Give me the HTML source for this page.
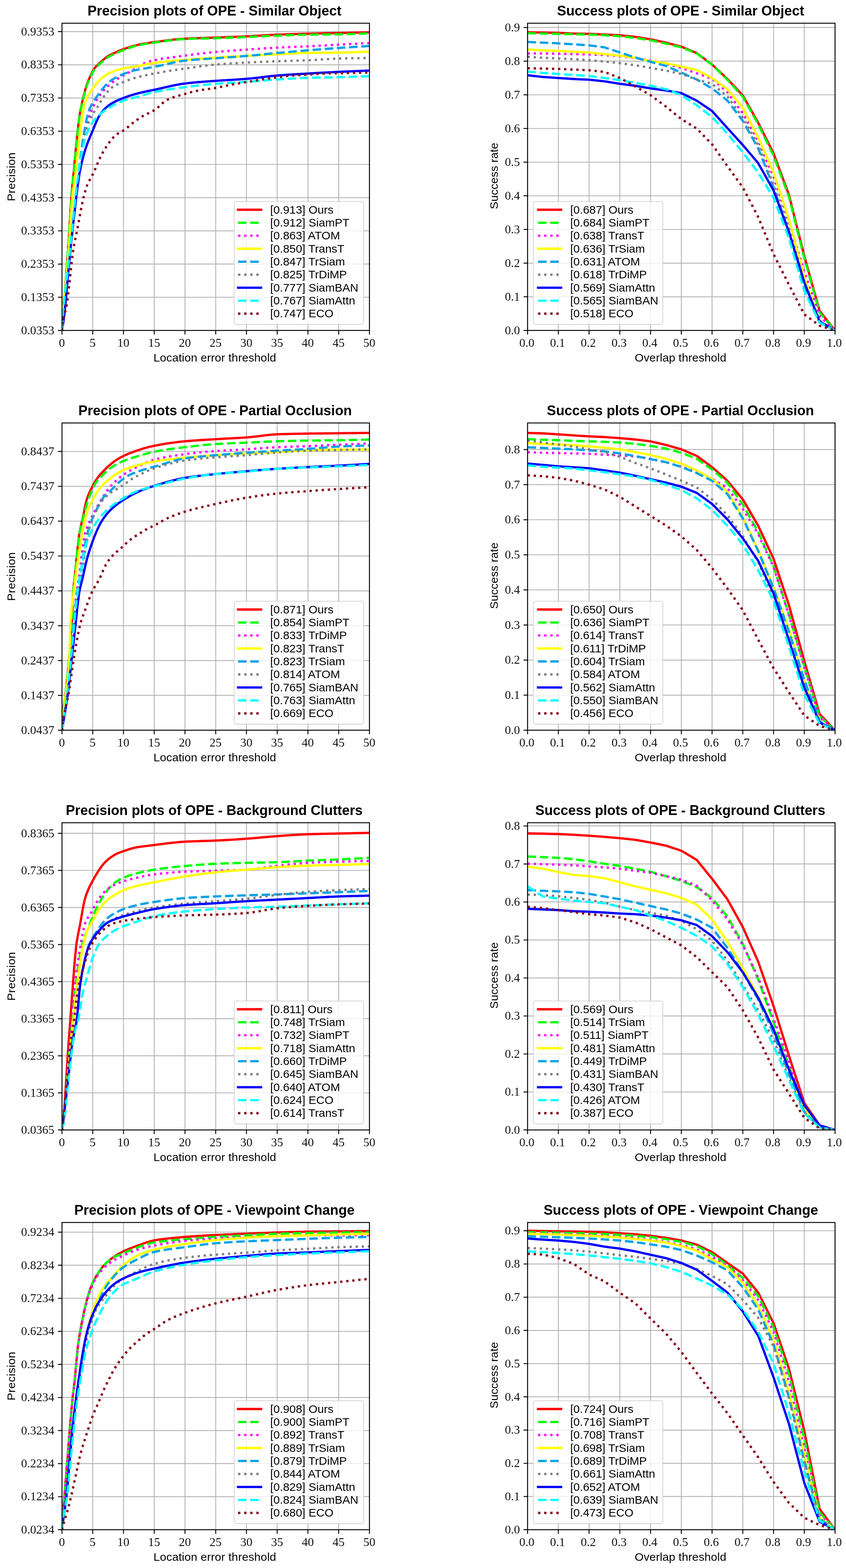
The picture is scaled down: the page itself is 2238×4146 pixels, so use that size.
<!DOCTYPE html><html><head><meta charset="utf-8"><title>Precision and Success plots of OPE</title>
<style>html,body{margin:0;padding:0;background:#fff;}svg{display:block;}#w{width:2238px;height:4146px;}.t{font-family:"Liberation Sans",Arial,Helvetica,sans-serif;}.tb{font-family:"Liberation Sans",Arial,Helvetica,sans-serif;font-weight:bold;}.n{font-family:"Liberation Serif","Times New Roman",serif;}</style></head><body>
<div id="w">
<svg width="2238" height="4146" viewBox="0 0 2238 4146">
<rect x="0" y="0" width="2238" height="4146" fill="#ffffff"/>
<g>
<path d="M164 61.4V873.8M245.33 61.4V873.8M326.66 61.4V873.8M407.99 61.4V873.8M489.32 61.4V873.8M570.65 61.4V873.8M651.98 61.4V873.8M733.31 61.4V873.8M814.64 61.4V873.8M895.97 61.4V873.8M977.3 61.4V873.8M164 873.8H977.3M164 785.99H977.3M164 698.18H977.3M164 610.38H977.3M164 522.57H977.3M164 434.76H977.3M164 346.95H977.3M164 259.14H977.3M164 171.34H977.3M164 83.53H977.3" stroke="#b0b0b0" stroke-width="2.2" fill="none"/>
<clipPath id="c0"><rect x="164" y="61.4" width="813.3" height="812.4"/></clipPath>
<g clip-path="url(#c0)" fill="none" stroke-width="6.08" stroke-linejoin="round">
<path d="M164.0 873.2 164.1 872.2 164.4 868.2 164.6 864.2 164.9 860.2 165.2 856.2 165.5 852.2 165.8 848.2 166.1 844.2 166.4 840.3 166.6 836.3 166.9 832.3 167.2 828.3 167.5 824.3 167.8 820.3 168.1 816.3 168.4 812.3 168.7 808.3 169.0 804.3 169.2 800.3 169.5 796.3 169.8 792.4 170.1 788.4 170.4 784.4 170.7 780.4 171.1 776.4 171.4 772.4 171.7 768.4 172.0 764.4 172.3 760.4 172.7 756.5 173.0 752.5 173.3 748.5 173.6 744.5 173.9 740.5 174.3 736.5 174.6 732.5 174.9 728.5 175.2 724.5 175.5 720.5 175.8 716.6 176.1 712.6 176.5 708.6 176.8 704.6 177.1 700.6 177.4 696.6 177.7 692.6 178.0 688.6 178.3 684.6 178.6 680.6 178.8 676.7 179.1 672.7 179.4 668.7 179.7 664.7 180.0 660.7 180.3 656.7 180.5 652.7 180.8 648.7 181.1 644.7 181.3 640.7 181.6 636.7 181.9 632.7 182.1 628.7 182.4 624.8 182.7 620.8 182.9 616.8 183.2 612.8 183.5 608.8 183.7 604.8 183.9 600.8 184.1 596.8 184.4 592.8 184.6 588.8 184.8 584.8 185.1 580.8 185.3 576.8 185.5 572.8 185.8 568.8 186.0 564.8 186.2 560.8 186.5 556.8 186.7 552.8 187.0 548.9 187.2 544.9 187.5 540.9 187.7 536.9 187.9 532.9 188.2 528.9 188.5 524.9 188.8 520.9 189.1 516.9 189.4 512.9 189.8 508.9 190.2 505.0 190.5 501.0 190.9 497.0 191.2 493.0 191.6 489.0 192.0 485.0 192.4 481.0 192.8 477.1 193.2 473.1 193.5 469.1 193.9 465.1 194.3 461.1 194.7 457.2 195.1 453.2 195.4 449.2 195.8 445.2 196.2 441.2 196.5 437.2 196.9 433.2 197.2 429.3 197.6 425.3 198.0 421.3 198.3 417.3 198.7 413.3 199.1 409.3 199.4 405.3 199.8 401.4 200.2 397.4 200.6 393.4 201.0 389.4 201.4 385.4 201.8 381.4 202.2 377.5 202.6 373.5 203.0 369.5 203.4 365.5 203.8 361.5 204.2 357.6 204.6 353.6 205.0 349.6 205.4 345.6 205.8 341.6 206.3 337.7 206.8 333.7 207.3 329.7 207.8 325.7 208.3 321.8 208.8 317.8 209.3 313.8 209.8 309.9 210.4 305.9 211.0 302.0 211.7 298.0 212.4 294.1 213.2 290.2 213.9 286.2 214.7 282.3 215.5 278.4 216.3 274.5 217.2 270.6 218.1 266.7 219.1 262.8 220.0 258.9 221.0 255.0 222.0 251.1 223.0 247.2 224.0 243.4 225.0 239.5 226.1 235.7 227.2 231.8 228.4 228.0 229.6 224.2 230.9 220.4 232.3 216.7 233.8 213.0 235.4 209.3 237.0 205.6 238.6 202.0 240.4 198.3 242.1 194.7 243.8 191.1 245.6 187.6 247.6 184.1 249.7 180.8 252.2 177.7 255.0 174.8 257.9 172.1 260.9 169.4 263.8 166.7 266.7 164.0 269.7 161.3 272.7 158.6 275.7 156.0 278.8 153.5 282.0 151.1 285.3 148.9 288.8 146.9 292.3 145.0 295.9 143.3 299.5 141.6 303.1 139.9 306.8 138.2 310.4 136.5 314.1 134.9 317.8 133.4 321.5 131.9 325.3 130.5 329.0 129.2 332.8 127.9 336.6 126.6 340.4 125.4 344.2 124.2 348.1 123.0 351.9 121.9 355.8 120.9 359.6 119.9 363.5 118.9 367.4 118.1 371.4 117.3 375.3 116.5 379.2 115.8 383.2 115.1 387.1 114.4 391.1 113.8 395.0 113.2 399.0 112.6 402.9 112.1 406.9 111.5 410.9 111.0 414.8 110.4 418.8 109.9 422.8 109.3 426.7 108.8 430.7 108.3 434.7 107.7 438.6 107.2 442.6 106.7 446.6 106.2 450.5 105.8 454.5 105.3 458.5 104.8 462.5 104.4 466.5 104.0 470.4 103.6 474.4 103.3 478.4 103.0 482.4 102.7 486.4 102.4 490.4 102.2 494.4 102.0 498.4 101.8 502.4 101.6 506.4 101.4 510.4 101.3 514.4 101.1 518.4 101.0 522.4 100.9 526.4 100.7 530.4 100.6 534.4 100.5 538.4 100.4 542.4 100.2 546.4 100.1 550.4 100.0 554.4 99.9 558.4 99.8 562.4 99.6 566.4 99.5 570.4 99.3 574.4 99.2 578.4 99.0 582.4 98.9 586.4 98.7 590.4 98.6 594.4 98.4 598.4 98.3 602.4 98.1 606.4 98.0 610.4 97.8 614.4 97.7 618.4 97.5 622.4 97.4 626.4 97.2 630.4 97.0 634.4 96.9 638.4 96.7 642.4 96.5 646.4 96.3 650.4 96.2 654.3 96.0 658.3 95.8 662.3 95.6 666.3 95.4 670.3 95.1 674.3 94.9 678.3 94.7 682.3 94.4 686.3 94.2 690.3 94.0 694.3 93.7 698.3 93.5 702.3 93.3 706.3 93.0 710.3 92.8 714.3 92.6 718.3 92.4 722.3 92.2 726.3 92.0 730.3 91.8 734.3 91.7 738.3 91.5 742.3 91.3 746.3 91.2 750.3 91.0 754.3 90.9 758.3 90.8 762.3 90.6 766.3 90.5 770.3 90.4 774.3 90.2 778.3 90.1 782.3 90.0 786.3 89.9 790.3 89.7 794.3 89.6 798.3 89.5 802.3 89.4 806.3 89.3 810.3 89.2 814.3 89.1 818.3 89.0 822.3 88.9 826.3 88.8 830.3 88.7 834.3 88.6 838.3 88.5 842.3 88.4 846.3 88.3 850.3 88.2 854.3 88.2 858.3 88.1 862.3 88.0 866.3 87.9 870.3 87.8 874.3 87.8 878.3 87.7 882.3 87.6 886.3 87.5 890.3 87.4 894.3 87.3 898.3 87.3 902.3 87.2 906.3 87.1 910.3 87.0 914.3 86.9 918.3 86.8 922.3 86.7 926.3 86.6 930.3 86.6 934.3 86.5 938.3 86.4 942.3 86.3 946.3 86.2 950.3 86.1 954.3 86.0 958.3 86.0 962.3 85.9 966.3 85.8 970.3 85.7 974.3 85.6 977.3 85.5" stroke="#ff0000" stroke-linecap="square"/>
<path d="M164.0 873.2 164.1 872.2 164.4 868.2 164.6 864.2 164.9 860.2 165.2 856.2 165.5 852.2 165.8 848.2 166.1 844.3 166.4 840.3 166.6 836.3 166.9 832.3 167.2 828.3 167.5 824.3 167.8 820.3 168.1 816.3 168.4 812.3 168.7 808.3 169.0 804.3 169.2 800.4 169.5 796.4 169.8 792.4 170.1 788.4 170.4 784.4 170.7 780.4 171.1 776.4 171.4 772.4 171.7 768.4 172.0 764.4 172.3 760.5 172.7 756.5 173.0 752.5 173.3 748.5 173.6 744.5 173.9 740.5 174.3 736.5 174.6 732.5 174.9 728.6 175.2 724.6 175.5 720.6 175.8 716.6 176.1 712.6 176.5 708.6 176.8 704.6 177.1 700.6 177.4 696.6 177.7 692.6 178.0 688.7 178.3 684.7 178.5 680.7 178.8 676.7 179.1 672.7 179.4 668.7 179.7 664.7 180.0 660.7 180.3 656.7 180.5 652.7 180.8 648.7 181.1 644.8 181.3 640.8 181.6 636.8 181.9 632.8 182.1 628.8 182.4 624.8 182.7 620.8 182.9 616.8 183.2 612.8 183.5 608.8 183.7 604.8 183.9 600.8 184.2 596.8 184.4 592.8 184.6 588.9 184.9 584.9 185.1 580.9 185.3 576.9 185.6 572.9 185.8 568.9 186.1 564.9 186.3 560.9 186.6 556.9 186.8 552.9 187.1 548.9 187.3 544.9 187.6 540.9 187.8 536.9 188.1 532.9 188.4 528.9 188.7 525.0 189.0 521.0 189.3 517.0 189.7 513.0 190.0 509.0 190.4 505.0 190.7 501.0 191.1 497.1 191.5 493.1 191.8 489.1 192.2 485.1 192.6 481.1 193.0 477.1 193.4 473.2 193.8 469.2 194.2 465.2 194.6 461.2 194.9 457.2 195.3 453.2 195.7 449.3 196.0 445.3 196.4 441.3 196.7 437.3 197.1 433.3 197.5 429.3 197.8 425.3 198.2 421.4 198.6 417.4 198.9 413.4 199.3 409.4 199.7 405.4 200.0 401.4 200.4 397.5 200.8 393.5 201.2 389.5 201.6 385.5 202.0 381.5 202.4 377.6 202.8 373.6 203.2 369.6 203.6 365.6 204.0 361.6 204.4 357.6 204.8 353.7 205.2 349.7 205.7 345.7 206.1 341.7 206.6 337.8 207.1 333.8 207.6 329.8 208.1 325.9 208.6 321.9 209.1 317.9 209.6 313.9 210.1 310.0 210.8 306.0 211.4 302.1 212.2 298.2 212.9 294.2 213.7 290.3 214.4 286.4 215.2 282.4 216.0 278.5 216.9 274.6 217.8 270.7 218.7 266.8 219.7 262.9 220.6 259.1 221.6 255.2 222.6 251.3 223.6 247.4 224.6 243.6 225.7 239.7 226.8 235.9 228.0 232.0 229.2 228.2 230.5 224.4 231.8 220.7 233.3 217.0 234.8 213.3 236.4 209.6 238.0 205.9 239.7 202.3 241.4 198.7 243.2 195.1 244.9 191.5 246.8 188.0 248.9 184.6 251.3 181.4 253.9 178.5 256.8 175.8 259.8 173.1 262.7 170.3 265.6 167.6 268.6 164.9 271.5 162.2 274.6 159.6 277.6 157.1 280.8 154.6 284.1 152.3 287.5 150.3 291.0 148.4 294.6 146.6 298.2 144.8 301.8 143.1 305.4 141.4 309.1 139.8 312.7 138.2 316.4 136.6 320.1 135.1 323.8 133.6 327.6 132.2 331.3 130.7 335.0 129.3 338.8 128.0 342.6 126.6 346.4 125.3 350.2 124.1 354.0 122.9 357.8 121.8 361.7 120.8 365.6 119.8 369.5 119.0 373.4 118.2 377.3 117.4 381.3 116.7 385.2 116.1 389.2 115.5 393.1 114.9 397.1 114.3 401.1 113.7 405.0 113.2 409.0 112.6 412.9 112.1 416.9 111.5 420.9 110.9 424.8 110.3 428.8 109.8 432.7 109.2 436.7 108.6 440.7 108.1 444.6 107.5 448.6 107.0 452.6 106.5 456.5 106.0 460.5 105.5 464.5 105.1 468.5 104.7 472.4 104.3 476.4 103.9 480.4 103.6 484.4 103.4 488.4 103.2 492.4 103.0 496.4 102.8 500.4 102.7 504.4 102.6 508.4 102.5 512.4 102.3 516.4 102.2 520.4 102.1 524.4 102.1 528.4 102.0 532.4 101.9 536.4 101.8 540.4 101.7 544.4 101.6 548.4 101.6 552.4 101.5 556.4 101.4 560.4 101.3 564.4 101.2 568.4 101.1 572.4 100.9 576.4 100.8 580.4 100.7 584.4 100.5 588.4 100.4 592.4 100.3 596.4 100.1 600.4 99.9 604.4 99.8 608.4 99.6 612.4 99.5 616.4 99.3 620.4 99.1 624.4 99.0 628.4 98.8 632.4 98.7 636.4 98.5 640.4 98.3 644.4 98.2 648.4 98.0 652.4 97.8 656.4 97.7 660.4 97.5 664.4 97.3 668.4 97.1 672.4 97.0 676.4 96.8 680.4 96.6 684.3 96.4 688.3 96.2 692.3 96.1 696.3 95.9 700.3 95.7 704.3 95.5 708.3 95.3 712.3 95.2 716.3 95.0 720.3 94.8 724.3 94.7 728.3 94.5 732.3 94.4 736.3 94.2 740.3 94.1 744.3 93.9 748.3 93.8 752.3 93.6 756.3 93.5 760.3 93.3 764.3 93.2 768.3 93.0 772.3 92.9 776.3 92.7 780.3 92.6 784.3 92.5 788.3 92.3 792.3 92.2 796.3 92.1 800.3 92.0 804.3 91.9 808.3 91.8 812.3 91.7 816.3 91.7 820.3 91.6 824.3 91.6 828.3 91.5 832.3 91.5 836.3 91.4 840.3 91.4 844.3 91.3 848.3 91.3 852.3 91.3 856.3 91.2 860.3 91.2 864.3 91.2 868.3 91.1 872.3 91.1 876.3 91.1 880.3 91.0 884.3 91.0 888.3 90.9 892.3 90.9 896.3 90.8 900.3 90.7 904.3 90.6 908.3 90.6 912.3 90.4 916.3 90.3 920.3 90.2 924.3 90.1 928.3 90.0 932.3 89.8 936.3 89.7 940.3 89.5 944.3 89.4 948.3 89.2 952.3 89.1 956.3 88.9 960.3 88.8 964.3 88.6 968.3 88.5 972.3 88.4 976.3 88.2 977.3 88.2" stroke="#00ff00" stroke-dasharray="22.5,9.73"/>
<path d="M164.0 869.7 164.1 868.7 164.4 864.7 164.7 860.7 165.0 856.7 165.3 852.7 165.6 848.7 166.0 844.7 166.3 840.8 166.6 836.8 166.9 832.8 167.2 828.8 167.6 824.8 167.9 820.8 168.2 816.8 168.6 812.8 168.9 808.9 169.2 804.9 169.6 800.9 170.0 796.9 170.4 792.9 170.8 788.9 171.2 785.0 171.6 781.0 172.0 777.0 172.4 773.0 172.8 769.0 173.2 765.1 173.6 761.1 174.0 757.1 174.4 753.1 174.8 749.1 175.3 745.2 175.7 741.2 176.2 737.2 176.6 733.2 177.0 729.2 177.5 725.3 177.9 721.3 178.3 717.3 178.8 713.3 179.2 709.4 179.6 705.4 180.1 701.4 180.5 697.4 180.9 693.5 181.4 689.5 181.8 685.5 182.2 681.5 182.7 677.5 183.1 673.6 183.5 669.6 184.0 665.6 184.4 661.6 184.8 657.7 185.3 653.7 185.7 649.7 186.2 645.7 186.6 641.7 187.0 637.8 187.5 633.8 187.9 629.8 188.3 625.8 188.8 621.9 189.2 617.9 189.6 613.9 190.0 609.9 190.5 605.9 190.9 602.0 191.3 598.0 191.7 594.0 192.2 590.0 192.6 586.1 193.0 582.1 193.5 578.1 193.9 574.1 194.4 570.1 194.8 566.2 195.2 562.2 195.7 558.2 196.1 554.2 196.6 550.3 197.0 546.3 197.5 542.3 198.0 538.3 198.5 534.4 199.0 530.4 199.4 526.4 199.9 522.5 200.4 518.5 200.9 514.5 201.4 510.5 201.9 506.6 202.5 502.6 203.0 498.6 203.5 494.7 204.1 490.7 204.6 486.7 205.1 482.8 205.7 478.8 206.2 474.9 206.7 470.9 207.3 466.9 207.8 463.0 208.4 459.0 208.9 455.0 209.5 451.1 210.0 447.1 210.6 443.1 211.1 439.2 211.6 435.2 212.2 431.3 212.7 427.3 213.3 423.3 213.8 419.4 214.4 415.4 214.9 411.4 215.5 407.5 216.1 403.5 216.6 399.6 217.2 395.6 217.8 391.6 218.4 387.7 219.0 383.7 219.6 379.8 220.2 375.8 220.9 371.9 221.5 367.9 222.2 364.0 222.8 360.0 223.5 356.1 224.2 352.2 225.0 348.2 225.8 344.3 226.7 340.4 227.5 336.5 228.4 332.6 229.4 328.7 230.4 324.9 231.6 321.0 232.7 317.2 233.9 313.4 235.2 309.6 236.6 305.8 238.0 302.1 239.4 298.4 240.9 294.6 242.5 291.0 244.1 287.3 245.7 283.6 247.4 280.0 249.2 276.4 251.0 272.9 252.9 269.4 254.9 265.9 257.0 262.5 259.1 259.1 261.3 255.7 263.6 252.4 265.9 249.2 268.4 246.1 270.9 243.0 273.5 239.9 276.2 236.9 278.9 234.0 281.7 231.2 284.6 228.4 287.6 225.7 290.6 223.1 293.7 220.6 296.9 218.1 300.1 215.8 303.3 213.5 306.7 211.2 310.0 209.1 313.4 206.9 316.8 204.8 320.3 202.8 323.7 200.8 327.2 198.8 330.7 196.9 334.3 195.0 337.8 193.2 341.3 191.3 344.9 189.4 348.4 187.5 351.8 185.5 355.2 183.4 358.6 181.2 361.9 179.0 365.3 176.8 368.6 174.7 372.0 172.5 375.5 170.5 379.0 168.6 382.5 166.8 386.2 165.2 390.0 163.9 393.8 162.8 397.7 161.7 401.6 160.8 405.5 159.9 409.4 159.0 413.3 158.2 417.2 157.4 421.1 156.7 425.1 156.0 429.0 155.3 433.0 154.6 436.9 154.0 440.9 153.4 444.8 152.9 448.8 152.3 452.8 151.8 456.7 151.3 460.7 150.7 464.7 150.2 468.6 149.7 472.6 149.2 476.6 148.7 480.5 148.2 484.5 147.7 488.5 147.1 492.4 146.6 496.4 146.0 500.4 145.5 504.3 145.0 508.3 144.5 512.3 143.9 516.2 143.4 520.2 142.9 524.2 142.4 528.1 141.9 532.1 141.5 536.1 141.0 540.1 140.5 544.0 140.1 548.0 139.7 552.0 139.2 556.0 138.8 560.0 138.4 563.9 138.0 567.9 137.6 571.9 137.2 575.9 136.9 579.9 136.5 583.9 136.2 587.8 135.9 591.8 135.5 595.8 135.2 599.8 134.9 603.8 134.6 607.8 134.3 611.8 134.0 615.8 133.7 619.8 133.4 623.8 133.2 627.7 132.9 631.7 132.6 635.7 132.3 639.7 132.1 643.7 131.8 647.7 131.5 651.7 131.2 655.7 130.9 659.7 130.7 663.7 130.4 667.7 130.1 671.7 129.8 675.6 129.6 679.6 129.3 683.6 129.0 687.6 128.7 691.6 128.5 695.6 128.2 699.6 127.9 703.6 127.7 707.6 127.4 711.6 127.2 715.6 126.9 719.6 126.7 723.6 126.5 727.6 126.3 731.5 126.0 735.5 125.8 739.5 125.6 743.5 125.4 747.5 125.3 751.5 125.1 755.5 124.9 759.5 124.7 763.5 124.6 767.5 124.4 771.5 124.2 775.5 124.1 779.5 123.9 783.5 123.8 787.5 123.6 791.5 123.4 795.5 123.3 799.5 123.1 803.5 122.9 807.5 122.8 811.5 122.6 815.5 122.4 819.5 122.2 823.5 122.0 827.5 121.8 831.5 121.6 835.5 121.4 839.5 121.2 843.5 120.9 847.5 120.7 851.5 120.5 855.4 120.3 859.4 120.1 863.4 119.8 867.4 119.6 871.4 119.4 875.4 119.2 879.4 118.9 883.4 118.7 887.4 118.5 891.4 118.3 895.4 118.1 899.4 117.9 903.4 117.6 907.4 117.4 911.4 117.2 915.4 117.0 919.4 116.8 923.4 116.6 927.4 116.3 931.4 116.1 935.3 115.9 939.3 115.7 943.3 115.5 947.3 115.3 951.3 115.0 955.3 114.8 959.3 114.6 963.3 114.4 967.3 114.2 971.3 114.0 975.3 113.8 977.3 113.6" stroke="#ff00ff" stroke-dasharray="6.08,10.03"/>
<path d="M164.0 834.5 164.1 833.6 164.6 829.6 165.0 825.6 165.5 821.6 166.0 817.7 166.4 813.7 166.9 809.7 167.3 805.7 167.8 801.8 168.3 797.8 168.7 793.8 169.2 789.8 169.6 785.8 170.1 781.9 170.5 777.9 171.0 773.9 171.5 769.9 171.9 766.0 172.4 762.0 172.8 758.0 173.3 754.0 173.7 750.1 174.2 746.1 174.6 742.1 175.0 738.1 175.4 734.1 175.8 730.2 176.1 726.2 176.5 722.2 176.9 718.2 177.3 714.2 177.7 710.2 178.1 706.3 178.5 702.3 178.9 698.3 179.2 694.3 179.5 690.3 179.8 686.3 180.1 682.3 180.4 678.3 180.7 674.4 181.0 670.4 181.3 666.4 181.6 662.4 181.9 658.4 182.2 654.4 182.5 650.4 182.7 646.4 183.0 642.4 183.3 638.4 183.5 634.4 183.8 630.4 184.1 626.4 184.3 622.5 184.6 618.5 184.9 614.5 185.1 610.5 185.4 606.5 185.7 602.5 185.9 598.5 186.2 594.5 186.4 590.5 186.7 586.5 186.9 582.5 187.2 578.5 187.5 574.5 187.7 570.5 188.0 566.5 188.2 562.6 188.5 558.6 188.8 554.6 189.1 550.6 189.4 546.6 189.7 542.6 190.0 538.6 190.3 534.6 190.6 530.6 190.9 526.6 191.3 522.7 191.7 518.7 192.2 514.7 192.7 510.7 193.2 506.8 193.7 502.8 194.2 498.8 194.7 494.8 195.2 490.9 195.7 486.9 196.3 483.0 196.9 479.0 197.4 475.0 198.0 471.1 198.6 467.1 199.1 463.1 199.7 459.2 200.2 455.2 200.6 451.2 201.1 447.3 201.5 443.3 202.0 439.3 202.4 435.3 202.8 431.3 203.3 427.4 203.7 423.4 204.2 419.4 204.6 415.4 205.0 411.5 205.4 407.5 205.9 403.5 206.3 399.5 206.7 395.5 207.1 391.6 207.5 387.6 208.0 383.6 208.4 379.6 208.8 375.6 209.3 371.7 209.7 367.7 210.2 363.7 210.7 359.7 211.2 355.8 211.7 351.8 212.2 347.8 212.7 343.9 213.2 339.9 213.7 335.9 214.2 332.0 214.8 328.0 215.4 324.0 216.0 320.1 216.6 316.1 217.2 312.2 217.9 308.2 218.5 304.3 219.2 300.3 219.9 296.4 220.6 292.4 221.3 288.5 222.1 284.6 222.9 280.7 223.8 276.8 224.8 272.9 225.9 269.1 227.2 265.3 228.6 261.6 230.3 257.9 232.1 254.3 234.0 250.9 236.1 247.4 238.3 244.1 240.5 240.8 242.9 237.6 245.2 234.3 247.5 231.1 249.9 227.8 252.3 224.6 254.8 221.5 257.3 218.4 260.0 215.5 262.8 212.6 265.7 209.9 268.7 207.2 271.8 204.7 275.0 202.2 278.2 199.9 281.5 197.7 285.0 195.6 288.5 193.8 292.1 192.0 295.8 190.4 299.5 188.9 303.2 187.5 307.0 186.2 310.8 185.0 314.6 183.8 318.5 182.8 322.4 181.9 326.3 181.0 330.2 180.2 334.2 179.5 338.1 178.9 342.1 178.2 346.0 177.6 350.0 177.0 353.9 176.4 357.9 175.8 361.8 175.1 365.8 174.5 369.7 173.7 373.6 173.0 377.6 172.2 381.5 171.4 385.4 170.5 389.3 169.7 393.2 168.9 397.2 168.2 401.1 167.5 405.0 166.8 409.0 166.2 413.0 165.7 416.9 165.2 420.9 164.7 424.9 164.3 428.9 163.8 432.9 163.4 436.8 163.0 440.8 162.6 444.8 162.2 448.8 161.9 452.8 161.5 456.8 161.2 460.7 160.8 464.7 160.5 468.7 160.1 472.7 159.8 476.7 159.5 480.7 159.2 484.7 158.8 488.7 158.5 492.6 158.1 496.6 157.8 500.6 157.5 504.6 157.2 508.6 156.8 512.6 156.5 516.6 156.2 520.6 155.9 524.6 155.6 528.5 155.2 532.5 154.9 536.5 154.6 540.5 154.3 544.5 154.1 548.5 153.8 552.5 153.5 556.5 153.2 560.5 152.9 564.5 152.7 568.5 152.4 572.5 152.2 576.5 151.9 580.5 151.7 584.4 151.5 588.4 151.2 592.4 151.0 596.4 150.8 600.4 150.6 604.4 150.4 608.4 150.1 612.4 149.9 616.4 149.7 620.4 149.5 624.4 149.3 628.4 149.1 632.4 148.9 636.4 148.7 640.4 148.5 644.4 148.3 648.4 148.1 652.4 147.9 656.4 147.7 660.4 147.4 664.4 147.2 668.4 147.0 672.4 146.8 676.4 146.5 680.4 146.3 684.4 146.1 688.3 145.9 692.3 145.7 696.3 145.4 700.3 145.2 704.3 145.0 708.3 144.8 712.3 144.6 716.3 144.4 720.3 144.1 724.3 143.9 728.3 143.7 732.3 143.5 736.3 143.4 740.3 143.2 744.3 143.0 748.3 142.7 752.3 142.5 756.3 142.3 760.3 142.1 764.3 141.9 768.3 141.7 772.3 141.5 776.3 141.3 780.3 141.1 784.3 141.0 788.3 140.8 792.3 140.6 796.3 140.5 800.3 140.4 804.3 140.2 808.3 140.1 812.3 140.0 816.3 140.0 820.3 139.9 824.3 139.8 828.3 139.8 832.3 139.7 836.3 139.7 840.3 139.7 844.3 139.6 848.3 139.6 852.3 139.6 856.3 139.5 860.3 139.5 864.3 139.5 868.3 139.4 872.3 139.4 876.3 139.4 880.3 139.3 884.3 139.3 888.3 139.2 892.3 139.2 896.3 139.1 900.3 139.0 904.3 138.9 908.3 138.8 912.3 138.7 916.3 138.6 920.3 138.5 924.3 138.4 928.3 138.2 932.3 138.1 936.3 138.0 940.3 137.8 944.3 137.7 948.3 137.5 952.3 137.4 956.3 137.2 960.3 137.1 964.3 136.9 968.3 136.8 972.3 136.6 976.3 136.5 977.3 136.5" stroke="#ffff00" stroke-linecap="square"/>
<path d="M164.0 869.7 164.1 868.7 164.4 864.7 164.7 860.7 164.9 856.7 165.2 852.7 165.5 848.7 165.8 844.7 166.1 840.7 166.4 836.7 166.7 832.8 167.0 828.8 167.3 824.8 167.7 820.8 168.0 816.8 168.3 812.8 168.6 808.8 169.0 804.8 169.4 800.9 169.8 796.9 170.3 792.9 170.7 788.9 171.2 785.0 171.6 781.0 172.0 777.0 172.5 773.0 172.9 769.0 173.3 765.1 173.8 761.1 174.3 757.1 174.7 753.1 175.2 749.2 175.7 745.2 176.2 741.2 176.7 737.3 177.2 733.3 177.7 729.3 178.1 725.3 178.6 721.4 179.1 717.4 179.5 713.4 180.0 709.4 180.4 705.5 180.9 701.5 181.3 697.5 181.8 693.5 182.2 689.6 182.7 685.6 183.1 681.6 183.6 677.6 184.0 673.7 184.5 669.7 184.9 665.7 185.3 661.7 185.7 657.7 186.2 653.8 186.6 649.8 187.0 645.8 187.5 641.8 187.9 637.8 188.3 633.9 188.7 629.9 189.1 625.9 189.5 621.9 189.9 617.9 190.3 614.0 190.7 610.0 191.1 606.0 191.5 602.0 191.9 598.0 192.3 594.0 192.6 590.1 193.0 586.1 193.4 582.1 193.8 578.1 194.2 574.1 194.6 570.2 195.0 566.2 195.4 562.2 195.8 558.2 196.2 554.2 196.6 550.2 197.1 546.3 197.5 542.3 197.9 538.3 198.4 534.3 198.9 530.4 199.3 526.4 199.8 522.4 200.3 518.4 200.8 514.5 201.2 510.5 201.7 506.5 202.2 502.6 202.7 498.6 203.2 494.6 203.7 490.6 204.2 486.7 204.7 482.7 205.2 478.7 205.7 474.8 206.2 470.8 206.7 466.8 207.2 462.9 207.7 458.9 208.2 454.9 208.7 450.9 209.2 447.0 209.7 443.0 210.2 439.0 210.7 435.1 211.2 431.1 211.7 427.1 212.2 423.1 212.7 419.2 213.2 415.2 213.7 411.2 214.2 407.3 214.7 403.3 215.2 399.3 215.8 395.4 216.3 391.4 216.9 387.4 217.5 383.5 218.1 379.5 218.7 375.6 219.3 371.6 219.8 367.7 220.5 363.7 221.1 359.7 221.7 355.8 222.4 351.9 223.1 347.9 223.8 344.0 224.5 340.0 225.2 336.1 225.9 332.2 226.6 328.2 227.4 324.3 228.2 320.4 228.9 316.4 229.7 312.5 230.6 308.6 231.6 304.7 232.6 300.9 233.7 297.0 234.8 293.2 236.2 289.4 237.7 285.7 239.4 282.1 241.2 278.6 243.2 275.1 245.3 271.7 247.5 268.4 249.8 265.1 252.0 261.8 254.2 258.4 256.5 255.1 258.7 251.8 261.0 248.5 263.4 245.3 265.8 242.1 268.2 238.9 270.7 235.8 273.2 232.7 275.8 229.6 278.4 226.6 281.1 223.6 283.9 220.8 286.8 218.1 289.9 215.6 293.1 213.2 296.4 210.9 299.8 208.8 303.2 206.8 306.7 204.8 310.3 203.0 313.9 201.2 317.5 199.5 321.2 197.9 324.9 196.4 328.6 194.9 332.3 193.5 336.1 192.1 339.9 190.8 343.7 189.5 347.5 188.4 351.3 187.3 355.2 186.3 359.1 185.4 363.0 184.5 366.9 183.7 370.9 183.0 374.8 182.3 378.8 181.6 382.7 181.0 386.7 180.4 390.6 179.8 394.6 179.1 398.5 178.5 402.5 177.8 406.4 177.1 410.3 176.4 414.3 175.6 418.2 174.8 422.1 173.9 426.0 173.1 429.9 172.2 433.8 171.3 437.7 170.3 441.6 169.4 445.5 168.5 449.4 167.6 453.3 166.7 457.2 165.8 461.1 165.0 465.0 164.2 468.9 163.4 472.9 162.7 476.8 162.0 480.8 161.4 484.7 160.8 488.7 160.3 492.7 159.9 496.6 159.4 500.6 159.1 504.6 158.7 508.6 158.4 512.6 158.0 516.6 157.7 520.6 157.4 524.6 157.1 528.5 156.9 532.5 156.6 536.5 156.3 540.5 156.1 544.5 155.8 548.5 155.6 552.5 155.3 556.5 155.0 560.5 154.8 564.5 154.5 568.5 154.2 572.5 153.9 576.5 153.6 580.4 153.3 584.4 153.0 588.4 152.7 592.4 152.4 596.4 152.1 600.4 151.9 604.4 151.6 608.4 151.3 612.4 151.0 616.4 150.7 620.4 150.4 624.3 150.1 628.3 149.8 632.3 149.5 636.3 149.2 640.3 148.8 644.3 148.5 648.3 148.2 652.3 147.9 656.2 147.5 660.2 147.2 664.2 146.8 668.2 146.4 672.2 146.0 676.2 145.7 680.2 145.3 684.1 144.9 688.1 144.5 692.1 144.1 696.1 143.7 700.1 143.3 704.0 142.8 708.0 142.4 712.0 142.0 716.0 141.6 720.0 141.3 723.9 140.9 727.9 140.5 731.9 140.1 735.9 139.8 739.9 139.4 743.9 139.0 747.9 138.7 751.8 138.3 755.8 138.0 759.8 137.6 763.8 137.3 767.8 136.9 771.8 136.6 775.8 136.2 779.7 135.9 783.7 135.5 787.7 135.2 791.7 134.9 795.7 134.5 799.7 134.2 803.7 133.9 807.7 133.5 811.6 133.2 815.6 132.9 819.6 132.6 823.6 132.2 827.6 131.9 831.6 131.6 835.6 131.3 839.6 131.0 843.6 130.7 847.6 130.4 851.5 130.1 855.5 129.8 859.5 129.5 863.5 129.2 867.5 128.9 871.5 128.6 875.5 128.3 879.5 128.0 883.5 127.7 887.5 127.4 891.4 127.1 895.4 126.9 899.4 126.6 903.4 126.3 907.4 126.0 911.4 125.8 915.4 125.5 919.4 125.2 923.4 125.0 927.4 124.7 931.4 124.5 935.4 124.2 939.4 124.0 943.4 123.7 947.3 123.5 951.3 123.2 955.3 122.9 959.3 122.7 963.3 122.4 967.3 122.2 971.3 121.9 975.3 121.7 977.3 121.5" stroke="#00a2e8" stroke-dasharray="22.5,9.73"/>
<path d="M164.0 869.7 164.1 868.7 164.4 864.7 164.7 860.7 164.9 856.7 165.2 852.7 165.5 848.7 165.8 844.7 166.1 840.7 166.4 836.8 166.7 832.8 167.0 828.8 167.3 824.8 167.7 820.8 168.0 816.8 168.3 812.8 168.6 808.8 169.0 804.9 169.4 800.9 169.8 796.9 170.3 792.9 170.7 788.9 171.1 785.0 171.6 781.0 172.0 777.0 172.5 773.0 172.9 769.1 173.3 765.1 173.8 761.1 174.3 757.1 174.7 753.2 175.2 749.2 175.7 745.2 176.2 741.3 176.7 737.3 177.2 733.3 177.7 729.3 178.1 725.4 178.6 721.4 179.1 717.4 179.5 713.4 180.0 709.5 180.4 705.5 180.9 701.5 181.3 697.5 181.8 693.6 182.2 689.6 182.7 685.6 183.1 681.6 183.6 677.7 184.0 673.7 184.4 669.7 184.9 665.7 185.3 661.8 185.7 657.8 186.2 653.8 186.6 649.8 187.0 645.9 187.5 641.9 187.9 637.9 188.3 633.9 188.7 629.9 189.1 626.0 189.5 622.0 189.9 618.0 190.3 614.0 190.7 610.0 191.1 606.0 191.4 602.1 191.8 598.1 192.2 594.1 192.6 590.1 193.0 586.1 193.4 582.2 193.8 578.2 194.2 574.2 194.6 570.2 195.0 566.2 195.4 562.3 195.8 558.3 196.2 554.3 196.6 550.3 197.1 546.3 197.5 542.4 198.0 538.4 198.5 534.4 199.0 530.5 199.5 526.5 200.0 522.5 200.4 518.5 200.9 514.6 201.4 510.6 202.0 506.6 202.5 502.7 203.0 498.7 203.6 494.7 204.1 490.8 204.6 486.8 205.2 482.8 205.7 478.9 206.2 474.9 206.8 471.0 207.3 467.0 207.8 463.0 208.3 459.1 208.9 455.1 209.4 451.1 209.9 447.2 210.5 443.2 211.0 439.2 211.5 435.3 212.1 431.3 212.7 427.3 213.3 423.4 213.8 419.4 214.4 415.5 215.0 411.5 215.6 407.6 216.2 403.6 216.8 399.6 217.5 395.7 218.1 391.8 218.8 387.8 219.4 383.9 220.1 379.9 220.8 376.0 221.5 372.0 222.2 368.1 223.0 364.2 223.7 360.2 224.5 356.3 225.4 352.4 226.3 348.5 227.2 344.6 228.3 340.8 229.4 336.9 230.7 333.2 232.0 329.4 233.5 325.7 235.0 322.0 236.7 318.3 238.4 314.7 240.2 311.2 242.1 307.7 244.1 304.2 246.1 300.7 248.3 297.4 250.5 294.1 252.8 290.8 255.0 287.5 257.3 284.1 259.4 280.7 261.4 277.3 263.4 273.8 265.4 270.4 267.4 266.9 269.4 263.5 271.5 260.1 273.7 256.7 276.0 253.5 278.4 250.2 280.9 247.1 283.4 244.0 286.0 240.9 288.6 237.9 291.5 235.1 294.4 232.5 297.6 230.1 301.0 227.9 304.4 226.0 308.0 224.2 311.7 222.6 315.4 221.1 319.1 219.7 322.9 218.2 326.6 216.8 330.3 215.4 334.1 213.9 337.8 212.5 341.5 211.1 345.3 209.7 349.1 208.4 352.9 207.2 356.7 206.0 360.5 204.9 364.4 203.8 368.3 202.8 372.2 201.9 376.1 201.0 380.0 200.1 383.9 199.2 387.8 198.4 391.7 197.6 395.6 196.8 399.5 196.0 403.5 195.3 407.4 194.5 411.3 193.8 415.3 193.1 419.2 192.4 423.2 191.7 427.1 191.0 431.0 190.3 435.0 189.6 438.9 189.0 442.9 188.3 446.8 187.7 450.8 187.1 454.7 186.4 458.7 185.8 462.6 185.2 466.6 184.6 470.5 184.0 474.5 183.4 478.5 182.8 482.4 182.3 486.4 181.7 490.3 181.1 494.3 180.5 498.3 180.0 502.2 179.4 506.2 178.8 510.1 178.2 514.1 177.7 518.0 177.1 522.0 176.5 526.0 176.0 529.9 175.4 533.9 174.9 537.9 174.4 541.8 173.9 545.8 173.4 549.8 172.9 553.7 172.4 557.7 172.0 561.7 171.6 565.7 171.2 569.7 170.8 573.7 170.5 577.6 170.1 581.6 169.8 585.6 169.5 589.6 169.2 593.6 168.9 597.6 168.6 601.6 168.4 605.6 168.1 609.6 167.9 613.6 167.6 617.6 167.4 621.5 167.1 625.5 166.9 629.5 166.7 633.5 166.4 637.5 166.2 641.5 166.0 645.5 165.8 649.5 165.6 653.5 165.4 657.5 165.2 661.5 165.0 665.5 164.8 669.5 164.6 673.5 164.4 677.5 164.2 681.5 164.0 685.5 163.9 689.5 163.7 693.5 163.5 697.5 163.3 701.5 163.2 705.5 163.0 709.5 162.9 713.5 162.7 717.5 162.5 721.4 162.4 725.4 162.2 729.4 162.1 733.4 161.9 737.4 161.8 741.4 161.7 745.4 161.5 749.4 161.4 753.4 161.3 757.4 161.1 761.4 161.0 765.4 160.9 769.4 160.8 773.4 160.7 777.4 160.6 781.4 160.4 785.4 160.3 789.4 160.2 793.4 160.1 797.4 159.9 801.4 159.8 805.4 159.7 809.4 159.5 813.4 159.3 817.4 159.2 821.4 159.0 825.4 158.8 829.4 158.6 833.4 158.4 837.4 158.1 841.4 157.9 845.4 157.6 849.4 157.4 853.4 157.1 857.4 156.9 861.3 156.6 865.3 156.4 869.3 156.2 873.3 155.9 877.3 155.7 881.3 155.5 885.3 155.3 889.3 155.2 893.3 155.0 897.3 154.9 901.3 154.8 905.3 154.7 909.3 154.5 913.3 154.4 917.3 154.4 921.3 154.3 925.3 154.2 929.3 154.1 933.3 154.0 937.3 153.9 941.3 153.9 945.3 153.8 949.3 153.7 953.3 153.6 957.3 153.6 961.3 153.5 965.3 153.4 969.3 153.3 973.3 153.2 977.3 153.2" stroke="#808080" stroke-dasharray="6.08,10.03"/>
<path d="M164.0 869.7 164.2 868.7 165.2 864.8 166.1 860.9 166.8 857.0 167.4 853.0 168.0 849.1 168.5 845.1 169.0 841.1 169.5 837.2 170.0 833.2 170.5 829.2 170.9 825.3 171.4 821.3 171.8 817.3 172.2 813.3 172.6 809.3 172.9 805.3 173.3 801.4 173.6 797.4 174.0 793.4 174.4 789.4 174.7 785.4 175.1 781.4 175.4 777.4 175.8 773.5 176.2 769.5 176.5 765.5 176.9 761.5 177.2 757.5 177.6 753.5 178.0 749.6 178.3 745.6 178.7 741.6 179.0 737.6 179.4 733.6 179.8 729.6 180.1 725.6 180.5 721.7 180.9 717.7 181.2 713.7 181.6 709.7 182.0 705.7 182.4 701.7 182.8 697.8 183.2 693.8 183.6 689.8 184.0 685.8 184.4 681.8 184.8 677.8 185.1 673.9 185.5 669.9 185.9 665.9 186.3 661.9 186.7 657.9 187.1 654.0 187.5 650.0 187.9 646.0 188.3 642.0 188.7 638.0 189.1 634.1 189.6 630.1 190.0 626.1 190.4 622.1 190.8 618.1 191.2 614.2 191.7 610.2 192.1 606.2 192.5 602.2 192.9 598.2 193.4 594.3 193.8 590.3 194.2 586.3 194.7 582.3 195.1 578.4 195.6 574.4 196.0 570.4 196.5 566.4 197.0 562.5 197.4 558.5 197.9 554.5 198.3 550.5 198.8 546.5 199.2 542.6 199.7 538.6 200.2 534.6 200.7 530.7 201.1 526.7 201.6 522.7 202.1 518.7 202.5 514.8 203.0 510.8 203.5 506.8 204.0 502.8 204.5 498.9 205.0 494.9 205.6 490.9 206.1 487.0 206.7 483.0 207.3 479.1 207.8 475.1 208.4 471.1 209.0 467.2 209.6 463.2 210.2 459.3 210.9 455.3 211.7 451.4 212.5 447.5 213.3 443.6 214.1 439.6 214.9 435.7 215.8 431.8 216.7 427.9 217.7 424.1 218.7 420.2 219.7 416.3 220.7 412.4 221.8 408.6 222.9 404.7 224.0 400.9 225.2 397.1 226.4 393.3 227.7 389.5 229.0 385.7 230.3 381.9 231.7 378.2 233.1 374.4 234.6 370.7 236.1 367.0 237.6 363.3 239.2 359.6 240.7 355.9 242.3 352.2 243.9 348.6 245.4 344.9 246.9 341.2 248.4 337.5 249.9 333.8 251.4 330.0 253.0 326.3 254.5 322.7 256.1 319.0 257.8 315.4 259.6 311.8 261.5 308.3 263.6 304.9 265.8 301.6 268.2 298.3 270.7 295.2 273.2 292.1 275.9 289.2 278.7 286.3 281.6 283.6 284.7 281.0 287.8 278.6 291.1 276.3 294.5 274.1 297.9 272.1 301.4 270.2 305.0 268.3 308.6 266.6 312.2 264.9 315.9 263.3 319.6 261.8 323.3 260.3 327.0 258.9 330.8 257.5 334.5 256.1 338.3 254.8 342.1 253.5 345.9 252.3 349.7 251.2 353.6 250.0 357.4 248.9 361.3 247.9 365.2 246.8 369.0 245.8 372.9 244.9 376.8 244.0 380.7 243.1 384.6 242.3 388.5 241.4 392.5 240.6 396.4 239.8 400.3 239.0 404.2 238.2 408.1 237.4 412.1 236.6 416.0 235.7 419.9 234.8 423.8 233.9 427.7 233.0 431.6 232.1 435.5 231.2 439.4 230.3 443.3 229.4 447.2 228.6 451.1 227.7 455.0 226.8 458.9 226.0 462.8 225.2 466.7 224.4 470.7 223.7 474.6 223.0 478.6 222.3 482.5 221.7 486.5 221.2 490.4 220.7 494.4 220.2 498.4 219.7 502.4 219.3 506.4 218.9 510.3 218.5 514.3 218.1 518.3 217.8 522.3 217.4 526.3 217.1 530.3 216.8 534.3 216.4 538.2 216.1 542.2 215.8 546.2 215.5 550.2 215.2 554.2 214.9 558.2 214.7 562.2 214.4 566.2 214.1 570.2 213.8 574.2 213.5 578.2 213.2 582.1 213.0 586.1 212.7 590.1 212.4 594.1 212.2 598.1 212.0 602.1 211.7 606.1 211.5 610.1 211.3 614.1 211.0 618.1 210.8 622.1 210.5 626.1 210.3 630.1 210.0 634.1 209.8 638.1 209.5 642.1 209.2 646.0 208.9 650.0 208.6 654.0 208.3 658.0 207.9 662.0 207.6 666.0 207.2 669.9 206.7 673.9 206.3 677.9 205.8 681.9 205.4 685.8 204.9 689.8 204.4 693.8 203.9 697.8 203.5 701.7 203.0 705.7 202.5 709.7 202.1 713.7 201.6 717.6 201.2 721.6 200.8 725.6 200.4 729.6 200.0 733.6 199.7 737.6 199.4 741.6 199.1 745.5 198.8 749.5 198.5 753.5 198.2 757.5 197.9 761.5 197.6 765.5 197.4 769.5 197.1 773.5 196.9 777.5 196.6 781.5 196.4 785.5 196.1 789.5 195.9 793.5 195.7 797.5 195.4 801.5 195.2 805.4 195.0 809.4 194.7 813.4 194.5 817.4 194.3 821.4 194.0 825.4 193.8 829.4 193.6 833.4 193.3 837.4 193.1 841.4 192.9 845.4 192.7 849.4 192.4 853.4 192.2 857.4 192.0 861.4 191.8 865.4 191.6 869.4 191.4 873.4 191.2 877.4 191.0 881.4 190.8 885.4 190.6 889.4 190.4 893.3 190.2 897.3 190.0 901.3 189.8 905.3 189.6 909.3 189.4 913.3 189.2 917.3 189.1 921.3 188.9 925.3 188.7 929.3 188.5 933.3 188.4 937.3 188.2 941.3 188.0 945.3 187.9 949.3 187.7 953.3 187.5 957.3 187.4 961.3 187.2 965.3 187.0 969.3 186.9 973.3 186.7 977.3 186.5" stroke="#0000ff" stroke-linecap="square"/>
<path d="M164.0 869.7 164.1 868.7 164.3 864.7 164.6 860.7 164.9 856.7 165.2 852.7 165.5 848.7 165.7 844.7 166.0 840.7 166.3 836.8 166.6 832.8 166.9 828.8 167.2 824.8 167.5 820.8 167.8 816.8 168.2 812.8 168.5 808.8 168.9 804.9 169.3 800.9 169.7 796.9 170.1 792.9 170.6 788.9 171.0 785.0 171.5 781.0 171.9 777.0 172.3 773.0 172.8 769.1 173.2 765.1 173.7 761.1 174.2 757.1 174.6 753.2 175.1 749.2 175.6 745.2 176.1 741.3 176.6 737.3 177.1 733.3 177.6 729.4 178.1 725.4 178.6 721.4 179.1 717.4 179.5 713.5 180.0 709.5 180.4 705.5 180.9 701.5 181.3 697.6 181.8 693.6 182.2 689.6 182.7 685.6 183.1 681.7 183.6 677.7 184.0 673.7 184.5 669.7 184.9 665.8 185.3 661.8 185.7 657.8 186.2 653.8 186.6 649.9 187.0 645.9 187.5 641.9 187.9 637.9 188.3 633.9 188.7 630.0 189.1 626.0 189.5 622.0 189.9 618.0 190.3 614.0 190.7 610.1 191.1 606.1 191.5 602.1 191.9 598.1 192.3 594.1 192.7 590.2 193.1 586.2 193.5 582.2 193.9 578.2 194.3 574.2 194.6 570.3 195.0 566.3 195.4 562.3 195.8 558.3 196.2 554.3 196.6 550.4 197.0 546.4 197.4 542.4 197.9 538.4 198.3 534.4 198.7 530.5 199.1 526.5 199.5 522.5 200.0 518.5 200.4 514.5 200.8 510.6 201.3 506.6 201.7 502.6 202.2 498.7 202.7 494.7 203.1 490.7 203.6 486.7 204.1 482.8 204.6 478.8 205.1 474.8 205.7 470.9 206.2 466.9 206.8 463.0 207.4 459.0 208.0 455.0 208.6 451.1 209.2 447.1 209.8 443.2 210.4 439.2 211.0 435.3 211.6 431.3 212.3 427.4 212.9 423.4 213.6 419.5 214.2 415.5 214.9 411.6 215.7 407.7 216.4 403.7 217.2 399.8 217.9 395.9 218.7 391.9 219.6 388.0 220.5 384.1 221.4 380.3 222.4 376.4 223.4 372.5 224.5 368.7 225.7 364.8 226.9 361.0 228.2 357.3 229.5 353.5 231.0 349.8 232.5 346.1 234.1 342.4 235.7 338.8 237.5 335.2 239.4 331.7 241.5 328.2 243.6 324.9 245.9 321.6 248.4 318.5 251.0 315.4 253.7 312.5 256.5 309.6 259.4 306.9 262.3 304.2 265.4 301.6 268.4 299.0 271.6 296.5 274.8 294.1 278.0 291.8 281.3 289.5 284.7 287.4 288.1 285.3 291.5 283.2 295.0 281.2 298.4 279.2 301.9 277.3 305.5 275.4 309.0 273.6 312.6 271.9 316.3 270.2 320.0 268.7 323.7 267.2 327.5 265.9 331.2 264.6 335.1 263.4 338.9 262.3 342.8 261.3 346.6 260.3 350.5 259.3 354.4 258.3 358.3 257.4 362.2 256.4 366.0 255.3 369.9 254.3 373.7 253.2 377.6 252.0 381.4 250.9 385.2 249.7 389.1 248.6 392.9 247.5 396.8 246.4 400.6 245.4 404.5 244.4 408.4 243.6 412.3 242.7 416.2 241.9 420.2 241.2 424.1 240.4 428.0 239.7 432.0 239.0 435.9 238.3 439.9 237.6 443.8 237.0 447.8 236.3 451.7 235.7 455.7 235.1 459.6 234.5 463.6 233.9 467.5 233.4 471.5 232.8 475.5 232.3 479.4 231.7 483.4 231.2 487.4 230.7 491.3 230.2 495.3 229.7 499.3 229.2 503.2 228.7 507.2 228.2 511.2 227.7 515.1 227.2 519.1 226.8 523.1 226.3 527.1 225.9 531.0 225.4 535.0 225.0 539.0 224.6 543.0 224.2 547.0 223.8 550.9 223.4 554.9 223.0 558.9 222.7 562.9 222.3 566.9 222.0 570.9 221.6 574.8 221.3 578.8 221.0 582.8 220.7 586.8 220.5 590.8 220.2 594.8 219.9 598.8 219.7 602.8 219.4 606.8 219.2 610.8 218.9 614.8 218.7 618.8 218.5 622.8 218.2 626.7 218.0 630.7 217.7 634.7 217.5 638.7 217.3 642.7 217.0 646.7 216.7 650.7 216.5 654.7 216.2 658.7 215.9 662.7 215.6 666.7 215.3 670.6 215.0 674.6 214.7 678.6 214.4 682.6 214.0 686.6 213.7 690.6 213.4 694.6 213.1 698.6 212.8 702.5 212.5 706.5 212.1 710.5 211.8 714.5 211.5 718.5 211.2 722.5 211.0 726.5 210.7 730.5 210.4 734.5 210.2 738.5 209.9 742.4 209.7 746.4 209.4 750.4 209.1 754.4 208.9 758.4 208.6 762.4 208.4 766.4 208.2 770.4 207.9 774.4 207.7 778.4 207.5 782.4 207.3 786.4 207.0 790.4 206.8 794.4 206.6 798.4 206.5 802.4 206.3 806.4 206.1 810.4 206.0 814.4 205.9 818.3 205.7 822.3 205.6 826.3 205.5 830.3 205.4 834.3 205.3 838.3 205.2 842.3 205.2 846.3 205.1 850.3 205.0 854.3 204.9 858.3 204.9 862.3 204.8 866.3 204.7 870.3 204.6 874.3 204.6 878.3 204.5 882.3 204.4 886.3 204.3 890.3 204.2 894.3 204.1 898.3 204.0 902.3 203.9 906.3 203.8 910.3 203.7 914.3 203.6 918.3 203.4 922.3 203.3 926.3 203.2 930.3 203.0 934.3 202.9 938.3 202.8 942.3 202.6 946.3 202.5 950.3 202.4 954.3 202.2 958.3 202.1 962.3 202.0 966.3 201.8 970.3 201.7 974.3 201.6 977.3 201.5" stroke="#00ffff" stroke-dasharray="22.5,9.73"/>
<path d="M164.0 873.8 164.1 872.8 164.3 868.8 164.5 864.8 164.8 860.8 165.3 856.9 165.8 852.9 166.6 849.0 167.4 845.1 168.2 841.1 169.1 837.2 169.9 833.3 170.9 829.4 171.9 825.6 173.0 821.7 174.0 817.9 175.0 814.0 175.8 810.1 176.4 806.1 177.0 802.2 177.6 798.2 178.1 794.3 178.7 790.3 179.2 786.3 179.8 782.4 180.3 778.4 180.7 774.4 181.2 770.4 181.7 766.5 182.1 762.5 182.6 758.5 183.1 754.5 183.5 750.6 184.0 746.6 184.4 742.6 184.8 738.6 185.3 734.7 185.7 730.7 186.1 726.7 186.5 722.7 186.9 718.7 187.3 714.8 187.8 710.8 188.2 706.8 188.6 702.8 189.1 698.8 189.5 694.9 190.0 690.9 190.5 686.9 190.9 682.9 191.4 679.0 191.8 675.0 192.3 671.0 192.9 667.1 193.5 663.1 194.1 659.2 194.8 655.2 195.5 651.3 196.2 647.3 196.9 643.4 197.7 639.5 198.5 635.6 199.3 631.6 200.2 627.7 201.0 623.8 201.8 619.9 202.6 616.0 203.4 612.1 204.2 608.1 205.0 604.2 205.7 600.3 206.4 596.3 207.2 592.4 207.9 588.5 208.6 584.5 209.3 580.6 210.0 576.7 210.7 572.7 211.4 568.8 212.2 564.9 212.9 560.9 213.7 557.0 214.4 553.1 215.2 549.1 215.9 545.2 216.7 541.3 217.6 537.4 218.4 533.5 219.3 529.6 220.2 525.7 221.1 521.8 222.0 517.9 223.0 514.0 224.1 510.1 225.2 506.3 226.3 502.4 227.4 498.6 228.7 494.8 230.0 491.1 231.6 487.4 233.3 483.7 235.1 480.2 236.9 476.7 238.9 473.2 240.8 469.7 242.7 466.1 244.6 462.6 246.3 459.0 248.0 455.4 249.7 451.7 251.3 448.1 252.8 444.4 254.4 440.7 255.9 437.0 257.5 433.3 259.1 429.6 260.7 426.0 262.3 422.3 264.0 418.7 265.7 415.1 267.5 411.5 269.4 408.0 271.3 404.5 273.3 401.0 275.3 397.5 277.4 394.1 279.5 390.7 281.7 387.4 283.9 384.1 286.2 380.8 288.6 377.5 290.9 374.3 293.4 371.1 295.8 368.0 298.4 364.9 301.1 362.0 303.9 359.2 306.9 356.6 310.2 354.3 313.6 352.2 317.1 350.3 320.6 348.4 324.1 346.5 327.5 344.5 330.8 342.2 334.0 339.8 337.1 337.2 340.1 334.6 343.1 332.0 346.1 329.3 349.2 326.8 352.3 324.3 355.5 321.9 358.7 319.5 362.0 317.2 365.3 314.9 368.6 312.7 372.0 310.5 375.4 308.4 378.8 306.3 382.3 304.4 385.9 302.6 389.5 300.9 393.1 299.2 396.7 297.5 400.4 295.8 403.9 294.0 407.4 292.0 410.7 289.8 413.9 287.4 416.9 284.8 419.9 282.2 422.8 279.4 425.8 276.7 428.7 274.0 431.7 271.3 434.8 268.8 438.1 266.5 441.5 264.5 445.0 262.7 448.7 261.0 452.4 259.6 456.1 258.2 459.9 256.9 463.7 255.7 467.6 254.5 471.4 253.4 475.3 252.3 479.1 251.3 483.0 250.2 486.8 249.1 490.6 247.9 494.5 246.8 498.3 245.7 502.2 244.7 506.1 243.6 509.9 242.6 513.8 241.7 517.7 240.8 521.6 240.0 525.6 239.2 529.5 238.5 533.5 237.9 537.4 237.3 541.4 236.7 545.3 236.2 549.3 235.7 553.3 235.1 557.2 234.6 561.2 234.0 565.1 233.4 569.1 232.7 573.0 232.0 577.0 231.2 580.9 230.4 584.8 229.6 588.7 228.7 592.6 227.9 596.5 227.0 600.4 226.2 604.3 225.4 608.3 224.6 612.2 223.8 616.1 223.1 620.1 222.4 624.0 221.7 628.0 221.0 631.9 220.4 635.8 219.7 639.8 219.0 643.7 218.4 647.7 217.7 651.6 217.0 655.6 216.4 659.5 215.7 663.5 215.0 667.4 214.4 671.4 213.7 675.3 213.0 679.2 212.4 683.2 211.7 687.1 211.1 691.1 210.5 695.1 209.9 699.0 209.3 703.0 208.6 706.9 208.0 710.9 207.4 714.8 206.9 718.8 206.3 722.8 205.7 726.7 205.2 730.7 204.6 734.7 204.1 738.6 203.6 742.6 203.2 746.6 202.7 750.5 202.2 754.5 201.8 758.5 201.3 762.5 200.9 766.5 200.5 770.4 200.2 774.4 199.8 778.4 199.5 782.4 199.2 786.4 198.9 790.4 198.7 794.4 198.4 798.4 198.2 802.4 198.0 806.4 197.7 810.4 197.5 814.4 197.3 818.4 197.0 822.4 196.8 826.3 196.5 830.3 196.2 834.3 195.9 838.3 195.6 842.3 195.3 846.3 195.1 850.3 194.8 854.3 194.6 858.3 194.5 862.3 194.3 866.3 194.2 870.3 194.1 874.3 194.0 878.3 194.0 882.3 193.9 886.3 193.8 890.3 193.8 894.3 193.7 898.3 193.6 902.3 193.5 906.3 193.4 910.3 193.3 914.3 193.3 918.3 193.2 922.3 193.1 926.3 193.0 930.3 192.9 934.3 192.8 938.3 192.7 942.3 192.6 946.3 192.5 950.3 192.4 954.3 192.3 958.3 192.2 962.3 192.1 966.3 192.0 970.3 192.0 974.3 191.9 977.3 191.8" stroke="#880015" stroke-dasharray="6.08,10.03"/>
</g>
<rect x="164" y="61.4" width="813.3" height="812.4" fill="none" stroke="#000" stroke-width="2.43" stroke-linejoin="miter"/>
<path d="M164 873.8v10.64M245.33 873.8v10.64M326.66 873.8v10.64M407.99 873.8v10.64M489.32 873.8v10.64M570.65 873.8v10.64M651.98 873.8v10.64M733.31 873.8v10.64M814.64 873.8v10.64M895.97 873.8v10.64M977.3 873.8v10.64M164 873.8h-10.64M164 785.99h-10.64M164 698.18h-10.64M164 610.38h-10.64M164 522.57h-10.64M164 434.76h-10.64M164 346.95h-10.64M164 259.14h-10.64M164 171.34h-10.64M164 83.53h-10.64" stroke="#000" stroke-width="2.43" fill="none"/>
<g class="n" font-size="32" fill="#111">
<text x="163.7" y="916.5" text-anchor="middle">0</text>
<text x="245.03" y="916.5" text-anchor="middle">5</text>
<text x="326.36" y="916.5" text-anchor="middle">10</text>
<text x="407.69" y="916.5" text-anchor="middle">15</text>
<text x="489.02" y="916.5" text-anchor="middle">20</text>
<text x="570.35" y="916.5" text-anchor="middle">25</text>
<text x="651.68" y="916.5" text-anchor="middle">30</text>
<text x="733.01" y="916.5" text-anchor="middle">35</text>
<text x="814.34" y="916.5" text-anchor="middle">40</text>
<text x="895.67" y="916.5" text-anchor="middle">45</text>
<text x="977" y="916.5" text-anchor="middle">50</text>
<text x="143.7" y="883.9" text-anchor="end">0.0353</text>
<text x="143.7" y="796.09" text-anchor="end">0.1353</text>
<text x="143.7" y="708.28" text-anchor="end">0.2353</text>
<text x="143.7" y="620.48" text-anchor="end">0.3353</text>
<text x="143.7" y="532.67" text-anchor="end">0.4353</text>
<text x="143.7" y="444.86" text-anchor="end">0.5353</text>
<text x="143.7" y="357.05" text-anchor="end">0.6353</text>
<text x="143.7" y="269.24" text-anchor="end">0.7353</text>
<text x="143.7" y="181.44" text-anchor="end">0.8353</text>
<text x="143.7" y="93.63" text-anchor="end">0.9353</text>
</g>
<text class="tb" x="567.3" y="40.5" font-size="36.5" text-anchor="middle" textLength="671.74" lengthAdjust="spacing">Precision plots of OPE - Similar Object</text>
<text class="t" x="568.25" y="956" font-size="30.4" text-anchor="middle" textLength="324.47" lengthAdjust="spacing">Location error threshold</text>
<text class="t" x="0" y="0" font-size="30.4" text-anchor="middle" textLength="128.84" lengthAdjust="spacing" transform="translate(39.8 467.7) rotate(-90)">Precision</text>
<rect x="619.57" y="532.8" width="342.53" height="325.1" rx="6.08" ry="6.08" fill="#ffffff" fill-opacity="0.8" stroke="#d4d4d4" stroke-width="2.1"/>
<path d="M629.77 554.6H690.57" stroke="#ff0000" stroke-width="6.08" fill="none" stroke-linecap="square"/>
<text class="t" x="714.87" y="564.6" font-size="30.4">[0.913] Ours</text>
<path d="M629.77 588.95H690.57" stroke="#00ff00" stroke-width="6.08" fill="none" stroke-dasharray="22.5,9.73"/>
<text class="t" x="714.87" y="598.95" font-size="30.4">[0.912] SiamPT</text>
<path d="M629.77 623.3H690.57" stroke="#ff00ff" stroke-width="6.08" fill="none" stroke-dasharray="6.08,10.03"/>
<text class="t" x="714.87" y="633.3" font-size="30.4">[0.863] ATOM</text>
<path d="M629.77 657.65H690.57" stroke="#ffff00" stroke-width="6.08" fill="none" stroke-linecap="square"/>
<text class="t" x="714.87" y="667.65" font-size="30.4">[0.850] TransT</text>
<path d="M629.77 692H690.57" stroke="#00a2e8" stroke-width="6.08" fill="none" stroke-dasharray="22.5,9.73"/>
<text class="t" x="714.87" y="702" font-size="30.4">[0.847] TrSiam</text>
<path d="M629.77 726.35H690.57" stroke="#808080" stroke-width="6.08" fill="none" stroke-dasharray="6.08,10.03"/>
<text class="t" x="714.87" y="736.35" font-size="30.4">[0.825] TrDiMP</text>
<path d="M629.77 760.7H690.57" stroke="#0000ff" stroke-width="6.08" fill="none" stroke-linecap="square"/>
<text class="t" x="714.87" y="770.7" font-size="30.4">[0.777] SiamBAN</text>
<path d="M629.77 795.05H690.57" stroke="#00ffff" stroke-width="6.08" fill="none" stroke-dasharray="22.5,9.73"/>
<text class="t" x="714.87" y="805.05" font-size="30.4">[0.767] SiamAttn</text>
<path d="M629.77 829.4H690.57" stroke="#880015" stroke-width="6.08" fill="none" stroke-dasharray="6.08,10.03"/>
<text class="t" x="714.87" y="839.4" font-size="30.4">[0.747] ECO</text>
</g>
<g>
<path d="M1395.7 61.4V873.8M1477.03 61.4V873.8M1558.36 61.4V873.8M1639.69 61.4V873.8M1721.02 61.4V873.8M1802.35 61.4V873.8M1883.68 61.4V873.8M1965.01 61.4V873.8M2046.34 61.4V873.8M2127.67 61.4V873.8M2209 61.4V873.8M1395.7 873.8H2209M1395.7 784.79H2209M1395.7 695.78H2209M1395.7 606.77H2209M1395.7 517.76H2209M1395.7 428.75H2209M1395.7 339.74H2209M1395.7 250.73H2209M1395.7 161.71H2209M1395.7 72.7H2209" stroke="#b0b0b0" stroke-width="2.2" fill="none"/>
<clipPath id="c1"><rect x="1395.7" y="61.4" width="813.3" height="812.4"/></clipPath>
<g clip-path="url(#c1)" fill="none" stroke-width="6.08" stroke-linejoin="round">
<path d="M1395.7 85.2 1436.4 86.1 1477.0 86.9 1517.7 88.7 1558.4 89.6 1599.0 91.4 1639.7 93.2 1680.4 97.6 1721.0 103.9 1761.7 112.8 1802.3 123.4 1843.0 140.4 1883.7 170.6 1924.3 208.9 1965.0 252.5 2005.7 324.6 2046.3 405.6 2087.0 515.1 2127.7 677.1 2168.3 822.2 2209.0 873.8" stroke="#ff0000" stroke-linecap="square"/>
<path d="M1395.7 87.8 1436.4 88.7 1477.0 89.6 1517.7 90.5 1558.4 91.4 1599.0 93.2 1639.7 95.8 1680.4 100.3 1721.0 106.5 1761.7 115.4 1802.3 125.2 1843.0 141.2 1883.7 171.5 1924.3 210.7 1965.0 256.1 2005.7 328.2 2046.3 411.8 2087.0 520.4 2127.7 682.4 2168.3 826.6 2209.0 873.8" stroke="#00ff00" stroke-dasharray="22.5,9.73"/>
<path d="M1395.7 141.2 1436.4 141.2 1477.0 142.1 1517.7 143.0 1558.4 143.9 1599.0 145.7 1639.7 148.4 1680.4 153.7 1721.0 159.9 1761.7 168.8 1802.3 179.5 1843.0 193.8 1883.7 208.0 1924.3 243.6 1965.0 299.7 2005.7 372.7 2046.3 467.0 2087.0 584.5 2127.7 718.9 2168.3 836.4 2209.0 873.8" stroke="#ff00ff" stroke-dasharray="6.08,10.03"/>
<path d="M1395.7 131.0 1436.4 133.2 1477.0 134.6 1517.7 136.8 1558.4 138.9 1599.0 143.0 1639.7 147.2 1680.4 152.8 1721.0 161.7 1761.7 167.1 1802.3 176.0 1843.0 184.9 1883.7 206.2 1924.3 235.6 1965.0 285.4 2005.7 363.8 2046.3 456.3 2087.0 579.2 2127.7 733.2 2168.3 850.7 2209.0 873.8" stroke="#ffff00" stroke-linecap="square"/>
<path d="M1395.7 111.0 1436.4 112.8 1477.0 114.5 1517.7 117.2 1558.4 119.9 1599.0 125.2 1639.7 138.6 1680.4 151.9 1721.0 163.5 1761.7 174.2 1802.3 192.0 1843.0 210.2 1883.7 233.8 1924.3 265.9 1965.0 319.3 2005.7 392.3 2046.3 495.5 2087.0 613.0 2127.7 760.8 2168.3 853.3 2209.0 873.8" stroke="#00a2e8" stroke-dasharray="22.5,9.73"/>
<path d="M1395.7 150.1 1436.4 152.8 1477.0 154.6 1517.7 156.4 1558.4 159.0 1599.0 162.6 1639.7 167.1 1680.4 172.4 1721.0 179.5 1761.7 186.6 1802.3 195.5 1843.0 210.2 1883.7 221.4 1924.3 255.2 1965.0 311.3 2005.7 383.4 2046.3 487.5 2087.0 601.4 2127.7 746.5 2168.3 847.1 2209.0 873.8" stroke="#808080" stroke-dasharray="6.08,10.03"/>
<path d="M1395.7 199.1 1436.4 203.5 1477.0 206.2 1517.7 208.9 1558.4 210.7 1599.0 215.1 1639.7 221.4 1680.4 226.7 1721.0 233.8 1761.7 239.2 1802.3 246.3 1843.0 265.9 1883.7 293.5 1924.3 338.8 1965.0 383.4 2005.7 431.4 2046.3 503.5 2087.0 613.0 2127.7 746.5 2168.3 850.7 2209.0 873.8" stroke="#0000ff" stroke-linecap="square"/>
<path d="M1395.7 189.3 1436.4 192.9 1477.0 195.5 1517.7 198.2 1558.4 200.9 1599.0 206.2 1639.7 212.0 1680.4 218.7 1721.0 226.7 1761.7 235.6 1802.3 251.6 1843.0 278.3 1883.7 309.5 1924.3 353.1 1965.0 402.9 2005.7 456.3 2046.3 523.1 2087.0 629.9 2127.7 769.7 2168.3 853.3 2209.0 873.8" stroke="#00ffff" stroke-dasharray="22.5,9.73"/>
<path d="M1395.7 180.4 1436.4 181.3 1477.0 182.2 1517.7 184.0 1558.4 185.7 1599.0 190.2 1639.7 206.2 1680.4 228.5 1721.0 251.6 1761.7 281.9 1802.3 314.8 1843.0 339.7 1883.7 381.6 1924.3 439.4 1965.0 495.5 2005.7 573.8 2046.3 671.7 2087.0 752.7 2127.7 831.1 2168.3 861.3 2209.0 873.8" stroke="#880015" stroke-dasharray="6.08,10.03"/>
</g>
<rect x="1395.7" y="61.4" width="813.3" height="812.4" fill="none" stroke="#000" stroke-width="2.43" stroke-linejoin="miter"/>
<path d="M1395.7 873.8v10.64M1477.03 873.8v10.64M1558.36 873.8v10.64M1639.69 873.8v10.64M1721.02 873.8v10.64M1802.35 873.8v10.64M1883.68 873.8v10.64M1965.01 873.8v10.64M2046.34 873.8v10.64M2127.67 873.8v10.64M2209 873.8v10.64M1395.7 873.8h-10.64M1395.7 784.79h-10.64M1395.7 695.78h-10.64M1395.7 606.77h-10.64M1395.7 517.76h-10.64M1395.7 428.75h-10.64M1395.7 339.74h-10.64M1395.7 250.73h-10.64M1395.7 161.71h-10.64M1395.7 72.7h-10.64" stroke="#000" stroke-width="2.43" fill="none"/>
<g class="n" font-size="32" fill="#111">
<text x="1393.7" y="916.5" text-anchor="middle">0.0</text>
<text x="1475.03" y="916.5" text-anchor="middle">0.1</text>
<text x="1556.36" y="916.5" text-anchor="middle">0.2</text>
<text x="1637.69" y="916.5" text-anchor="middle">0.3</text>
<text x="1719.02" y="916.5" text-anchor="middle">0.4</text>
<text x="1800.35" y="916.5" text-anchor="middle">0.5</text>
<text x="1881.68" y="916.5" text-anchor="middle">0.6</text>
<text x="1963.01" y="916.5" text-anchor="middle">0.7</text>
<text x="2044.34" y="916.5" text-anchor="middle">0.8</text>
<text x="2125.67" y="916.5" text-anchor="middle">0.9</text>
<text x="2207" y="916.5" text-anchor="middle">1.0</text>
<text x="1375.4" y="883.9" text-anchor="end">0.0</text>
<text x="1375.4" y="794.89" text-anchor="end">0.1</text>
<text x="1375.4" y="705.88" text-anchor="end">0.2</text>
<text x="1375.4" y="616.87" text-anchor="end">0.3</text>
<text x="1375.4" y="527.86" text-anchor="end">0.4</text>
<text x="1375.4" y="438.85" text-anchor="end">0.5</text>
<text x="1375.4" y="349.84" text-anchor="end">0.6</text>
<text x="1375.4" y="260.83" text-anchor="end">0.7</text>
<text x="1375.4" y="171.81" text-anchor="end">0.8</text>
<text x="1375.4" y="82.8" text-anchor="end">0.9</text>
</g>
<text class="tb" x="1800.45" y="40.5" font-size="36.5" text-anchor="middle" textLength="653.8" lengthAdjust="spacing">Success plots of OPE - Similar Object</text>
<text class="t" x="1800.2" y="956" font-size="30.4" text-anchor="middle" textLength="242.47" lengthAdjust="spacing">Overlap threshold</text>
<text class="t" x="0" y="0" font-size="30.4" text-anchor="middle" textLength="176.03" lengthAdjust="spacing" transform="translate(1317.2 465.35) rotate(-90)">Success rate</text>
<rect x="1410.9" y="532.8" width="342.53" height="325.1" rx="6.08" ry="6.08" fill="#ffffff" fill-opacity="0.8" stroke="#d4d4d4" stroke-width="2.1"/>
<path d="M1423.4 554.6H1484.2" stroke="#ff0000" stroke-width="6.08" fill="none" stroke-linecap="square"/>
<text class="t" x="1508.4" y="564.6" font-size="30.4">[0.687] Ours</text>
<path d="M1423.4 588.95H1484.2" stroke="#00ff00" stroke-width="6.08" fill="none" stroke-dasharray="22.5,9.73"/>
<text class="t" x="1508.4" y="598.95" font-size="30.4">[0.684] SiamPT</text>
<path d="M1423.4 623.3H1484.2" stroke="#ff00ff" stroke-width="6.08" fill="none" stroke-dasharray="6.08,10.03"/>
<text class="t" x="1508.4" y="633.3" font-size="30.4">[0.638] TransT</text>
<path d="M1423.4 657.65H1484.2" stroke="#ffff00" stroke-width="6.08" fill="none" stroke-linecap="square"/>
<text class="t" x="1508.4" y="667.65" font-size="30.4">[0.636] TrSiam</text>
<path d="M1423.4 692H1484.2" stroke="#00a2e8" stroke-width="6.08" fill="none" stroke-dasharray="22.5,9.73"/>
<text class="t" x="1508.4" y="702" font-size="30.4">[0.631] ATOM</text>
<path d="M1423.4 726.35H1484.2" stroke="#808080" stroke-width="6.08" fill="none" stroke-dasharray="6.08,10.03"/>
<text class="t" x="1508.4" y="736.35" font-size="30.4">[0.618] TrDiMP</text>
<path d="M1423.4 760.7H1484.2" stroke="#0000ff" stroke-width="6.08" fill="none" stroke-linecap="square"/>
<text class="t" x="1508.4" y="770.7" font-size="30.4">[0.569] SiamAttn</text>
<path d="M1423.4 795.05H1484.2" stroke="#00ffff" stroke-width="6.08" fill="none" stroke-dasharray="22.5,9.73"/>
<text class="t" x="1508.4" y="805.05" font-size="30.4">[0.565] SiamBAN</text>
<path d="M1423.4 829.4H1484.2" stroke="#880015" stroke-width="6.08" fill="none" stroke-dasharray="6.08,10.03"/>
<text class="t" x="1508.4" y="839.4" font-size="30.4">[0.518] ECO</text>
</g>
<g>
<path d="M164 1118.4V1930.8M245.33 1118.4V1930.8M326.66 1118.4V1930.8M407.99 1118.4V1930.8M489.32 1118.4V1930.8M570.65 1118.4V1930.8M651.98 1118.4V1930.8M733.31 1118.4V1930.8M814.64 1118.4V1930.8M895.97 1118.4V1930.8M977.3 1118.4V1930.8M164 1930.8H977.3M164 1838.67H977.3M164 1746.54H977.3M164 1654.41H977.3M164 1562.28H977.3M164 1470.15H977.3M164 1378.02H977.3M164 1285.89H977.3M164 1193.76H977.3" stroke="#b0b0b0" stroke-width="2.2" fill="none"/>
<clipPath id="c2"><rect x="164" y="1118.4" width="813.3" height="812.4"/></clipPath>
<g clip-path="url(#c2)" fill="none" stroke-width="6.08" stroke-linejoin="round">
<path d="M164.0 1925.0 164.0 1924.0 164.3 1920.0 164.5 1916.0 164.7 1912.0 164.9 1908.0 165.2 1904.0 165.6 1900.0 166.0 1896.1 166.4 1892.1 166.8 1888.1 167.2 1884.1 167.7 1880.2 168.1 1876.2 168.5 1872.2 169.0 1868.2 169.5 1864.3 170.0 1860.3 170.5 1856.3 171.1 1852.4 171.6 1848.4 172.1 1844.4 172.6 1840.5 173.1 1836.5 173.6 1832.5 174.0 1828.5 174.5 1824.6 174.9 1820.6 175.3 1816.6 175.8 1812.6 176.2 1808.7 176.7 1804.7 177.1 1800.7 177.5 1796.7 177.9 1792.7 178.3 1788.8 178.7 1784.8 179.1 1780.8 179.5 1776.8 179.9 1772.8 180.3 1768.8 180.7 1764.9 181.0 1760.9 181.4 1756.9 181.8 1752.9 182.2 1748.9 182.5 1745.0 182.9 1741.0 183.2 1737.0 183.5 1733.0 183.9 1729.0 184.2 1725.0 184.5 1721.0 184.8 1717.0 185.2 1713.1 185.5 1709.1 185.8 1705.1 186.1 1701.1 186.4 1697.1 186.6 1693.1 186.9 1689.1 187.2 1685.1 187.4 1681.1 187.7 1677.1 188.0 1673.1 188.2 1669.2 188.5 1665.2 188.8 1661.2 189.0 1657.2 189.3 1653.2 189.5 1649.2 189.7 1645.2 189.9 1641.2 190.1 1637.2 190.3 1633.2 190.4 1629.2 190.6 1625.2 190.8 1621.2 191.0 1617.2 191.2 1613.2 191.4 1609.2 191.6 1605.2 191.8 1601.2 192.0 1597.2 192.2 1593.2 192.4 1589.2 192.6 1585.3 192.8 1581.3 193.0 1577.3 193.2 1573.3 193.4 1569.3 193.6 1565.3 193.9 1561.3 194.3 1557.3 194.6 1553.3 195.0 1549.3 195.4 1545.4 195.8 1541.4 196.2 1537.4 196.7 1533.4 197.1 1529.4 197.6 1525.5 198.1 1521.5 198.5 1517.5 199.0 1513.5 199.4 1509.6 199.8 1505.6 200.1 1501.6 200.5 1497.6 200.9 1493.6 201.3 1489.7 201.6 1485.7 202.0 1481.7 202.4 1477.7 202.8 1473.7 203.1 1469.7 203.5 1465.8 203.9 1461.8 204.3 1457.8 204.8 1453.8 205.2 1449.8 205.6 1445.9 206.1 1441.9 206.5 1437.9 207.0 1433.9 207.4 1430.0 207.8 1426.0 208.3 1422.0 208.8 1418.0 209.3 1414.1 210.0 1410.1 210.8 1406.2 211.6 1402.3 212.4 1398.4 213.2 1394.5 214.0 1390.5 214.9 1386.6 215.8 1382.7 216.7 1378.9 217.7 1375.0 218.6 1371.1 219.5 1367.2 220.3 1363.3 221.0 1359.3 221.8 1355.4 222.6 1351.5 223.3 1347.5 224.1 1343.6 224.9 1339.7 225.8 1335.8 226.7 1331.9 227.6 1328.0 228.5 1324.1 229.7 1320.3 230.9 1316.5 232.3 1312.7 233.7 1309.0 235.3 1305.3 236.9 1301.7 238.7 1298.1 240.4 1294.5 242.2 1290.9 244.1 1287.4 245.9 1283.8 247.8 1280.3 249.8 1276.8 251.8 1273.4 253.9 1269.9 256.1 1266.6 258.3 1263.3 260.7 1260.1 263.2 1257.0 265.8 1253.9 268.4 1250.9 271.1 1248.0 273.9 1245.1 276.7 1242.3 279.6 1239.5 282.5 1236.7 285.4 1234.0 288.4 1231.3 291.4 1228.7 294.4 1226.1 297.5 1223.6 300.7 1221.1 304.0 1218.8 307.3 1216.6 310.7 1214.4 314.1 1212.4 317.6 1210.4 321.1 1208.5 324.7 1206.7 328.2 1204.9 331.9 1203.2 335.5 1201.6 339.2 1200.0 342.9 1198.5 346.6 1197.1 350.4 1195.7 354.1 1194.3 357.9 1192.9 361.7 1191.6 365.5 1190.3 369.3 1189.1 373.1 1187.9 376.9 1186.7 380.7 1185.5 384.6 1184.4 388.4 1183.4 392.3 1182.4 396.2 1181.4 400.1 1180.5 404.0 1179.6 407.9 1178.8 411.8 1178.0 415.8 1177.2 419.7 1176.5 423.6 1175.8 427.6 1175.1 431.5 1174.4 435.4 1173.7 439.4 1173.1 443.3 1172.5 447.3 1171.9 451.3 1171.3 455.2 1170.7 459.2 1170.2 463.2 1169.7 467.1 1169.2 471.1 1168.7 475.1 1168.2 479.0 1167.8 483.0 1167.4 487.0 1167.0 491.0 1166.6 495.0 1166.3 499.0 1165.9 503.0 1165.6 506.9 1165.3 510.9 1165.0 514.9 1164.7 518.9 1164.4 522.9 1164.2 526.9 1163.9 530.9 1163.6 534.9 1163.4 538.9 1163.1 542.9 1162.9 546.9 1162.7 550.9 1162.4 554.8 1162.2 558.8 1162.0 562.8 1161.7 566.8 1161.5 570.8 1161.2 574.8 1161.0 578.8 1160.8 582.8 1160.5 586.8 1160.3 590.8 1160.1 594.8 1159.9 598.8 1159.7 602.8 1159.5 606.8 1159.3 610.8 1159.1 614.8 1158.9 618.8 1158.7 622.8 1158.4 626.8 1158.2 630.7 1158.0 634.7 1157.8 638.7 1157.5 642.7 1157.3 646.7 1157.0 650.7 1156.7 654.7 1156.4 658.7 1156.0 662.7 1155.7 666.6 1155.3 670.6 1154.8 674.6 1154.4 678.6 1153.9 682.5 1153.4 686.5 1152.9 690.5 1152.4 694.4 1151.9 698.4 1151.4 702.4 1151.0 706.4 1150.5 710.3 1150.1 714.3 1149.7 718.3 1149.3 722.3 1149.0 726.3 1148.7 730.3 1148.5 734.3 1148.3 738.3 1148.2 742.3 1148.0 746.3 1147.9 750.3 1147.8 754.3 1147.7 758.3 1147.6 762.3 1147.5 766.3 1147.4 770.3 1147.3 774.3 1147.2 778.3 1147.1 782.3 1147.0 786.3 1147.0 790.3 1146.9 794.3 1146.8 798.3 1146.8 802.3 1146.7 806.3 1146.6 810.3 1146.6 814.3 1146.5 818.3 1146.4 822.3 1146.4 826.3 1146.3 830.3 1146.3 834.3 1146.2 838.3 1146.2 842.3 1146.1 846.3 1146.1 850.3 1146.1 854.3 1146.0 858.3 1146.0 862.3 1145.9 866.3 1145.9 870.3 1145.8 874.3 1145.8 878.3 1145.8 882.3 1145.7 886.3 1145.7 890.3 1145.6 894.3 1145.6 898.3 1145.6 902.3 1145.5 906.3 1145.5 910.3 1145.4 914.3 1145.4 918.3 1145.3 922.3 1145.3 926.3 1145.2 930.3 1145.2 934.3 1145.1 938.3 1145.1 942.3 1145.1 946.3 1145.0 950.3 1145.0 954.3 1144.9 958.3 1144.9 962.3 1144.8 966.3 1144.8 970.3 1144.7 974.3 1144.7 977.3 1144.7" stroke="#ff0000" stroke-linecap="square"/>
<path d="M164.0 1925.0 164.0 1924.0 164.3 1920.0 164.5 1916.0 164.7 1912.0 164.9 1908.0 165.2 1904.0 165.6 1900.0 166.0 1896.1 166.4 1892.1 166.8 1888.1 167.2 1884.1 167.7 1880.1 168.1 1876.2 168.5 1872.2 169.0 1868.2 169.5 1864.2 170.0 1860.3 170.5 1856.3 171.1 1852.3 171.6 1848.4 172.1 1844.4 172.6 1840.4 173.1 1836.5 173.6 1832.5 174.0 1828.5 174.5 1824.5 174.9 1820.6 175.3 1816.6 175.8 1812.6 176.2 1808.6 176.7 1804.7 177.1 1800.7 177.5 1796.7 177.9 1792.7 178.3 1788.7 178.7 1784.8 179.1 1780.8 179.5 1776.8 179.9 1772.8 180.3 1768.8 180.7 1764.8 181.0 1760.9 181.4 1756.9 181.8 1752.9 182.2 1748.9 182.5 1744.9 182.9 1740.9 183.2 1737.0 183.5 1733.0 183.9 1729.0 184.2 1725.0 184.5 1721.0 184.8 1717.0 185.2 1713.0 185.5 1709.0 185.8 1705.1 186.1 1701.1 186.4 1697.1 186.6 1693.1 186.9 1689.1 187.2 1685.1 187.4 1681.1 187.7 1677.1 188.0 1673.1 188.2 1669.1 188.5 1665.1 188.8 1661.1 189.0 1657.1 189.3 1653.2 189.5 1649.2 189.7 1645.2 189.9 1641.2 190.1 1637.2 190.3 1633.2 190.5 1629.2 190.6 1625.2 190.8 1621.2 191.0 1617.2 191.2 1613.2 191.4 1609.2 191.6 1605.2 191.8 1601.2 192.0 1597.2 192.2 1593.2 192.4 1589.2 192.6 1585.2 192.8 1581.2 193.0 1577.2 193.2 1573.2 193.4 1569.2 193.6 1565.2 193.9 1561.2 194.3 1557.3 194.6 1553.3 195.0 1549.3 195.4 1545.3 195.8 1541.3 196.2 1537.4 196.7 1533.4 197.1 1529.4 197.6 1525.4 198.1 1521.5 198.5 1517.5 199.0 1513.5 199.4 1509.5 199.8 1505.5 200.1 1501.6 200.5 1497.6 200.9 1493.6 201.3 1489.6 201.6 1485.6 202.0 1481.6 202.4 1477.7 202.8 1473.7 203.1 1469.7 203.5 1465.7 203.9 1461.7 204.3 1457.7 204.7 1453.8 205.2 1449.8 205.6 1445.8 206.1 1441.8 206.5 1437.9 207.0 1433.9 207.4 1429.9 207.8 1425.9 208.3 1421.9 208.8 1418.0 209.4 1414.0 210.0 1410.1 210.8 1406.2 211.6 1402.2 212.5 1398.3 213.3 1394.4 214.2 1390.5 215.2 1386.6 216.2 1382.8 217.2 1378.9 218.2 1375.0 219.2 1371.2 220.3 1367.3 221.3 1363.4 222.3 1359.5 223.3 1355.7 224.3 1351.8 225.4 1348.0 226.5 1344.1 227.6 1340.3 228.8 1336.4 230.0 1332.6 231.2 1328.8 232.5 1325.0 233.8 1321.2 235.1 1317.5 236.5 1313.7 237.9 1310.0 239.4 1306.3 240.9 1302.6 242.5 1298.9 244.1 1295.2 245.7 1291.6 247.4 1287.9 249.2 1284.4 251.1 1280.8 253.0 1277.4 255.2 1274.0 257.6 1270.8 260.2 1267.8 262.9 1264.9 265.8 1262.1 268.7 1259.3 271.6 1256.6 274.4 1253.8 277.2 1250.9 280.1 1248.1 283.0 1245.4 286.0 1242.8 289.1 1240.3 292.3 1237.9 295.6 1235.5 298.9 1233.3 302.3 1231.2 305.7 1229.1 309.2 1227.1 312.7 1225.2 316.3 1223.4 319.9 1221.7 323.5 1220.1 327.2 1218.6 331.0 1217.1 334.7 1215.7 338.5 1214.4 342.3 1213.1 346.1 1211.9 349.9 1210.7 353.7 1209.5 357.6 1208.4 361.4 1207.2 365.2 1206.1 369.1 1204.9 372.9 1203.8 376.7 1202.6 380.6 1201.5 384.4 1200.4 388.3 1199.3 392.1 1198.2 396.0 1197.2 399.9 1196.2 403.8 1195.4 407.7 1194.5 411.6 1193.7 415.5 1193.0 419.5 1192.3 423.4 1191.6 427.4 1190.9 431.3 1190.3 435.3 1189.6 439.2 1189.0 443.2 1188.4 447.1 1187.9 451.1 1187.3 455.1 1186.8 459.0 1186.2 463.0 1185.7 467.0 1185.2 470.9 1184.7 474.9 1184.2 478.9 1183.7 482.8 1183.2 486.8 1182.7 490.8 1182.3 494.8 1181.8 498.7 1181.3 502.7 1180.8 506.7 1180.4 510.6 1179.9 514.6 1179.4 518.6 1179.0 522.6 1178.5 526.6 1178.1 530.5 1177.6 534.5 1177.2 538.5 1176.8 542.5 1176.4 546.5 1176.1 550.4 1175.7 554.4 1175.4 558.4 1175.0 562.4 1174.7 566.4 1174.4 570.4 1174.2 574.4 1173.9 578.4 1173.7 582.4 1173.5 586.4 1173.3 590.4 1173.1 594.4 1172.9 598.4 1172.7 602.4 1172.5 606.4 1172.3 610.4 1172.2 614.3 1172.0 618.3 1171.8 622.3 1171.7 626.3 1171.5 630.3 1171.4 634.3 1171.2 638.3 1171.0 642.3 1170.9 646.3 1170.7 650.3 1170.5 654.3 1170.3 658.3 1170.2 662.3 1170.0 666.3 1169.8 670.3 1169.6 674.3 1169.4 678.3 1169.2 682.3 1169.0 686.3 1168.8 690.3 1168.6 694.3 1168.4 698.3 1168.2 702.3 1168.0 706.3 1167.8 710.3 1167.6 714.3 1167.5 718.3 1167.3 722.3 1167.2 726.3 1167.0 730.3 1166.9 734.3 1166.7 738.3 1166.6 742.3 1166.5 746.3 1166.4 750.3 1166.3 754.3 1166.2 758.3 1166.1 762.3 1166.0 766.3 1165.9 770.3 1165.8 774.3 1165.7 778.3 1165.6 782.3 1165.5 786.3 1165.4 790.3 1165.4 794.3 1165.3 798.3 1165.2 802.3 1165.1 806.3 1165.1 810.3 1165.0 814.3 1164.9 818.3 1164.9 822.3 1164.8 826.3 1164.8 830.3 1164.7 834.3 1164.7 838.3 1164.6 842.3 1164.6 846.3 1164.6 850.3 1164.5 854.3 1164.5 858.3 1164.4 862.3 1164.4 866.3 1164.4 870.3 1164.3 874.3 1164.3 878.3 1164.2 882.3 1164.2 886.3 1164.1 890.3 1164.1 894.3 1164.0 898.3 1164.0 902.3 1163.9 906.3 1163.8 910.3 1163.7 914.3 1163.7 918.3 1163.6 922.3 1163.5 926.3 1163.4 930.3 1163.3 934.3 1163.2 938.3 1163.1 942.3 1163.0 946.3 1162.9 950.3 1162.8 954.3 1162.7 958.3 1162.6 962.3 1162.5 966.3 1162.4 970.3 1162.3 974.3 1162.2 977.3 1162.2" stroke="#00ff00" stroke-dasharray="22.5,9.73"/>
<path d="M164.0 1925.0 164.2 1924.0 164.8 1920.1 165.4 1916.1 166.1 1912.2 166.7 1908.2 167.3 1904.3 167.9 1900.3 168.6 1896.4 169.2 1892.4 169.8 1888.5 170.5 1884.5 171.1 1880.6 171.7 1876.6 172.4 1872.7 173.0 1868.7 173.6 1864.7 174.1 1860.8 174.7 1856.8 175.3 1852.9 175.8 1848.9 176.4 1844.9 176.9 1841.0 177.5 1837.0 178.0 1833.0 178.5 1829.1 179.0 1825.1 179.5 1821.1 180.0 1817.2 180.5 1813.2 180.9 1809.2 181.4 1805.3 181.9 1801.3 182.4 1797.3 182.8 1793.3 183.2 1789.4 183.7 1785.4 184.1 1781.4 184.5 1777.4 184.9 1773.4 185.3 1769.5 185.7 1765.5 186.1 1761.5 186.5 1757.5 186.9 1753.5 187.3 1749.6 187.7 1745.6 188.0 1741.6 188.3 1737.6 188.6 1733.6 188.9 1729.6 189.2 1725.6 189.5 1721.6 189.8 1717.7 190.1 1713.7 190.4 1709.7 190.7 1705.7 191.0 1701.7 191.3 1697.7 191.6 1693.7 191.9 1689.7 192.2 1685.7 192.5 1681.7 192.7 1677.8 193.0 1673.8 193.3 1669.8 193.6 1665.8 193.9 1661.8 194.2 1657.8 194.5 1653.8 194.8 1649.8 195.1 1645.8 195.5 1641.8 195.8 1637.9 196.1 1633.9 196.5 1629.9 196.8 1625.9 197.1 1621.9 197.5 1617.9 197.8 1613.9 198.1 1610.0 198.5 1606.0 198.9 1602.0 199.2 1598.0 199.7 1594.0 200.1 1590.0 200.5 1586.1 200.9 1582.1 201.3 1578.1 201.8 1574.1 202.2 1570.2 202.6 1566.2 203.1 1562.2 203.7 1558.3 204.4 1554.3 205.0 1550.4 205.7 1546.4 206.4 1542.5 207.1 1538.6 207.8 1534.6 208.4 1530.7 208.9 1526.7 209.5 1522.7 210.0 1518.8 210.5 1514.8 211.1 1510.8 211.6 1506.9 212.1 1502.9 212.6 1498.9 213.0 1495.0 213.5 1491.0 214.0 1487.0 214.4 1483.0 214.9 1479.1 215.3 1475.1 215.8 1471.1 216.3 1467.1 216.8 1463.2 217.3 1459.2 217.8 1455.2 218.3 1451.3 218.8 1447.3 219.3 1443.3 219.8 1439.4 220.4 1435.4 221.0 1431.4 221.7 1427.5 222.4 1423.6 223.1 1419.6 224.0 1415.7 224.9 1411.8 225.9 1408.0 227.1 1404.2 228.3 1400.4 229.6 1396.6 231.1 1392.8 232.6 1389.1 234.1 1385.5 235.8 1381.8 237.5 1378.2 239.2 1374.6 240.9 1371.0 242.7 1367.4 244.5 1363.8 246.3 1360.2 248.1 1356.7 250.0 1353.1 251.9 1349.6 253.8 1346.1 255.7 1342.6 257.7 1339.1 259.7 1335.6 261.7 1332.2 263.7 1328.7 265.7 1325.3 267.8 1321.9 269.9 1318.4 272.0 1315.0 274.1 1311.6 276.2 1308.3 278.4 1304.9 280.6 1301.5 282.8 1298.2 285.1 1295.0 287.5 1291.8 290.0 1288.7 292.6 1285.6 295.3 1282.7 298.1 1279.8 300.9 1277.0 303.8 1274.2 306.8 1271.5 309.7 1268.8 312.8 1266.2 315.9 1263.7 319.0 1261.2 322.2 1258.7 325.4 1256.4 328.7 1254.1 332.0 1251.9 335.4 1249.7 338.8 1247.6 342.2 1245.6 345.7 1243.6 349.2 1241.7 352.7 1239.8 356.3 1238.0 359.9 1236.2 363.5 1234.5 367.1 1232.7 370.7 1230.9 374.3 1229.2 377.9 1227.5 381.5 1225.8 385.1 1224.1 388.8 1222.5 392.5 1221.0 396.2 1219.5 400.0 1218.2 403.8 1216.9 407.6 1215.8 411.5 1214.7 415.3 1213.8 419.2 1212.8 423.1 1211.9 427.0 1211.1 431.0 1210.2 434.9 1209.5 438.8 1208.7 442.7 1207.9 446.7 1207.2 450.6 1206.6 454.6 1205.9 458.5 1205.3 462.5 1204.6 466.4 1204.0 470.4 1203.5 474.3 1202.9 478.3 1202.3 482.3 1201.8 486.2 1201.3 490.2 1200.8 494.2 1200.2 498.1 1199.7 502.1 1199.3 506.1 1198.8 510.0 1198.3 514.0 1197.9 518.0 1197.4 522.0 1197.0 525.9 1196.6 529.9 1196.1 533.9 1195.7 537.9 1195.3 541.9 1195.0 545.9 1194.6 549.8 1194.2 553.8 1193.9 557.8 1193.6 561.8 1193.2 565.8 1192.9 569.8 1192.6 573.8 1192.4 577.8 1192.1 581.8 1191.8 585.7 1191.6 589.7 1191.3 593.7 1191.1 597.7 1190.9 601.7 1190.7 605.7 1190.4 609.7 1190.2 613.7 1190.0 617.7 1189.8 621.7 1189.6 625.7 1189.4 629.7 1189.2 633.7 1189.0 637.7 1188.8 641.7 1188.6 645.7 1188.3 649.7 1188.1 653.7 1187.8 657.6 1187.6 661.6 1187.3 665.6 1187.0 669.6 1186.8 673.6 1186.5 677.6 1186.2 681.6 1185.9 685.6 1185.6 689.6 1185.3 693.6 1185.0 697.5 1184.7 701.5 1184.4 705.5 1184.1 709.5 1183.8 713.5 1183.6 717.5 1183.3 721.5 1183.1 725.5 1182.8 729.5 1182.6 733.5 1182.4 737.5 1182.3 741.5 1182.1 745.5 1181.9 749.5 1181.8 753.5 1181.6 757.5 1181.5 761.5 1181.4 765.5 1181.2 769.5 1181.1 773.5 1181.0 777.5 1180.9 781.5 1180.8 785.5 1180.6 789.5 1180.5 793.5 1180.4 797.5 1180.3 801.4 1180.1 805.4 1180.0 809.4 1179.9 813.4 1179.7 817.4 1179.6 821.4 1179.4 825.4 1179.2 829.4 1179.1 833.4 1178.9 837.4 1178.7 841.4 1178.5 845.4 1178.3 849.4 1178.2 853.4 1178.0 857.4 1177.8 861.4 1177.6 865.4 1177.4 869.4 1177.2 873.4 1177.0 877.4 1176.8 881.4 1176.7 885.4 1176.5 889.4 1176.3 893.4 1176.1 897.4 1175.9 901.4 1175.7 905.4 1175.6 909.4 1175.4 913.4 1175.2 917.4 1175.0 921.3 1174.8 925.3 1174.7 929.3 1174.5 933.3 1174.3 937.3 1174.1 941.3 1173.9 945.3 1173.7 949.3 1173.6 953.3 1173.4 957.3 1173.2 961.3 1173.0 965.3 1172.8 969.3 1172.7 973.3 1172.5 977.3 1172.3" stroke="#ff00ff" stroke-dasharray="6.08,10.03"/>
<path d="M164.0 1915.8 164.1 1914.8 164.6 1910.8 165.2 1906.9 165.7 1902.9 166.2 1898.9 166.7 1894.9 167.2 1891.0 167.7 1887.0 168.2 1883.0 168.7 1879.1 169.2 1875.1 169.7 1871.1 170.2 1867.1 170.7 1863.2 171.2 1859.2 171.7 1855.2 172.2 1851.3 172.7 1847.3 173.2 1843.3 173.7 1839.3 174.2 1835.4 174.7 1831.4 175.2 1827.4 175.8 1823.5 176.3 1819.5 176.9 1815.5 177.4 1811.6 177.9 1807.6 178.4 1803.6 178.8 1799.6 179.2 1795.7 179.6 1791.7 179.9 1787.7 180.2 1783.7 180.6 1779.7 180.9 1775.7 181.3 1771.7 181.6 1767.7 181.9 1763.8 182.3 1759.8 182.6 1755.8 183.0 1751.8 183.3 1747.8 183.5 1743.8 183.6 1739.8 183.8 1735.8 183.9 1731.8 184.0 1727.8 184.1 1723.8 184.2 1719.8 184.3 1715.8 184.4 1711.8 184.5 1707.8 184.6 1703.8 184.7 1699.8 184.8 1695.8 184.9 1691.8 185.0 1687.8 185.1 1683.8 185.2 1679.8 185.3 1675.8 185.4 1671.8 185.6 1667.8 185.7 1663.8 185.8 1659.8 185.9 1655.8 186.1 1651.8 186.4 1647.8 186.7 1643.8 187.0 1639.8 187.4 1635.8 187.7 1631.8 188.0 1627.8 188.4 1623.9 188.7 1619.9 189.1 1615.9 189.4 1611.9 189.7 1607.9 190.1 1603.9 190.5 1599.9 190.9 1596.0 191.4 1592.0 191.9 1588.0 192.4 1584.0 192.9 1580.1 193.5 1576.1 194.0 1572.1 194.6 1568.2 195.1 1564.2 195.6 1560.2 196.1 1556.3 196.6 1552.3 197.0 1548.3 197.5 1544.3 198.0 1540.4 198.5 1536.4 199.0 1532.4 199.5 1528.5 200.0 1524.5 200.6 1520.5 201.1 1516.6 201.6 1512.6 202.2 1508.6 202.8 1504.7 203.3 1500.7 203.9 1496.7 204.5 1492.8 205.0 1488.8 205.6 1484.8 206.2 1480.9 206.7 1476.9 207.3 1473.0 207.9 1469.0 208.5 1465.1 209.2 1461.1 209.8 1457.1 210.4 1453.2 211.0 1449.2 211.6 1445.3 212.3 1441.3 213.0 1437.4 213.7 1433.4 214.4 1429.5 215.1 1425.6 215.8 1421.6 216.5 1417.7 217.2 1413.7 218.0 1409.8 218.8 1405.9 219.5 1402.0 220.3 1398.0 221.1 1394.1 221.9 1390.2 222.8 1386.3 223.6 1382.4 224.5 1378.5 225.4 1374.6 226.3 1370.7 227.2 1366.8 228.2 1362.9 229.3 1359.0 230.4 1355.2 231.6 1351.4 232.8 1347.6 234.2 1343.8 235.8 1340.2 237.4 1336.5 239.2 1332.9 241.0 1329.4 242.9 1325.9 244.9 1322.4 246.8 1318.9 248.8 1315.4 250.7 1311.9 252.7 1308.4 254.7 1304.9 256.8 1301.5 259.0 1298.2 261.3 1294.9 263.7 1291.7 266.2 1288.6 268.9 1285.6 271.6 1282.7 274.4 1279.8 277.3 1277.0 280.2 1274.3 283.2 1271.7 286.3 1269.1 289.4 1266.6 292.6 1264.1 295.7 1261.7 299.0 1259.3 302.2 1257.0 305.5 1254.7 308.8 1252.5 312.2 1250.4 315.7 1248.4 319.2 1246.5 322.8 1244.7 326.4 1243.0 330.1 1241.4 333.8 1239.9 337.5 1238.5 341.3 1237.2 345.1 1235.9 348.9 1234.7 352.7 1233.5 356.6 1232.4 360.4 1231.3 364.3 1230.3 368.2 1229.2 372.0 1228.2 375.9 1227.2 379.8 1226.2 383.7 1225.3 387.6 1224.3 391.5 1223.5 395.4 1222.6 399.3 1221.8 403.2 1221.1 407.2 1220.4 411.1 1219.7 415.1 1219.1 419.0 1218.5 423.0 1217.9 427.0 1217.3 430.9 1216.7 434.9 1216.2 438.9 1215.7 442.8 1215.2 446.8 1214.7 450.8 1214.2 454.7 1213.7 458.7 1213.3 462.7 1212.8 466.7 1212.4 470.7 1212.0 474.6 1211.5 478.6 1211.1 482.6 1210.7 486.6 1210.3 490.6 1210.0 494.6 1209.6 498.5 1209.2 502.5 1208.8 506.5 1208.5 510.5 1208.1 514.5 1207.8 518.5 1207.5 522.5 1207.1 526.5 1206.8 530.5 1206.5 534.4 1206.2 538.4 1205.9 542.4 1205.6 546.4 1205.3 550.4 1205.0 554.4 1204.7 558.4 1204.5 562.4 1204.2 566.4 1203.9 570.4 1203.6 574.4 1203.4 578.4 1203.1 582.4 1202.9 586.4 1202.6 590.4 1202.4 594.3 1202.1 598.3 1201.9 602.3 1201.7 606.3 1201.4 610.3 1201.2 614.3 1201.0 618.3 1200.8 622.3 1200.6 626.3 1200.3 630.3 1200.1 634.3 1199.9 638.3 1199.7 642.3 1199.5 646.3 1199.3 650.3 1199.1 654.3 1198.9 658.3 1198.7 662.3 1198.5 666.3 1198.3 670.3 1198.1 674.3 1198.0 678.3 1197.8 682.3 1197.6 686.3 1197.4 690.3 1197.3 694.3 1197.1 698.3 1196.9 702.3 1196.8 706.3 1196.6 710.3 1196.4 714.3 1196.2 718.3 1196.0 722.3 1195.9 726.3 1195.7 730.3 1195.5 734.3 1195.3 738.3 1195.1 742.3 1194.8 746.3 1194.6 750.3 1194.4 754.3 1194.1 758.3 1193.9 762.3 1193.6 766.2 1193.3 770.2 1193.1 774.2 1192.8 778.2 1192.6 782.2 1192.3 786.2 1192.1 790.2 1191.9 794.2 1191.6 798.2 1191.4 802.2 1191.2 806.2 1191.1 810.2 1190.9 814.2 1190.7 818.2 1190.6 822.2 1190.5 826.2 1190.3 830.2 1190.2 834.2 1190.1 838.2 1190.0 842.2 1189.8 846.2 1189.7 850.2 1189.6 854.2 1189.5 858.2 1189.4 862.2 1189.3 866.2 1189.2 870.2 1189.1 874.2 1189.1 878.2 1189.0 882.2 1189.0 886.2 1188.9 890.2 1188.9 894.2 1188.9 898.2 1188.9 902.2 1188.9 906.2 1188.9 910.3 1188.9 914.3 1188.9 918.3 1188.9 922.3 1188.9 926.3 1188.9 930.3 1188.9 934.3 1188.9 938.3 1188.9 942.3 1188.9 946.3 1188.9 950.3 1188.9 954.3 1188.9 958.3 1188.9 962.3 1188.9 966.3 1188.9 970.3 1188.9 974.3 1188.9 977.3 1188.9" stroke="#ffff00" stroke-linecap="square"/>
<path d="M164.0 1925.0 164.2 1924.0 164.8 1920.1 165.4 1916.1 166.1 1912.2 166.7 1908.2 167.3 1904.3 167.9 1900.3 168.6 1896.4 169.2 1892.4 169.8 1888.5 170.5 1884.5 171.1 1880.5 171.7 1876.6 172.4 1872.6 173.0 1868.7 173.6 1864.7 174.1 1860.8 174.7 1856.8 175.3 1852.9 175.8 1848.9 176.4 1844.9 177.0 1841.0 177.5 1837.0 178.0 1833.0 178.5 1829.1 179.0 1825.1 179.5 1821.1 180.0 1817.2 180.5 1813.2 180.9 1809.2 181.4 1805.2 181.9 1801.3 182.4 1797.3 182.8 1793.3 183.2 1789.3 183.7 1785.4 184.1 1781.4 184.5 1777.4 184.9 1773.4 185.3 1769.4 185.7 1765.5 186.1 1761.5 186.5 1757.5 186.9 1753.5 187.3 1749.5 187.7 1745.6 188.0 1741.6 188.3 1737.6 188.6 1733.6 188.9 1729.6 189.2 1725.6 189.5 1721.6 189.8 1717.6 190.1 1713.6 190.4 1709.6 190.7 1705.7 191.0 1701.7 191.2 1697.7 191.5 1693.7 191.8 1689.7 192.1 1685.7 192.4 1681.7 192.7 1677.7 193.0 1673.7 193.3 1669.7 193.6 1665.8 193.9 1661.8 194.2 1657.8 194.5 1653.8 194.9 1649.8 195.2 1645.8 195.6 1641.8 196.0 1637.9 196.4 1633.9 196.8 1629.9 197.2 1625.9 197.6 1621.9 198.0 1617.9 198.4 1614.0 198.8 1610.0 199.2 1606.0 199.6 1602.0 200.1 1598.1 200.6 1594.1 201.1 1590.1 201.6 1586.1 202.1 1582.2 202.6 1578.2 203.1 1574.2 203.6 1570.3 204.1 1566.3 204.7 1562.3 205.3 1558.4 206.0 1554.5 206.7 1550.5 207.4 1546.6 208.1 1542.6 208.9 1538.7 209.6 1534.8 210.3 1530.8 211.1 1526.9 211.9 1523.0 212.6 1519.1 213.4 1515.1 214.0 1511.2 214.7 1507.2 215.3 1503.3 215.9 1499.3 216.5 1495.4 217.1 1491.4 217.8 1487.5 218.4 1483.5 219.0 1479.6 219.6 1475.6 220.1 1471.6 220.7 1467.7 221.3 1463.7 221.9 1459.8 222.5 1455.8 223.1 1451.9 223.7 1447.9 224.4 1444.0 225.1 1440.0 225.8 1436.1 226.5 1432.1 227.2 1428.2 228.0 1424.3 228.8 1420.4 229.6 1416.5 230.6 1412.6 231.6 1408.7 232.6 1404.8 233.7 1401.0 234.9 1397.2 236.1 1393.3 237.3 1389.5 238.6 1385.8 240.0 1382.0 241.4 1378.3 242.8 1374.5 244.4 1370.8 245.9 1367.1 247.5 1363.5 249.2 1359.9 251.0 1356.3 252.7 1352.7 254.5 1349.1 256.4 1345.5 258.2 1342.0 260.0 1338.4 261.8 1334.9 263.7 1331.3 265.6 1327.8 267.6 1324.3 269.6 1320.9 271.9 1317.6 274.2 1314.4 276.8 1311.4 279.6 1308.5 282.6 1305.8 285.6 1303.2 288.6 1300.6 291.7 1298.0 294.6 1295.3 297.4 1292.5 300.2 1289.6 303.0 1286.7 305.7 1283.8 308.5 1280.9 311.4 1278.2 314.4 1275.5 317.4 1272.9 320.5 1270.4 323.7 1267.9 326.9 1265.6 330.2 1263.3 333.6 1261.1 337.0 1259.1 340.5 1257.1 344.0 1255.3 347.6 1253.6 351.3 1252.0 355.0 1250.5 358.8 1249.0 362.5 1247.7 366.3 1246.4 370.1 1245.1 373.9 1243.9 377.7 1242.7 381.5 1241.5 385.4 1240.3 389.2 1239.2 393.1 1238.1 396.9 1237.1 400.8 1236.0 404.6 1234.9 408.5 1233.9 412.3 1232.8 416.2 1231.6 420.0 1230.5 423.8 1229.3 427.6 1228.2 431.5 1227.0 435.3 1225.8 439.1 1224.6 442.9 1223.4 446.8 1222.2 450.6 1221.1 454.4 1220.0 458.3 1218.9 462.1 1217.8 466.0 1216.8 469.9 1215.8 473.8 1214.9 477.7 1214.1 481.6 1213.3 485.6 1212.6 489.5 1211.9 493.5 1211.3 497.4 1210.8 501.4 1210.3 505.4 1209.8 509.3 1209.3 513.3 1208.9 517.3 1208.4 521.3 1208.0 525.2 1207.6 529.2 1207.2 533.2 1206.9 537.2 1206.5 541.2 1206.2 545.2 1205.8 549.2 1205.5 553.1 1205.1 557.1 1204.8 561.1 1204.4 565.1 1204.1 569.1 1203.8 573.1 1203.4 577.1 1203.1 581.0 1202.7 585.0 1202.4 589.0 1202.0 593.0 1201.7 597.0 1201.4 601.0 1201.1 605.0 1200.7 609.0 1200.4 612.9 1200.1 616.9 1199.8 620.9 1199.5 624.9 1199.2 628.9 1198.9 632.9 1198.6 636.9 1198.3 640.9 1198.0 644.9 1197.7 648.9 1197.4 652.8 1197.1 656.8 1196.8 660.8 1196.5 664.8 1196.2 668.8 1196.0 672.8 1195.7 676.8 1195.4 680.8 1195.1 684.8 1194.8 688.8 1194.6 692.8 1194.3 696.7 1194.0 700.7 1193.7 704.7 1193.5 708.7 1193.2 712.7 1193.0 716.7 1192.7 720.7 1192.4 724.7 1192.2 728.7 1191.9 732.7 1191.7 736.7 1191.4 740.7 1191.2 744.7 1191.0 748.7 1190.7 752.7 1190.5 756.6 1190.3 760.6 1190.1 764.6 1189.9 768.6 1189.7 772.6 1189.5 776.6 1189.2 780.6 1189.0 784.6 1188.8 788.6 1188.6 792.6 1188.4 796.6 1188.1 800.6 1187.9 804.6 1187.7 808.6 1187.4 812.6 1187.2 816.6 1186.9 820.6 1186.6 824.5 1186.3 828.5 1186.0 832.5 1185.7 836.5 1185.3 840.5 1185.0 844.5 1184.6 848.5 1184.2 852.4 1183.9 856.4 1183.5 860.4 1183.2 864.4 1182.8 868.4 1182.5 872.4 1182.2 876.4 1181.8 880.4 1181.6 884.3 1181.3 888.3 1181.0 892.3 1180.8 896.3 1180.6 900.3 1180.4 904.3 1180.2 908.3 1180.1 912.3 1179.9 916.3 1179.7 920.3 1179.6 924.3 1179.5 928.3 1179.3 932.3 1179.2 936.3 1179.1 940.3 1179.0 944.3 1178.8 948.3 1178.7 952.3 1178.6 956.3 1178.5 960.3 1178.4 964.3 1178.2 968.3 1178.1 972.3 1178.0 976.3 1177.9 977.3 1177.8" stroke="#00a2e8" stroke-dasharray="22.5,9.73"/>
<path d="M164.0 1925.0 164.2 1924.0 164.8 1920.1 165.4 1916.1 166.1 1912.2 166.7 1908.2 167.3 1904.3 167.9 1900.3 168.6 1896.4 169.2 1892.4 169.8 1888.5 170.5 1884.5 171.1 1880.6 171.7 1876.6 172.4 1872.7 173.0 1868.7 173.6 1864.7 174.1 1860.8 174.7 1856.8 175.3 1852.9 175.8 1848.9 176.4 1845.0 176.9 1841.0 177.5 1837.0 178.0 1833.1 178.5 1829.1 179.0 1825.1 179.5 1821.2 180.0 1817.2 180.4 1813.2 180.9 1809.2 181.4 1805.3 181.9 1801.3 182.4 1797.3 182.8 1793.4 183.2 1789.4 183.7 1785.4 184.1 1781.4 184.5 1777.4 184.9 1773.5 185.3 1769.5 185.7 1765.5 186.1 1761.5 186.5 1757.5 186.9 1753.6 187.3 1749.6 187.7 1745.6 188.0 1741.6 188.3 1737.6 188.6 1733.6 188.9 1729.6 189.2 1725.7 189.5 1721.7 189.8 1717.7 190.0 1713.7 190.3 1709.7 190.6 1705.7 190.9 1701.7 191.2 1697.7 191.5 1693.7 191.8 1689.8 192.1 1685.8 192.4 1681.8 192.7 1677.8 193.0 1673.8 193.3 1669.8 193.6 1665.8 193.9 1661.8 194.2 1657.8 194.5 1653.9 194.9 1649.9 195.3 1645.9 195.7 1641.9 196.1 1637.9 196.5 1634.0 197.0 1630.0 197.4 1626.0 197.8 1622.0 198.3 1618.1 198.7 1614.1 199.1 1610.1 199.5 1606.1 200.0 1602.1 200.5 1598.2 201.1 1594.2 201.6 1590.3 202.2 1586.3 202.8 1582.3 203.4 1578.4 204.0 1574.4 204.6 1570.5 205.2 1566.5 205.9 1562.6 206.7 1558.7 207.5 1554.8 208.5 1550.9 209.4 1547.0 210.4 1543.1 211.4 1539.2 212.3 1535.3 213.1 1531.4 213.9 1527.5 214.7 1523.6 215.4 1519.7 216.2 1515.7 216.9 1511.8 217.6 1507.9 218.2 1503.9 218.9 1500.0 219.5 1496.0 220.1 1492.1 220.8 1488.1 221.4 1484.2 222.0 1480.2 222.6 1476.3 223.2 1472.3 223.8 1468.3 224.4 1464.4 225.0 1460.4 225.6 1456.5 226.3 1452.5 226.9 1448.6 227.5 1444.6 228.1 1440.7 228.8 1436.7 229.4 1432.8 230.1 1428.8 230.8 1424.9 231.5 1421.0 232.2 1417.0 232.9 1413.1 233.7 1409.2 234.6 1405.3 235.5 1401.4 236.4 1397.5 237.4 1393.6 238.5 1389.8 239.7 1386.0 240.9 1382.2 242.3 1378.4 243.8 1374.7 245.3 1371.0 246.9 1367.3 248.5 1363.7 250.2 1360.0 251.9 1356.4 253.7 1352.8 255.4 1349.2 257.2 1345.7 259.0 1342.1 260.9 1338.6 262.9 1335.1 265.0 1331.7 267.2 1328.4 269.6 1325.2 272.1 1322.1 274.7 1319.0 277.4 1316.1 280.3 1313.3 283.2 1310.6 286.2 1308.0 289.3 1305.5 292.6 1303.1 295.9 1300.9 299.3 1298.8 302.7 1296.7 306.1 1294.7 309.6 1292.7 313.1 1290.7 316.5 1288.6 319.9 1286.5 323.2 1284.3 326.5 1282.1 329.8 1279.8 333.1 1277.5 336.4 1275.2 339.6 1272.9 342.9 1270.6 346.2 1268.3 349.6 1266.1 352.9 1264.0 356.4 1262.0 359.9 1260.0 363.4 1258.1 366.9 1256.2 370.5 1254.4 374.1 1252.7 377.7 1251.0 381.3 1249.3 385.0 1247.6 388.6 1246.1 392.3 1244.5 396.1 1243.0 399.8 1241.6 403.5 1240.2 407.3 1238.9 411.1 1237.6 414.9 1236.4 418.7 1235.1 422.5 1233.9 426.3 1232.7 430.1 1231.5 434.0 1230.3 437.8 1229.2 441.6 1228.1 445.5 1227.0 449.4 1226.0 453.2 1224.9 457.1 1224.0 461.0 1223.0 464.9 1222.1 468.8 1221.2 472.7 1220.4 476.6 1219.6 480.6 1218.9 484.5 1218.2 488.5 1217.6 492.4 1217.0 496.4 1216.5 500.3 1215.9 504.3 1215.4 508.3 1215.0 512.2 1214.5 516.2 1214.1 520.2 1213.6 524.2 1213.2 528.2 1212.8 532.1 1212.4 536.1 1212.1 540.1 1211.7 544.1 1211.4 548.1 1211.0 552.1 1210.7 556.0 1210.3 560.0 1210.0 564.0 1209.7 568.0 1209.4 572.0 1209.0 576.0 1208.7 580.0 1208.4 584.0 1208.1 588.0 1207.9 591.9 1207.6 595.9 1207.3 599.9 1207.1 603.9 1206.8 607.9 1206.6 611.9 1206.3 615.9 1206.1 619.9 1205.8 623.9 1205.6 627.9 1205.3 631.9 1205.0 635.9 1204.8 639.8 1204.5 643.8 1204.2 647.8 1203.9 651.8 1203.6 655.8 1203.3 659.8 1203.0 663.8 1202.6 667.8 1202.3 671.7 1201.9 675.7 1201.5 679.7 1201.1 683.7 1200.7 687.7 1200.3 691.6 1200.0 695.6 1199.6 699.6 1199.2 703.6 1198.8 707.6 1198.4 711.6 1198.0 715.5 1197.7 719.5 1197.3 723.5 1197.0 727.5 1196.7 731.5 1196.4 735.5 1196.1 739.5 1195.8 743.5 1195.5 747.4 1195.3 751.4 1195.0 755.4 1194.7 759.4 1194.5 763.4 1194.2 767.4 1194.0 771.4 1193.7 775.4 1193.5 779.4 1193.3 783.4 1193.0 787.4 1192.8 791.4 1192.6 795.4 1192.4 799.4 1192.2 803.3 1192.1 807.3 1191.9 811.3 1191.8 815.3 1191.6 819.3 1191.5 823.3 1191.4 827.3 1191.3 831.3 1191.2 835.3 1191.1 839.3 1191.0 843.3 1190.9 847.3 1190.8 851.3 1190.7 855.3 1190.6 859.3 1190.5 863.3 1190.5 867.3 1190.4 871.3 1190.3 875.3 1190.2 879.3 1190.2 883.3 1190.1 887.3 1190.0 891.3 1189.9 895.3 1189.8 899.3 1189.7 903.3 1189.6 907.3 1189.5 911.3 1189.5 915.3 1189.4 919.3 1189.3 923.3 1189.2 927.3 1189.1 931.3 1189.0 935.3 1188.9 939.3 1188.8 943.3 1188.7 947.3 1188.6 951.3 1188.5 955.3 1188.5 959.3 1188.4 963.3 1188.3 967.3 1188.2 971.3 1188.1 975.3 1188.0 977.3 1188.0" stroke="#808080" stroke-dasharray="6.08,10.03"/>
<path d="M164.0 1930.8 164.2 1929.8 164.8 1925.9 165.5 1921.9 166.2 1918.0 166.8 1914.0 167.5 1910.1 168.2 1906.1 168.8 1902.2 169.5 1898.3 170.2 1894.3 170.8 1890.4 171.5 1886.4 172.2 1882.5 172.8 1878.5 173.5 1874.6 174.1 1870.6 174.7 1866.7 175.3 1862.7 175.9 1858.8 176.5 1854.8 177.1 1850.8 177.7 1846.9 178.3 1842.9 178.8 1839.0 179.3 1835.0 179.8 1831.0 180.3 1827.1 180.8 1823.1 181.2 1819.1 181.7 1815.1 182.2 1811.2 182.6 1807.2 183.1 1803.2 183.5 1799.2 184.0 1795.3 184.4 1791.3 184.9 1787.3 185.3 1783.3 185.7 1779.3 186.2 1775.4 186.6 1771.4 187.0 1767.4 187.4 1763.4 187.9 1759.5 188.3 1755.5 188.7 1751.5 189.1 1747.5 189.6 1743.5 190.0 1739.6 190.5 1735.6 190.9 1731.6 191.3 1727.6 191.8 1723.7 192.2 1719.7 192.7 1715.7 193.1 1711.7 193.6 1707.7 194.0 1703.8 194.5 1699.8 194.9 1695.8 195.3 1691.8 195.8 1687.9 196.2 1683.9 196.7 1679.9 197.1 1675.9 197.6 1672.0 198.0 1668.0 198.5 1664.0 198.9 1660.0 199.4 1656.1 199.8 1652.1 200.2 1648.1 200.6 1644.1 201.1 1640.1 201.5 1636.2 201.9 1632.2 202.3 1628.2 202.7 1624.2 203.1 1620.2 203.6 1616.3 204.0 1612.3 204.4 1608.3 204.8 1604.3 205.3 1600.4 205.8 1596.4 206.3 1592.4 206.8 1588.4 207.3 1584.5 207.8 1580.5 208.3 1576.5 208.8 1572.6 209.4 1568.6 210.0 1564.7 210.6 1560.7 211.5 1556.8 212.4 1552.9 213.3 1549.0 214.3 1545.1 215.3 1541.3 216.3 1537.4 217.3 1533.5 218.2 1529.6 219.1 1525.7 219.9 1521.8 220.8 1517.9 221.6 1514.0 222.5 1510.1 223.4 1506.2 224.3 1502.3 225.2 1498.4 226.0 1494.5 227.0 1490.6 227.9 1486.7 228.8 1482.8 229.9 1478.9 230.9 1475.1 232.0 1471.2 233.1 1467.4 234.3 1463.6 235.4 1459.7 236.6 1455.9 237.8 1452.1 239.1 1448.3 240.4 1444.5 241.7 1440.7 243.0 1436.9 244.3 1433.2 245.7 1429.4 247.1 1425.7 248.6 1422.0 250.0 1418.2 251.5 1414.5 253.0 1410.8 254.6 1407.1 256.1 1403.4 257.8 1399.8 259.4 1396.1 261.1 1392.5 262.9 1388.9 264.8 1385.4 266.7 1381.9 268.8 1378.5 270.9 1375.1 273.1 1371.8 275.4 1368.5 277.8 1365.2 280.2 1362.1 282.7 1359.0 285.3 1355.9 288.0 1353.0 290.7 1350.1 293.6 1347.2 296.5 1344.5 299.5 1341.8 302.5 1339.2 305.6 1336.7 308.7 1334.2 311.9 1331.8 315.2 1329.5 318.5 1327.2 321.8 1325.0 325.1 1322.8 328.5 1320.6 331.9 1318.5 335.3 1316.4 338.7 1314.3 342.2 1312.3 345.7 1310.3 349.2 1308.4 352.7 1306.5 356.3 1304.7 359.9 1302.9 363.5 1301.2 367.1 1299.6 370.8 1298.0 374.5 1296.5 378.2 1295.0 381.9 1293.6 385.7 1292.2 389.5 1290.8 393.2 1289.5 397.0 1288.2 400.8 1287.0 404.6 1285.8 408.5 1284.6 412.3 1283.4 416.1 1282.2 419.9 1281.0 423.8 1279.9 427.6 1278.7 431.4 1277.6 435.3 1276.5 439.1 1275.4 443.0 1274.3 446.8 1273.2 450.7 1272.2 454.5 1271.1 458.4 1270.1 462.3 1269.2 466.2 1268.2 470.1 1267.3 474.0 1266.5 477.9 1265.7 481.8 1264.9 485.8 1264.2 489.7 1263.5 493.7 1262.8 497.6 1262.2 501.6 1261.6 505.5 1261.0 509.5 1260.4 513.5 1259.9 517.4 1259.4 521.4 1258.9 525.4 1258.4 529.3 1257.9 533.3 1257.4 537.3 1257.0 541.3 1256.5 545.2 1256.1 549.2 1255.6 553.2 1255.2 557.2 1254.8 561.2 1254.4 565.1 1253.9 569.1 1253.5 573.1 1253.1 577.1 1252.7 581.1 1252.3 585.0 1251.9 589.0 1251.5 593.0 1251.2 597.0 1250.8 601.0 1250.4 605.0 1250.1 608.9 1249.7 612.9 1249.3 616.9 1249.0 620.9 1248.6 624.9 1248.3 628.9 1248.0 632.9 1247.6 636.8 1247.3 640.8 1246.9 644.8 1246.6 648.8 1246.3 652.8 1245.9 656.8 1245.6 660.8 1245.3 664.8 1244.9 668.7 1244.6 672.7 1244.2 676.7 1243.9 680.7 1243.6 684.7 1243.2 688.7 1242.9 692.7 1242.6 696.7 1242.3 700.6 1241.9 704.6 1241.6 708.6 1241.3 712.6 1241.0 716.6 1240.7 720.6 1240.4 724.6 1240.2 728.6 1239.9 732.6 1239.6 736.6 1239.3 740.6 1239.1 744.5 1238.8 748.5 1238.6 752.5 1238.3 756.5 1238.1 760.5 1237.9 764.5 1237.6 768.5 1237.4 772.5 1237.2 776.5 1236.9 780.5 1236.7 784.5 1236.5 788.5 1236.3 792.5 1236.1 796.5 1235.9 800.5 1235.7 804.5 1235.5 808.5 1235.3 812.5 1235.1 816.5 1234.9 820.5 1234.7 824.5 1234.5 828.5 1234.3 832.4 1234.1 836.4 1233.9 840.4 1233.7 844.4 1233.6 848.4 1233.4 852.4 1233.2 856.4 1233.1 860.4 1232.9 864.4 1232.7 868.4 1232.5 872.4 1232.4 876.4 1232.2 880.4 1232.0 884.4 1231.8 888.4 1231.6 892.4 1231.4 896.4 1231.2 900.4 1231.0 904.4 1230.8 908.4 1230.6 912.4 1230.4 916.4 1230.2 920.4 1229.9 924.4 1229.7 928.4 1229.5 932.4 1229.3 936.4 1229.0 940.4 1228.8 944.3 1228.6 948.3 1228.3 952.3 1228.1 956.3 1227.9 960.3 1227.6 964.3 1227.4 968.3 1227.2 972.3 1226.9 976.3 1226.7 977.3 1226.7" stroke="#0000ff" stroke-linecap="square"/>
<path d="M164.0 1929.6 164.1 1928.6 164.7 1924.7 165.3 1920.7 165.9 1916.7 166.5 1912.8 167.1 1908.8 167.7 1904.9 168.3 1900.9 168.9 1897.0 169.5 1893.0 170.1 1889.0 170.7 1885.1 171.3 1881.1 171.9 1877.2 172.5 1873.2 173.1 1869.3 173.6 1865.3 174.2 1861.3 174.7 1857.4 175.3 1853.4 175.8 1849.4 176.4 1845.5 176.9 1841.5 177.4 1837.5 177.9 1833.6 178.4 1829.6 178.9 1825.6 179.3 1821.7 179.8 1817.7 180.3 1813.7 180.8 1809.7 181.2 1805.8 181.7 1801.8 182.2 1797.8 182.6 1793.8 183.1 1789.9 183.5 1785.9 183.9 1781.9 184.3 1777.9 184.7 1774.0 185.2 1770.0 185.6 1766.0 186.0 1762.0 186.4 1758.0 186.8 1754.1 187.2 1750.1 187.6 1746.1 188.0 1742.1 188.4 1738.1 188.7 1734.1 189.0 1730.2 189.4 1726.2 189.7 1722.2 190.1 1718.2 190.4 1714.2 190.8 1710.2 191.1 1706.2 191.4 1702.2 191.8 1698.3 192.1 1694.3 192.5 1690.3 192.8 1686.3 193.1 1682.3 193.5 1678.3 193.8 1674.3 194.2 1670.4 194.5 1666.4 194.9 1662.4 195.2 1658.4 195.6 1654.4 195.9 1650.4 196.3 1646.4 196.7 1642.5 197.1 1638.5 197.5 1634.5 198.0 1630.5 198.4 1626.5 198.8 1622.6 199.2 1618.6 199.6 1614.6 200.0 1610.6 200.4 1606.6 200.9 1602.7 201.3 1598.7 201.8 1594.7 202.3 1590.7 202.8 1586.8 203.3 1582.8 203.7 1578.8 204.2 1574.9 204.7 1570.9 205.2 1566.9 205.7 1563.0 206.3 1559.0 206.9 1555.0 207.5 1551.1 208.2 1547.1 208.8 1543.2 209.5 1539.2 210.2 1535.3 210.9 1531.4 211.5 1527.4 212.2 1523.5 212.8 1519.5 213.5 1515.6 214.2 1511.6 214.8 1507.7 215.5 1503.7 216.2 1499.8 216.8 1495.8 217.5 1491.9 218.1 1488.0 218.8 1484.0 219.5 1480.1 220.2 1476.1 220.9 1472.2 221.7 1468.3 222.4 1464.3 223.2 1460.4 224.0 1456.5 224.8 1452.6 225.8 1448.7 226.7 1444.8 227.7 1440.9 228.8 1437.1 230.0 1433.3 231.3 1429.5 232.6 1425.7 234.0 1422.0 235.5 1418.2 237.0 1414.5 238.6 1410.9 240.3 1407.2 242.0 1403.6 243.8 1400.1 245.7 1396.6 247.7 1393.1 249.7 1389.6 251.8 1386.2 254.0 1382.8 256.2 1379.5 258.5 1376.2 260.8 1373.0 263.3 1369.8 265.8 1366.7 268.4 1363.7 271.0 1360.7 273.7 1357.8 276.5 1354.9 279.4 1352.1 282.3 1349.3 285.3 1346.6 288.3 1344.0 291.4 1341.5 294.5 1339.0 297.6 1336.5 300.8 1334.1 304.1 1331.8 307.3 1329.5 310.6 1327.2 314.0 1325.0 317.4 1322.9 320.8 1320.8 324.2 1318.7 327.6 1316.7 331.1 1314.6 334.6 1312.7 338.0 1310.7 341.5 1308.7 345.1 1306.9 348.6 1305.0 352.2 1303.2 355.8 1301.5 359.5 1299.9 363.2 1298.4 366.9 1296.9 370.7 1295.6 374.5 1294.4 378.3 1293.2 382.2 1292.2 386.0 1291.1 389.9 1290.1 393.8 1289.2 397.7 1288.2 401.6 1287.2 405.4 1286.3 409.3 1285.3 413.2 1284.2 417.0 1283.2 420.9 1282.2 424.8 1281.1 428.6 1280.1 432.5 1279.0 436.4 1278.0 440.2 1277.0 444.1 1275.9 448.0 1274.9 451.8 1273.9 455.7 1272.9 459.6 1271.9 463.5 1271.0 467.4 1270.0 471.3 1269.1 475.2 1268.3 479.1 1267.4 483.0 1266.6 486.9 1265.8 490.8 1265.1 494.8 1264.4 498.7 1263.7 502.7 1263.0 506.6 1262.3 510.5 1261.6 514.5 1261.0 518.4 1260.3 522.4 1259.7 526.3 1259.1 530.3 1258.5 534.3 1257.9 538.2 1257.3 542.2 1256.8 546.2 1256.3 550.1 1255.8 554.1 1255.3 558.1 1254.8 562.0 1254.3 566.0 1253.9 570.0 1253.5 574.0 1253.1 578.0 1252.7 581.9 1252.3 585.9 1251.9 589.9 1251.6 593.9 1251.3 597.9 1251.0 601.9 1250.7 605.9 1250.4 609.9 1250.1 613.9 1249.8 617.8 1249.5 621.8 1249.2 625.8 1248.9 629.8 1248.6 633.8 1248.3 637.8 1248.0 641.8 1247.7 645.8 1247.4 649.8 1247.1 653.8 1246.8 657.7 1246.4 661.7 1246.0 665.7 1245.7 669.7 1245.3 673.7 1244.9 677.7 1244.5 681.6 1244.1 685.6 1243.7 689.6 1243.3 693.6 1242.9 697.6 1242.5 701.5 1242.1 705.5 1241.8 709.5 1241.4 713.5 1241.0 717.5 1240.7 721.5 1240.4 725.5 1240.1 729.5 1239.8 733.4 1239.6 737.4 1239.3 741.4 1239.1 745.4 1238.9 749.4 1238.7 753.4 1238.4 757.4 1238.3 761.4 1238.1 765.4 1237.9 769.4 1237.7 773.4 1237.5 777.4 1237.3 781.4 1237.2 785.4 1237.0 789.4 1236.9 793.4 1236.7 797.4 1236.5 801.4 1236.4 805.4 1236.2 809.4 1236.1 813.4 1235.9 817.4 1235.8 821.4 1235.6 825.4 1235.5 829.4 1235.3 833.4 1235.2 837.4 1235.1 841.4 1234.9 845.4 1234.8 849.4 1234.7 853.4 1234.5 857.4 1234.4 861.4 1234.3 865.4 1234.2 869.4 1234.0 873.4 1233.9 877.4 1233.8 881.4 1233.6 885.4 1233.5 889.4 1233.3 893.4 1233.2 897.4 1233.0 901.4 1232.9 905.4 1232.7 909.4 1232.6 913.3 1232.4 917.3 1232.2 921.3 1232.0 925.3 1231.8 929.3 1231.7 933.3 1231.5 937.3 1231.3 941.3 1231.1 945.3 1230.9 949.3 1230.7 953.3 1230.5 957.3 1230.3 961.3 1230.2 965.3 1230.0 969.3 1229.8 973.3 1229.6 977.3 1229.4" stroke="#00ffff" stroke-dasharray="22.5,9.73"/>
<path d="M164.0 1930.8 164.1 1929.8 164.5 1925.8 164.9 1921.8 165.3 1917.9 165.8 1913.9 166.2 1909.9 166.8 1906.0 167.3 1902.0 168.0 1898.1 168.7 1894.1 169.4 1890.2 170.2 1886.2 170.9 1882.3 171.7 1878.4 172.6 1874.5 173.5 1870.6 174.5 1866.7 175.4 1862.8 176.3 1858.9 177.2 1855.0 178.0 1851.1 178.9 1847.2 179.7 1843.3 180.5 1839.4 181.2 1835.4 181.8 1831.5 182.5 1827.5 183.1 1823.6 183.7 1819.6 184.3 1815.7 184.9 1811.7 185.5 1807.8 186.1 1803.8 186.6 1799.9 187.2 1795.9 187.8 1791.9 188.3 1788.0 188.9 1784.0 189.4 1780.0 190.0 1776.1 190.6 1772.1 191.2 1768.2 191.8 1764.2 192.3 1760.3 192.9 1756.3 193.5 1752.3 194.1 1748.4 194.8 1744.4 195.4 1740.5 196.0 1736.5 196.7 1732.6 197.3 1728.6 198.0 1724.7 198.7 1720.7 199.3 1716.8 200.0 1712.9 200.7 1708.9 201.3 1705.0 202.0 1701.0 202.7 1697.1 203.4 1693.1 204.1 1689.2 204.8 1685.3 205.6 1681.3 206.3 1677.4 207.1 1673.5 207.9 1669.6 208.8 1665.7 209.7 1661.8 210.6 1657.9 211.5 1654.0 212.5 1650.1 213.6 1646.3 214.7 1642.4 215.9 1638.6 217.2 1634.8 218.4 1631.0 219.8 1627.2 221.1 1623.5 222.5 1619.7 224.0 1616.0 225.4 1612.3 226.8 1608.5 228.2 1604.8 229.6 1601.0 230.9 1597.3 232.3 1593.5 233.7 1589.7 235.0 1586.0 236.4 1582.2 237.8 1578.5 239.3 1574.8 240.8 1571.1 242.4 1567.4 244.2 1563.8 246.0 1560.2 247.9 1556.7 249.9 1553.3 251.9 1549.8 254.0 1546.4 256.1 1543.0 258.2 1539.6 260.2 1536.1 262.1 1532.6 263.9 1529.0 265.6 1525.4 267.2 1521.7 268.7 1518.1 270.3 1514.4 271.8 1510.7 273.4 1507.0 275.0 1503.3 276.7 1499.7 278.5 1496.1 280.4 1492.6 282.5 1489.2 284.6 1485.9 286.9 1482.6 289.3 1479.4 291.7 1476.2 294.3 1473.1 296.9 1470.2 299.7 1467.3 302.6 1464.5 305.5 1461.8 308.5 1459.1 311.6 1456.6 314.7 1454.0 317.7 1451.4 320.7 1448.8 323.7 1446.1 326.6 1443.4 329.5 1440.6 332.4 1437.8 335.3 1435.1 338.3 1432.4 341.3 1429.8 344.4 1427.3 347.6 1424.9 350.8 1422.5 354.1 1420.3 357.5 1418.1 360.8 1415.9 364.2 1413.8 367.6 1411.7 371.0 1409.5 374.4 1407.4 377.8 1405.3 381.2 1403.2 384.6 1401.2 388.1 1399.2 391.6 1397.3 395.2 1395.5 398.8 1393.7 402.4 1392.0 406.0 1390.3 409.6 1388.5 413.2 1386.7 416.7 1384.8 420.2 1382.9 423.7 1380.9 427.1 1378.9 430.6 1376.9 434.1 1375.0 437.6 1373.1 441.2 1371.3 444.8 1369.6 448.5 1368.0 452.2 1366.4 455.8 1364.9 459.6 1363.4 463.3 1361.9 467.0 1360.5 470.8 1359.1 474.5 1357.8 478.3 1356.4 482.1 1355.2 485.9 1354.0 489.7 1352.8 493.6 1351.6 497.4 1350.5 501.3 1349.4 505.1 1348.3 509.0 1347.3 512.8 1346.2 516.7 1345.2 520.6 1344.2 524.5 1343.3 528.4 1342.3 532.2 1341.4 536.1 1340.5 540.0 1339.5 543.9 1338.6 547.8 1337.7 551.7 1336.9 555.6 1336.0 559.5 1335.1 563.4 1334.2 567.3 1333.3 571.2 1332.5 575.1 1331.6 579.1 1330.7 583.0 1329.8 586.9 1329.0 590.8 1328.1 594.7 1327.3 598.6 1326.4 602.5 1325.6 606.4 1324.7 610.3 1323.9 614.2 1323.1 618.2 1322.3 622.1 1321.5 626.0 1320.7 629.9 1320.0 633.9 1319.2 637.8 1318.5 641.7 1317.8 645.7 1317.1 649.6 1316.4 653.6 1315.8 657.5 1315.1 661.5 1314.5 665.4 1313.9 669.4 1313.3 673.3 1312.7 677.3 1312.1 681.2 1311.5 685.2 1310.9 689.2 1310.3 693.1 1309.8 697.1 1309.3 701.1 1308.7 705.0 1308.2 709.0 1307.7 713.0 1307.2 716.9 1306.8 720.9 1306.3 724.9 1305.9 728.9 1305.4 732.8 1305.0 736.8 1304.6 740.8 1304.2 744.8 1303.9 748.8 1303.5 752.8 1303.2 756.7 1302.8 760.7 1302.5 764.7 1302.2 768.7 1301.9 772.7 1301.6 776.7 1301.3 780.7 1301.0 784.7 1300.7 788.7 1300.4 792.6 1300.1 796.6 1299.8 800.6 1299.5 804.6 1299.2 808.6 1299.0 812.6 1298.7 816.6 1298.4 820.6 1298.1 824.6 1297.8 828.6 1297.5 832.5 1297.2 836.5 1296.9 840.5 1296.7 844.5 1296.4 848.5 1296.1 852.5 1295.8 856.5 1295.6 860.5 1295.3 864.5 1295.0 868.5 1294.8 872.5 1294.5 876.5 1294.2 880.4 1294.0 884.4 1293.7 888.4 1293.5 892.4 1293.2 896.4 1293.0 900.4 1292.7 904.4 1292.5 908.4 1292.2 912.4 1292.0 916.4 1291.8 920.4 1291.5 924.4 1291.3 928.4 1291.1 932.4 1290.9 936.4 1290.6 940.4 1290.4 944.3 1290.2 948.3 1290.0 952.3 1289.8 956.3 1289.5 960.3 1289.3 964.3 1289.1 968.3 1288.9 972.3 1288.7 976.3 1288.4 977.3 1288.4" stroke="#880015" stroke-dasharray="6.08,10.03"/>
</g>
<rect x="164" y="1118.4" width="813.3" height="812.4" fill="none" stroke="#000" stroke-width="2.43" stroke-linejoin="miter"/>
<path d="M164 1930.8v10.64M245.33 1930.8v10.64M326.66 1930.8v10.64M407.99 1930.8v10.64M489.32 1930.8v10.64M570.65 1930.8v10.64M651.98 1930.8v10.64M733.31 1930.8v10.64M814.64 1930.8v10.64M895.97 1930.8v10.64M977.3 1930.8v10.64M164 1930.8h-10.64M164 1838.67h-10.64M164 1746.54h-10.64M164 1654.41h-10.64M164 1562.28h-10.64M164 1470.15h-10.64M164 1378.02h-10.64M164 1285.89h-10.64M164 1193.76h-10.64" stroke="#000" stroke-width="2.43" fill="none"/>
<g class="n" font-size="32" fill="#111">
<text x="163.7" y="1973.5" text-anchor="middle">0</text>
<text x="245.03" y="1973.5" text-anchor="middle">5</text>
<text x="326.36" y="1973.5" text-anchor="middle">10</text>
<text x="407.69" y="1973.5" text-anchor="middle">15</text>
<text x="489.02" y="1973.5" text-anchor="middle">20</text>
<text x="570.35" y="1973.5" text-anchor="middle">25</text>
<text x="651.68" y="1973.5" text-anchor="middle">30</text>
<text x="733.01" y="1973.5" text-anchor="middle">35</text>
<text x="814.34" y="1973.5" text-anchor="middle">40</text>
<text x="895.67" y="1973.5" text-anchor="middle">45</text>
<text x="977" y="1973.5" text-anchor="middle">50</text>
<text x="143.7" y="1940.9" text-anchor="end">0.0437</text>
<text x="143.7" y="1848.77" text-anchor="end">0.1437</text>
<text x="143.7" y="1756.64" text-anchor="end">0.2437</text>
<text x="143.7" y="1664.51" text-anchor="end">0.3437</text>
<text x="143.7" y="1572.38" text-anchor="end">0.4437</text>
<text x="143.7" y="1480.25" text-anchor="end">0.5437</text>
<text x="143.7" y="1388.12" text-anchor="end">0.6437</text>
<text x="143.7" y="1295.99" text-anchor="end">0.7437</text>
<text x="143.7" y="1203.86" text-anchor="end">0.8437</text>
</g>
<text class="tb" x="568.95" y="1097.5" font-size="36.5" text-anchor="middle" textLength="723.55" lengthAdjust="spacing">Precision plots of OPE - Partial Occlusion</text>
<text class="t" x="568.25" y="2013" font-size="30.4" text-anchor="middle" textLength="324.47" lengthAdjust="spacing">Location error threshold</text>
<text class="t" x="0" y="0" font-size="30.4" text-anchor="middle" textLength="128.84" lengthAdjust="spacing" transform="translate(39.8 1524.7) rotate(-90)">Precision</text>
<rect x="619.57" y="1589.8" width="342.53" height="325.1" rx="6.08" ry="6.08" fill="#ffffff" fill-opacity="0.8" stroke="#d4d4d4" stroke-width="2.1"/>
<path d="M629.77 1611.6H690.57" stroke="#ff0000" stroke-width="6.08" fill="none" stroke-linecap="square"/>
<text class="t" x="714.87" y="1621.6" font-size="30.4">[0.871] Ours</text>
<path d="M629.77 1645.95H690.57" stroke="#00ff00" stroke-width="6.08" fill="none" stroke-dasharray="22.5,9.73"/>
<text class="t" x="714.87" y="1655.95" font-size="30.4">[0.854] SiamPT</text>
<path d="M629.77 1680.3H690.57" stroke="#ff00ff" stroke-width="6.08" fill="none" stroke-dasharray="6.08,10.03"/>
<text class="t" x="714.87" y="1690.3" font-size="30.4">[0.833] TrDiMP</text>
<path d="M629.77 1714.65H690.57" stroke="#ffff00" stroke-width="6.08" fill="none" stroke-linecap="square"/>
<text class="t" x="714.87" y="1724.65" font-size="30.4">[0.823] TransT</text>
<path d="M629.77 1749H690.57" stroke="#00a2e8" stroke-width="6.08" fill="none" stroke-dasharray="22.5,9.73"/>
<text class="t" x="714.87" y="1759" font-size="30.4">[0.823] TrSiam</text>
<path d="M629.77 1783.35H690.57" stroke="#808080" stroke-width="6.08" fill="none" stroke-dasharray="6.08,10.03"/>
<text class="t" x="714.87" y="1793.35" font-size="30.4">[0.814] ATOM</text>
<path d="M629.77 1817.7H690.57" stroke="#0000ff" stroke-width="6.08" fill="none" stroke-linecap="square"/>
<text class="t" x="714.87" y="1827.7" font-size="30.4">[0.765] SiamBAN</text>
<path d="M629.77 1852.05H690.57" stroke="#00ffff" stroke-width="6.08" fill="none" stroke-dasharray="22.5,9.73"/>
<text class="t" x="714.87" y="1862.05" font-size="30.4">[0.763] SiamAttn</text>
<path d="M629.77 1886.4H690.57" stroke="#880015" stroke-width="6.08" fill="none" stroke-dasharray="6.08,10.03"/>
<text class="t" x="714.87" y="1896.4" font-size="30.4">[0.669] ECO</text>
</g>
<g>
<path d="M1395.7 1118.4V1930.8M1477.03 1118.4V1930.8M1558.36 1118.4V1930.8M1639.69 1118.4V1930.8M1721.02 1118.4V1930.8M1802.35 1118.4V1930.8M1883.68 1118.4V1930.8M1965.01 1118.4V1930.8M2046.34 1118.4V1930.8M2127.67 1118.4V1930.8M2209 1118.4V1930.8M1395.7 1930.8H2209M1395.7 1838.04H2209M1395.7 1745.28H2209M1395.7 1652.52H2209M1395.7 1559.76H2209M1395.7 1467H2209M1395.7 1374.23H2209M1395.7 1281.47H2209M1395.7 1188.71H2209" stroke="#b0b0b0" stroke-width="2.2" fill="none"/>
<clipPath id="c3"><rect x="1395.7" y="1118.4" width="813.3" height="812.4"/></clipPath>
<g clip-path="url(#c3)" fill="none" stroke-width="6.08" stroke-linejoin="round">
<path d="M1395.7 1144.8 1436.4 1145.9 1477.0 1148.5 1517.7 1151.3 1558.4 1153.8 1599.0 1155.6 1639.7 1158.5 1680.4 1162.1 1721.0 1167.1 1761.7 1176.5 1802.3 1188.0 1843.0 1205.2 1883.7 1235.1 1924.3 1271.3 1965.0 1320.4 2005.7 1390.0 2046.3 1477.2 2087.0 1599.6 2127.7 1748.1 2168.3 1888.1 2209.0 1930.8" stroke="#ff0000" stroke-linecap="square"/>
<path d="M1395.7 1161.1 1436.4 1162.8 1477.0 1163.9 1517.7 1165.7 1558.4 1167.1 1599.0 1168.2 1639.7 1170.0 1680.4 1173.6 1721.0 1179.0 1761.7 1186.2 1802.3 1197.0 1843.0 1213.2 1883.7 1241.6 1924.3 1276.8 1965.0 1334.3 2005.7 1406.7 2046.3 1496.7 2087.0 1624.7 2127.7 1762.0 2168.3 1893.7 2209.0 1930.8" stroke="#00ff00" stroke-dasharray="22.5,9.73"/>
<path d="M1395.7 1195.9 1436.4 1197.0 1477.0 1198.1 1517.7 1198.8 1558.4 1199.8 1599.0 1202.3 1639.7 1204.2 1680.4 1206.7 1721.0 1213.2 1761.7 1222.1 1802.3 1234.0 1843.0 1249.0 1883.7 1265.7 1924.3 1290.7 1965.0 1345.5 2005.7 1412.3 2046.3 1499.5 2087.0 1627.5 2127.7 1764.8 2168.3 1896.5 2209.0 1930.8" stroke="#ff00ff" stroke-dasharray="6.08,10.03"/>
<path d="M1395.7 1171.8 1436.4 1173.6 1477.0 1175.4 1517.7 1177.2 1558.4 1180.1 1599.0 1183.7 1639.7 1188.0 1680.4 1195.2 1721.0 1203.1 1761.7 1213.2 1802.3 1225.8 1843.0 1243.7 1883.7 1266.6 1924.3 1301.0 1965.0 1367.7 2005.7 1454.0 2046.3 1552.3 2087.0 1663.6 2127.7 1798.2 2168.3 1907.6 2209.0 1930.8" stroke="#ffff00" stroke-linecap="square"/>
<path d="M1395.7 1182.6 1436.4 1184.4 1477.0 1186.2 1517.7 1188.0 1558.4 1190.8 1599.0 1193.4 1639.7 1198.8 1680.4 1206.0 1721.0 1213.9 1761.7 1222.1 1802.3 1234.7 1843.0 1250.9 1883.7 1271.3 1924.3 1306.5 1965.0 1370.5 2005.7 1456.8 2046.3 1555.1 2087.0 1670.1 2127.7 1798.2 2168.3 1907.6 2209.0 1930.8" stroke="#00a2e8" stroke-dasharray="22.5,9.73"/>
<path d="M1395.7 1164.6 1436.4 1170.0 1477.0 1175.4 1517.7 1180.8 1558.4 1188.0 1599.0 1195.2 1639.7 1207.7 1680.4 1224.0 1721.0 1238.3 1761.7 1254.5 1802.3 1270.7 1843.0 1288.7 1883.7 1320.4 1924.3 1362.2 1965.0 1417.8 2005.7 1485.5 2046.3 1580.2 2087.0 1692.4 2127.7 1826.0 2168.3 1910.4 2209.0 1930.8" stroke="#808080" stroke-dasharray="6.08,10.03"/>
<path d="M1395.7 1225.7 1436.4 1229.3 1477.0 1233.0 1517.7 1235.5 1558.4 1238.3 1599.0 1243.7 1639.7 1249.8 1680.4 1258.1 1721.0 1267.1 1761.7 1276.1 1802.3 1286.9 1843.0 1303.1 1883.7 1332.5 1924.3 1373.3 1965.0 1423.4 2005.7 1482.8 2046.3 1569.0 2087.0 1692.4 2127.7 1817.6 2168.3 1910.4 2209.0 1930.8" stroke="#0000ff" stroke-linecap="square"/>
<path d="M1395.7 1230.5 1436.4 1234.0 1477.0 1236.6 1517.7 1239.1 1558.4 1243.7 1599.0 1248.4 1639.7 1254.5 1680.4 1259.9 1721.0 1268.9 1761.7 1281.5 1802.3 1295.9 1843.0 1317.5 1883.7 1348.3 1924.3 1390.0 1965.0 1440.1 2005.7 1507.8 2046.3 1588.5 2087.0 1709.1 2127.7 1837.1 2168.3 1913.2 2209.0 1930.8" stroke="#00ffff" stroke-dasharray="22.5,9.73"/>
<path d="M1395.7 1257.0 1436.4 1259.2 1477.0 1263.5 1517.7 1270.7 1558.4 1281.5 1599.0 1294.1 1639.7 1313.8 1680.4 1339.0 1721.0 1364.1 1761.7 1389.4 1802.3 1418.1 1843.0 1454.0 1883.7 1502.2 1924.3 1556.0 1965.0 1613.6 2005.7 1691.5 2046.3 1766.6 2087.0 1830.6 2127.7 1891.8 2168.3 1919.7 2209.0 1930.8" stroke="#880015" stroke-dasharray="6.08,10.03"/>
</g>
<rect x="1395.7" y="1118.4" width="813.3" height="812.4" fill="none" stroke="#000" stroke-width="2.43" stroke-linejoin="miter"/>
<path d="M1395.7 1930.8v10.64M1477.03 1930.8v10.64M1558.36 1930.8v10.64M1639.69 1930.8v10.64M1721.02 1930.8v10.64M1802.35 1930.8v10.64M1883.68 1930.8v10.64M1965.01 1930.8v10.64M2046.34 1930.8v10.64M2127.67 1930.8v10.64M2209 1930.8v10.64M1395.7 1930.8h-10.64M1395.7 1838.04h-10.64M1395.7 1745.28h-10.64M1395.7 1652.52h-10.64M1395.7 1559.76h-10.64M1395.7 1467h-10.64M1395.7 1374.23h-10.64M1395.7 1281.47h-10.64M1395.7 1188.71h-10.64" stroke="#000" stroke-width="2.43" fill="none"/>
<g class="n" font-size="32" fill="#111">
<text x="1393.7" y="1973.5" text-anchor="middle">0.0</text>
<text x="1475.03" y="1973.5" text-anchor="middle">0.1</text>
<text x="1556.36" y="1973.5" text-anchor="middle">0.2</text>
<text x="1637.69" y="1973.5" text-anchor="middle">0.3</text>
<text x="1719.02" y="1973.5" text-anchor="middle">0.4</text>
<text x="1800.35" y="1973.5" text-anchor="middle">0.5</text>
<text x="1881.68" y="1973.5" text-anchor="middle">0.6</text>
<text x="1963.01" y="1973.5" text-anchor="middle">0.7</text>
<text x="2044.34" y="1973.5" text-anchor="middle">0.8</text>
<text x="2125.67" y="1973.5" text-anchor="middle">0.9</text>
<text x="2207" y="1973.5" text-anchor="middle">1.0</text>
<text x="1375.4" y="1940.9" text-anchor="end">0.0</text>
<text x="1375.4" y="1848.14" text-anchor="end">0.1</text>
<text x="1375.4" y="1755.38" text-anchor="end">0.2</text>
<text x="1375.4" y="1662.62" text-anchor="end">0.3</text>
<text x="1375.4" y="1569.86" text-anchor="end">0.4</text>
<text x="1375.4" y="1477.1" text-anchor="end">0.5</text>
<text x="1375.4" y="1384.33" text-anchor="end">0.6</text>
<text x="1375.4" y="1291.57" text-anchor="end">0.7</text>
<text x="1375.4" y="1198.81" text-anchor="end">0.8</text>
</g>
<text class="tb" x="1799.95" y="1097.5" font-size="36.5" text-anchor="middle" textLength="706.75" lengthAdjust="spacing">Success plots of OPE - Partial Occlusion</text>
<text class="t" x="1800.2" y="2013" font-size="30.4" text-anchor="middle" textLength="242.47" lengthAdjust="spacing">Overlap threshold</text>
<text class="t" x="0" y="0" font-size="30.4" text-anchor="middle" textLength="176.03" lengthAdjust="spacing" transform="translate(1317.2 1522.35) rotate(-90)">Success rate</text>
<rect x="1410.9" y="1589.8" width="342.53" height="325.1" rx="6.08" ry="6.08" fill="#ffffff" fill-opacity="0.8" stroke="#d4d4d4" stroke-width="2.1"/>
<path d="M1423.4 1611.6H1484.2" stroke="#ff0000" stroke-width="6.08" fill="none" stroke-linecap="square"/>
<text class="t" x="1508.4" y="1621.6" font-size="30.4">[0.650] Ours</text>
<path d="M1423.4 1645.95H1484.2" stroke="#00ff00" stroke-width="6.08" fill="none" stroke-dasharray="22.5,9.73"/>
<text class="t" x="1508.4" y="1655.95" font-size="30.4">[0.636] SiamPT</text>
<path d="M1423.4 1680.3H1484.2" stroke="#ff00ff" stroke-width="6.08" fill="none" stroke-dasharray="6.08,10.03"/>
<text class="t" x="1508.4" y="1690.3" font-size="30.4">[0.614] TransT</text>
<path d="M1423.4 1714.65H1484.2" stroke="#ffff00" stroke-width="6.08" fill="none" stroke-linecap="square"/>
<text class="t" x="1508.4" y="1724.65" font-size="30.4">[0.611] TrDiMP</text>
<path d="M1423.4 1749H1484.2" stroke="#00a2e8" stroke-width="6.08" fill="none" stroke-dasharray="22.5,9.73"/>
<text class="t" x="1508.4" y="1759" font-size="30.4">[0.604] TrSiam</text>
<path d="M1423.4 1783.35H1484.2" stroke="#808080" stroke-width="6.08" fill="none" stroke-dasharray="6.08,10.03"/>
<text class="t" x="1508.4" y="1793.35" font-size="30.4">[0.584] ATOM</text>
<path d="M1423.4 1817.7H1484.2" stroke="#0000ff" stroke-width="6.08" fill="none" stroke-linecap="square"/>
<text class="t" x="1508.4" y="1827.7" font-size="30.4">[0.562] SiamAttn</text>
<path d="M1423.4 1852.05H1484.2" stroke="#00ffff" stroke-width="6.08" fill="none" stroke-dasharray="22.5,9.73"/>
<text class="t" x="1508.4" y="1862.05" font-size="30.4">[0.550] SiamBAN</text>
<path d="M1423.4 1886.4H1484.2" stroke="#880015" stroke-width="6.08" fill="none" stroke-dasharray="6.08,10.03"/>
<text class="t" x="1508.4" y="1896.4" font-size="30.4">[0.456] ECO</text>
</g>
<g>
<path d="M164 2175.4V2987.8M245.33 2175.4V2987.8M326.66 2175.4V2987.8M407.99 2175.4V2987.8M489.32 2175.4V2987.8M570.65 2175.4V2987.8M651.98 2175.4V2987.8M733.31 2175.4V2987.8M814.64 2175.4V2987.8M895.97 2175.4V2987.8M977.3 2175.4V2987.8M164 2987.8H977.3M164 2889.76H977.3M164 2791.71H977.3M164 2693.67H977.3M164 2595.62H977.3M164 2497.58H977.3M164 2399.53H977.3M164 2301.49H977.3M164 2203.44H977.3" stroke="#b0b0b0" stroke-width="2.2" fill="none"/>
<clipPath id="c4"><rect x="164" y="2175.4" width="813.3" height="812.4"/></clipPath>
<g clip-path="url(#c4)" fill="none" stroke-width="6.08" stroke-linejoin="round">
<path d="M164.0 2987.8 164.2 2986.8 165.0 2982.9 165.6 2979.0 166.1 2975.0 166.5 2971.1 167.0 2967.1 167.4 2963.1 167.8 2959.1 168.2 2955.1 168.6 2951.2 169.0 2947.2 169.3 2943.2 169.6 2939.2 169.9 2935.2 170.2 2931.2 170.4 2927.2 170.7 2923.2 171.0 2919.2 171.3 2915.2 171.6 2911.3 171.8 2907.3 172.1 2903.3 172.4 2899.3 172.7 2895.3 172.9 2891.3 173.2 2887.3 173.4 2883.3 173.7 2879.3 173.9 2875.3 174.2 2871.3 174.4 2867.3 174.7 2863.3 174.9 2859.3 175.2 2855.4 175.4 2851.4 175.7 2847.4 175.9 2843.4 176.1 2839.4 176.4 2835.4 176.6 2831.4 176.9 2827.4 177.1 2823.4 177.3 2819.4 177.6 2815.4 177.8 2811.4 178.1 2807.4 178.3 2803.4 178.5 2799.4 178.8 2795.4 179.0 2791.5 179.3 2787.5 179.6 2783.5 179.9 2779.5 180.2 2775.5 180.5 2771.5 180.7 2767.5 181.0 2763.5 181.3 2759.5 181.6 2755.5 181.9 2751.5 182.2 2747.6 182.5 2743.6 182.8 2739.6 183.1 2735.6 183.4 2731.6 183.7 2727.6 184.0 2723.6 184.3 2719.6 184.6 2715.6 184.9 2711.6 185.2 2707.7 185.5 2703.7 185.8 2699.7 186.1 2695.7 186.3 2691.7 186.6 2687.7 186.9 2683.7 187.2 2679.7 187.5 2675.7 187.8 2671.7 188.1 2667.7 188.4 2663.8 188.7 2659.8 188.9 2655.8 189.2 2651.8 189.5 2647.8 189.8 2643.8 190.1 2639.8 190.4 2635.8 190.7 2631.8 191.0 2627.8 191.3 2623.9 191.6 2619.9 191.9 2615.9 192.2 2611.9 192.5 2607.9 192.8 2603.9 193.1 2599.9 193.4 2595.9 193.7 2591.9 194.0 2587.9 194.3 2584.0 194.6 2580.0 195.0 2576.0 195.3 2572.0 195.6 2568.0 195.9 2564.0 196.2 2560.0 196.5 2556.0 196.8 2552.0 197.1 2548.0 197.4 2544.1 197.8 2540.1 198.1 2536.1 198.5 2532.1 198.9 2528.1 199.3 2524.1 199.7 2520.2 200.1 2516.2 200.4 2512.2 200.8 2508.2 201.2 2504.2 201.7 2500.3 202.2 2496.3 202.8 2492.3 203.4 2488.4 204.1 2484.4 204.8 2480.5 205.4 2476.6 206.2 2472.6 206.9 2468.7 207.7 2464.8 208.5 2460.8 209.3 2456.9 210.1 2453.0 210.9 2449.1 211.7 2445.2 212.4 2441.2 213.1 2437.3 213.8 2433.3 214.4 2429.4 215.1 2425.5 215.8 2421.5 216.5 2417.6 217.2 2413.6 217.9 2409.7 218.6 2405.8 219.3 2401.8 220.0 2397.9 220.8 2394.0 221.6 2390.0 222.5 2386.1 223.4 2382.2 224.3 2378.4 225.4 2374.5 226.6 2370.7 227.8 2366.9 229.1 2363.1 230.6 2359.4 232.1 2355.7 233.6 2352.0 235.3 2348.3 237.0 2344.7 238.7 2341.1 240.6 2337.6 242.4 2334.0 244.3 2330.5 246.2 2327.0 248.1 2323.4 250.0 2320.0 252.0 2316.5 254.1 2313.1 256.2 2309.7 258.3 2306.3 260.5 2302.9 262.7 2299.6 265.0 2296.3 267.3 2293.0 269.6 2289.8 272.1 2286.6 274.6 2283.5 277.3 2280.6 280.1 2277.7 283.0 2275.0 286.1 2272.4 289.2 2269.9 292.4 2267.5 295.6 2265.2 299.0 2263.0 302.3 2260.9 305.8 2258.9 309.4 2257.1 313.1 2255.5 316.8 2254.0 320.5 2252.7 324.3 2251.4 328.1 2250.1 331.9 2248.8 335.7 2247.5 339.5 2246.2 343.3 2245.0 347.1 2243.9 351.0 2242.8 354.9 2241.9 358.8 2241.0 362.7 2240.3 366.6 2239.6 370.6 2239.0 374.6 2238.4 378.5 2237.9 382.5 2237.4 386.5 2236.9 390.4 2236.4 394.4 2235.9 398.4 2235.5 402.4 2235.0 406.3 2234.5 410.3 2234.0 414.3 2233.5 418.2 2233.0 422.2 2232.5 426.2 2232.0 430.1 2231.5 434.1 2231.0 438.1 2230.5 442.1 2230.0 446.0 2229.6 450.0 2229.1 454.0 2228.6 458.0 2228.2 461.9 2227.8 465.9 2227.4 469.9 2227.0 473.9 2226.6 477.9 2226.3 481.9 2226.0 485.8 2225.7 489.8 2225.5 493.8 2225.3 497.8 2225.1 501.8 2224.9 505.8 2224.7 509.8 2224.6 513.8 2224.5 517.8 2224.3 521.8 2224.2 525.8 2224.1 529.8 2223.9 533.8 2223.8 537.8 2223.7 541.8 2223.6 545.8 2223.5 549.8 2223.3 553.8 2223.2 557.8 2223.1 561.8 2222.9 565.8 2222.8 569.8 2222.6 573.8 2222.4 577.8 2222.2 581.8 2222.0 585.8 2221.8 589.8 2221.6 593.8 2221.4 597.8 2221.2 601.8 2220.9 605.8 2220.7 609.8 2220.5 613.8 2220.2 617.8 2220.0 621.7 2219.7 625.7 2219.4 629.7 2219.2 633.7 2218.9 637.7 2218.6 641.7 2218.4 645.7 2218.1 649.7 2217.8 653.7 2217.5 657.7 2217.2 661.7 2216.9 665.7 2216.6 669.6 2216.3 673.6 2215.9 677.6 2215.6 681.6 2215.2 685.6 2214.9 689.6 2214.5 693.6 2214.1 697.5 2213.8 701.5 2213.4 705.5 2213.1 709.5 2212.7 713.5 2212.4 717.5 2212.0 721.5 2211.7 725.4 2211.4 729.4 2211.1 733.4 2210.8 737.4 2210.5 741.4 2210.2 745.4 2209.9 749.4 2209.7 753.4 2209.4 757.4 2209.1 761.4 2208.8 765.4 2208.6 769.3 2208.3 773.3 2208.0 777.3 2207.8 781.3 2207.5 785.3 2207.3 789.3 2207.1 793.3 2206.8 797.3 2206.6 801.3 2206.4 805.3 2206.3 809.3 2206.1 813.3 2206.0 817.3 2205.8 821.3 2205.7 825.3 2205.6 829.3 2205.4 833.3 2205.3 837.3 2205.2 841.3 2205.1 845.3 2205.0 849.3 2204.9 853.3 2204.8 857.3 2204.8 861.3 2204.7 865.3 2204.6 869.3 2204.5 873.3 2204.4 877.3 2204.3 881.3 2204.2 885.3 2204.2 889.3 2204.1 893.3 2204.0 897.3 2203.9 901.3 2203.8 905.3 2203.7 909.3 2203.6 913.3 2203.5 917.3 2203.5 921.3 2203.4 925.3 2203.3 929.3 2203.2 933.3 2203.1 937.3 2203.0 941.3 2202.9 945.3 2202.9 949.3 2202.8 953.3 2202.7 957.3 2202.6 961.3 2202.5 965.3 2202.4 969.3 2202.3 973.3 2202.3 977.3 2202.2" stroke="#ff0000" stroke-linecap="square"/>
<path d="M164.0 2987.8 164.1 2986.8 164.6 2982.8 165.1 2978.9 165.6 2974.9 166.1 2970.9 166.6 2966.9 167.0 2963.0 167.5 2959.0 168.0 2955.0 168.5 2951.1 169.0 2947.1 169.4 2943.1 169.9 2939.1 170.3 2935.1 170.8 2931.2 171.2 2927.2 171.6 2923.2 172.1 2919.2 172.5 2915.3 172.9 2911.3 173.4 2907.3 173.8 2903.3 174.2 2899.3 174.6 2895.3 174.9 2891.4 175.2 2887.4 175.5 2883.4 175.8 2879.4 176.1 2875.4 176.5 2871.4 176.8 2867.4 177.1 2863.4 177.4 2859.4 177.7 2855.4 178.0 2851.5 178.3 2847.5 178.6 2843.5 178.9 2839.5 179.1 2835.5 179.4 2831.5 179.7 2827.5 180.0 2823.5 180.3 2819.5 180.6 2815.5 180.9 2811.5 181.2 2807.5 181.5 2803.6 181.8 2799.6 182.2 2795.6 182.5 2791.6 182.9 2787.6 183.3 2783.6 183.7 2779.6 184.0 2775.7 184.4 2771.7 184.8 2767.7 185.2 2763.7 185.6 2759.7 185.9 2755.7 186.3 2751.7 186.7 2747.8 187.1 2743.8 187.5 2739.8 187.9 2735.8 188.3 2731.8 188.7 2727.8 189.1 2723.9 189.5 2719.9 189.9 2715.9 190.3 2711.9 190.7 2707.9 191.1 2704.0 191.5 2700.0 191.9 2696.0 192.3 2692.0 192.6 2688.0 193.0 2684.0 193.3 2680.0 193.7 2676.1 194.1 2672.1 194.4 2668.1 194.8 2664.1 195.1 2660.1 195.5 2656.1 195.8 2652.1 196.2 2648.2 196.6 2644.2 197.0 2640.2 197.3 2636.2 197.7 2632.2 198.1 2628.2 198.5 2624.3 198.9 2620.3 199.3 2616.3 199.7 2612.3 200.1 2608.3 200.5 2604.3 201.0 2600.4 201.4 2596.4 201.9 2592.4 202.4 2588.4 202.9 2584.5 203.4 2580.5 204.0 2576.5 204.5 2572.6 205.0 2568.6 205.6 2564.6 206.1 2560.7 206.7 2556.7 207.3 2552.8 207.9 2548.8 208.5 2544.8 209.1 2540.9 209.8 2536.9 210.4 2533.0 211.1 2529.0 211.8 2525.1 212.6 2521.2 213.3 2517.2 214.1 2513.3 214.9 2509.4 215.8 2505.5 216.7 2501.6 217.7 2497.7 218.7 2493.8 219.8 2490.0 221.0 2486.2 222.2 2482.4 223.5 2478.6 224.9 2474.8 226.4 2471.1 227.8 2467.4 229.3 2463.7 230.8 2460.0 232.3 2456.3 233.8 2452.5 235.2 2448.8 236.6 2445.1 238.0 2441.3 239.5 2437.6 240.9 2433.8 242.4 2430.1 243.8 2426.4 245.4 2422.7 246.9 2419.0 248.5 2415.3 250.2 2411.7 251.9 2408.1 253.6 2404.4 255.4 2400.9 257.2 2397.3 259.0 2393.7 260.9 2390.2 262.8 2386.7 264.8 2383.2 266.8 2379.7 268.8 2376.3 270.9 2372.9 273.1 2369.5 275.3 2366.2 277.6 2362.9 279.9 2359.7 282.3 2356.5 284.8 2353.3 287.3 2350.2 289.9 2347.1 292.6 2344.2 295.4 2341.3 298.3 2338.6 301.3 2336.0 304.5 2333.5 307.7 2331.2 311.0 2329.0 314.4 2326.9 317.9 2324.9 321.5 2323.1 325.1 2321.4 328.8 2319.8 332.5 2318.4 336.2 2317.0 340.0 2315.7 343.8 2314.4 347.7 2313.2 351.5 2312.1 355.3 2311.0 359.2 2310.0 363.1 2309.0 367.0 2308.0 370.8 2307.0 374.7 2306.1 378.6 2305.2 382.5 2304.3 386.4 2303.4 390.4 2302.6 394.3 2301.9 398.2 2301.1 402.2 2300.4 406.1 2299.8 410.1 2299.1 414.0 2298.5 418.0 2297.9 421.9 2297.4 425.9 2296.8 429.9 2296.3 433.8 2295.8 437.8 2295.3 441.8 2294.8 445.8 2294.3 449.7 2293.8 453.7 2293.4 457.7 2292.9 461.7 2292.5 465.7 2292.1 469.6 2291.7 473.6 2291.3 477.6 2290.9 481.6 2290.5 485.6 2290.2 489.6 2289.8 493.5 2289.4 497.5 2289.1 501.5 2288.7 505.5 2288.4 509.5 2288.1 513.5 2287.7 517.5 2287.4 521.5 2287.1 525.5 2286.8 529.4 2286.5 533.4 2286.2 537.4 2285.9 541.4 2285.6 545.4 2285.3 549.4 2285.1 553.4 2284.8 557.4 2284.6 561.4 2284.4 565.4 2284.2 569.4 2284.0 573.4 2283.8 577.4 2283.7 581.4 2283.5 585.4 2283.3 589.4 2283.2 593.4 2283.0 597.4 2282.9 601.4 2282.8 605.4 2282.6 609.4 2282.5 613.4 2282.4 617.4 2282.3 621.4 2282.2 625.4 2282.1 629.4 2282.0 633.4 2281.8 637.4 2281.7 641.4 2281.6 645.4 2281.5 649.4 2281.5 653.4 2281.4 657.4 2281.3 661.4 2281.2 665.4 2281.1 669.4 2281.0 673.4 2281.0 677.4 2280.9 681.4 2280.8 685.4 2280.8 689.4 2280.7 693.4 2280.6 697.4 2280.6 701.4 2280.5 705.4 2280.4 709.4 2280.4 713.4 2280.3 717.4 2280.2 721.4 2280.1 725.4 2280.0 729.4 2279.9 733.4 2279.8 737.4 2279.7 741.4 2279.5 745.4 2279.4 749.4 2279.2 753.4 2279.0 757.4 2278.8 761.4 2278.6 765.4 2278.3 769.4 2278.1 773.4 2277.8 777.4 2277.6 781.4 2277.3 785.4 2277.1 789.4 2276.9 793.4 2276.6 797.4 2276.4 801.4 2276.2 805.4 2276.0 809.4 2275.8 813.4 2275.6 817.4 2275.4 821.4 2275.2 825.4 2275.1 829.4 2274.9 833.4 2274.8 837.4 2274.6 841.4 2274.5 845.4 2274.4 849.4 2274.2 853.4 2274.1 857.4 2274.0 861.4 2273.8 865.4 2273.7 869.4 2273.6 873.4 2273.4 877.4 2273.3 881.4 2273.1 885.4 2273.0 889.4 2272.8 893.4 2272.7 897.4 2272.5 901.4 2272.3 905.4 2272.1 909.4 2271.9 913.4 2271.7 917.4 2271.5 921.4 2271.3 925.4 2271.1 929.3 2270.9 933.3 2270.7 937.3 2270.4 941.3 2270.2 945.3 2270.0 949.3 2269.7 953.3 2269.5 957.3 2269.3 961.3 2269.0 965.3 2268.8 969.3 2268.6 973.3 2268.4 977.3 2268.2" stroke="#00ff00" stroke-dasharray="22.5,9.73"/>
<path d="M164.0 2987.8 164.1 2986.8 164.6 2982.8 165.0 2978.9 165.5 2974.9 165.9 2970.9 166.4 2966.9 166.8 2963.0 167.3 2959.0 167.7 2955.0 168.2 2951.0 168.6 2947.1 169.0 2943.1 169.5 2939.1 169.9 2935.1 170.3 2931.1 170.7 2927.2 171.0 2923.2 171.4 2919.2 171.8 2915.2 172.2 2911.2 172.6 2907.3 173.0 2903.3 173.4 2899.3 173.8 2895.3 174.1 2891.3 174.3 2887.3 174.6 2883.3 174.9 2879.3 175.1 2875.4 175.4 2871.4 175.7 2867.4 175.9 2863.4 176.2 2859.4 176.5 2855.4 176.7 2851.4 177.0 2847.4 177.3 2843.4 177.5 2839.4 177.8 2835.4 178.1 2831.5 178.3 2827.5 178.6 2823.5 178.9 2819.5 179.1 2815.5 179.4 2811.5 179.6 2807.5 179.9 2803.5 180.2 2799.5 180.5 2795.5 180.9 2791.6 181.3 2787.6 181.7 2783.6 182.1 2779.6 182.5 2775.6 182.9 2771.6 183.3 2767.7 183.7 2763.7 184.1 2759.7 184.5 2755.7 184.9 2751.7 185.3 2747.8 185.7 2743.8 186.1 2739.8 186.5 2735.8 186.9 2731.8 187.3 2727.9 187.7 2723.9 188.2 2719.9 188.6 2715.9 189.0 2712.0 189.4 2708.0 189.8 2704.0 190.2 2700.0 190.6 2696.0 190.9 2692.0 191.2 2688.1 191.5 2684.1 191.8 2680.1 192.2 2676.1 192.5 2672.1 192.8 2668.1 193.1 2664.1 193.4 2660.1 193.7 2656.2 194.0 2652.2 194.3 2648.2 194.7 2644.2 195.0 2640.2 195.3 2636.2 195.7 2632.2 196.0 2628.2 196.4 2624.3 196.7 2620.3 197.0 2616.3 197.4 2612.3 197.7 2608.3 198.1 2604.3 198.4 2600.3 198.8 2596.4 199.3 2592.4 199.7 2588.4 200.2 2584.5 200.7 2580.5 201.2 2576.5 201.7 2572.5 202.2 2568.6 202.8 2564.6 203.3 2560.6 203.8 2556.7 204.4 2552.7 205.0 2548.8 205.6 2544.8 206.2 2540.9 206.9 2536.9 207.5 2533.0 208.1 2529.0 208.7 2525.1 209.4 2521.1 210.1 2517.2 210.8 2513.2 211.5 2509.3 212.2 2505.4 212.9 2501.4 213.5 2497.5 214.2 2493.5 214.9 2489.6 215.6 2485.7 216.3 2481.7 217.0 2477.8 217.7 2473.8 218.4 2469.9 219.2 2466.0 220.0 2462.1 220.9 2458.2 221.8 2454.3 222.7 2450.4 223.7 2446.5 224.8 2442.7 226.1 2438.9 227.6 2435.2 229.4 2431.7 231.4 2428.2 233.4 2424.8 235.6 2421.4 237.8 2418.1 239.9 2414.7 241.9 2411.2 243.8 2407.7 245.7 2404.2 247.5 2400.6 249.4 2397.1 251.2 2393.5 253.1 2390.0 255.1 2386.5 257.2 2383.1 259.3 2379.7 261.5 2376.4 263.8 2373.1 266.2 2369.9 268.7 2366.8 271.2 2363.7 273.9 2360.7 276.6 2357.8 279.6 2355.1 282.6 2352.5 285.8 2350.1 289.0 2347.8 292.3 2345.5 295.7 2343.4 299.2 2341.4 302.7 2339.6 306.3 2337.8 310.0 2336.2 313.7 2334.7 317.4 2333.3 321.2 2332.0 325.0 2330.7 328.8 2329.5 332.6 2328.4 336.5 2327.3 340.3 2326.2 344.2 2325.2 348.1 2324.2 352.0 2323.2 355.8 2322.3 359.7 2321.4 363.6 2320.5 367.5 2319.6 371.4 2318.7 375.4 2317.9 379.3 2317.0 383.2 2316.2 387.1 2315.4 391.0 2314.6 395.0 2313.9 398.9 2313.2 402.9 2312.6 406.8 2312.1 410.8 2311.6 414.8 2311.1 418.7 2310.6 422.7 2310.2 426.7 2309.7 430.7 2309.3 434.6 2308.9 438.6 2308.5 442.6 2308.2 446.6 2307.8 450.6 2307.5 454.6 2307.1 458.5 2306.8 462.5 2306.5 466.5 2306.2 470.5 2306.0 474.5 2305.7 478.5 2305.5 482.5 2305.3 486.5 2305.1 490.5 2304.9 494.5 2304.7 498.5 2304.5 502.5 2304.4 506.5 2304.2 510.5 2304.1 514.5 2304.0 518.5 2303.8 522.5 2303.7 526.5 2303.6 530.5 2303.5 534.5 2303.4 538.5 2303.3 542.5 2303.2 546.5 2303.1 550.5 2303.0 554.5 2302.9 558.5 2302.7 562.5 2302.6 566.5 2302.5 570.5 2302.4 574.5 2302.2 578.4 2302.1 582.4 2302.0 586.4 2301.9 590.4 2301.8 594.4 2301.6 598.4 2301.5 602.4 2301.4 606.4 2301.3 610.4 2301.2 614.4 2301.0 618.4 2300.9 622.4 2300.7 626.4 2300.6 630.4 2300.4 634.4 2300.3 638.4 2300.1 642.4 2299.9 646.4 2299.7 650.4 2299.5 654.4 2299.2 658.4 2298.9 662.4 2298.6 666.4 2298.2 670.3 2297.8 674.3 2297.3 678.3 2296.8 682.2 2296.3 686.2 2295.8 690.2 2295.2 694.1 2294.6 698.1 2294.1 702.0 2293.5 706.0 2292.9 710.0 2292.3 713.9 2291.7 717.9 2291.2 721.8 2290.6 725.8 2290.1 729.8 2289.7 733.7 2289.2 737.7 2288.7 741.7 2288.3 745.7 2287.9 749.6 2287.4 753.6 2287.0 757.6 2286.5 761.6 2286.1 765.6 2285.6 769.5 2285.2 773.5 2284.8 777.5 2284.4 781.5 2284.0 785.5 2283.6 789.4 2283.2 793.4 2282.9 797.4 2282.6 801.4 2282.3 805.4 2282.0 809.4 2281.7 813.4 2281.5 817.4 2281.3 821.4 2281.1 825.4 2280.9 829.4 2280.7 833.3 2280.5 837.3 2280.3 841.3 2280.2 845.3 2280.0 849.3 2279.9 853.3 2279.7 857.3 2279.6 861.3 2279.5 865.3 2279.4 869.3 2279.2 873.3 2279.1 877.3 2279.0 881.3 2278.9 885.3 2278.8 889.3 2278.6 893.3 2278.5 897.3 2278.4 901.3 2278.3 905.3 2278.2 909.3 2278.1 913.3 2278.0 917.3 2277.9 921.3 2277.8 925.3 2277.7 929.3 2277.6 933.3 2277.5 937.3 2277.4 941.3 2277.3 945.3 2277.2 949.3 2277.1 953.3 2277.0 957.3 2276.9 961.3 2276.9 965.3 2276.8 969.3 2276.7 973.3 2276.6 977.3 2276.5" stroke="#ff00ff" stroke-dasharray="6.08,10.03"/>
<path d="M164.0 2987.8 164.1 2986.8 164.7 2982.8 165.2 2978.9 165.7 2974.9 166.2 2970.9 166.7 2967.0 167.3 2963.0 167.8 2959.0 168.3 2955.1 168.8 2951.1 169.3 2947.1 169.8 2943.2 170.3 2939.2 170.8 2935.2 171.2 2931.3 171.7 2927.3 172.2 2923.3 172.6 2919.3 173.1 2915.4 173.6 2911.4 174.1 2907.4 174.5 2903.4 175.0 2899.5 175.4 2895.5 175.8 2891.5 176.1 2887.5 176.5 2883.5 176.8 2879.6 177.1 2875.6 177.5 2871.6 177.8 2867.6 178.2 2863.6 178.5 2859.6 178.8 2855.6 179.2 2851.7 179.5 2847.7 179.8 2843.7 180.2 2839.7 180.5 2835.7 180.8 2831.7 181.1 2827.7 181.4 2823.7 181.8 2819.8 182.1 2815.8 182.4 2811.8 182.7 2807.8 183.1 2803.8 183.4 2799.8 183.8 2795.8 184.1 2791.9 184.5 2787.9 184.9 2783.9 185.3 2779.9 185.7 2775.9 186.0 2771.9 186.4 2768.0 186.8 2764.0 187.2 2760.0 187.6 2756.0 188.0 2752.0 188.4 2748.1 188.8 2744.1 189.2 2740.1 189.6 2736.1 190.0 2732.1 190.4 2728.2 190.8 2724.2 191.2 2720.2 191.7 2716.2 192.1 2712.2 192.5 2708.3 192.9 2704.3 193.3 2700.3 193.7 2696.3 194.2 2692.4 194.6 2688.4 195.0 2684.4 195.4 2680.4 195.8 2676.4 196.3 2672.5 196.7 2668.5 197.1 2664.5 197.5 2660.5 197.9 2656.6 198.4 2652.6 198.8 2648.6 199.2 2644.6 199.7 2640.6 200.1 2636.7 200.6 2632.7 201.1 2628.7 201.5 2624.8 202.0 2620.8 202.5 2616.8 203.0 2612.8 203.4 2608.9 203.9 2604.9 204.4 2600.9 204.9 2597.0 205.4 2593.0 205.9 2589.0 206.4 2585.1 207.0 2581.1 207.5 2577.1 208.1 2573.2 208.6 2569.2 209.2 2565.2 209.7 2561.3 210.3 2557.3 210.9 2553.4 211.5 2549.4 212.1 2545.5 212.7 2541.5 213.3 2537.6 213.9 2533.6 214.6 2529.6 215.2 2525.7 215.9 2521.8 216.6 2517.8 217.4 2513.9 218.1 2510.0 218.9 2506.0 219.7 2502.1 220.5 2498.2 221.3 2494.3 222.2 2490.4 223.2 2486.5 224.2 2482.6 225.2 2478.8 226.3 2474.9 227.4 2471.1 228.6 2467.3 229.9 2463.5 231.2 2459.7 232.8 2456.0 234.4 2452.4 236.3 2448.9 238.3 2445.4 240.4 2442.0 242.5 2438.6 244.6 2435.2 246.6 2431.8 248.5 2428.3 250.4 2424.7 252.2 2421.2 254.1 2417.6 256.0 2414.1 258.0 2410.7 260.1 2407.3 262.3 2403.9 264.7 2400.7 267.1 2397.5 269.6 2394.4 272.2 2391.4 274.9 2388.4 277.7 2385.5 280.5 2382.8 283.5 2380.1 286.6 2377.5 289.7 2375.1 293.0 2372.7 296.3 2370.5 299.7 2368.4 303.1 2366.3 306.5 2364.2 310.0 2362.3 313.5 2360.4 317.0 2358.5 320.6 2356.7 324.3 2355.0 327.9 2353.5 331.7 2352.0 335.4 2350.6 339.2 2349.3 343.0 2348.1 346.8 2346.9 350.6 2345.7 354.5 2344.6 358.3 2343.5 362.2 2342.5 366.1 2341.5 370.0 2340.6 373.9 2339.7 377.8 2338.8 381.7 2338.0 385.6 2337.2 389.5 2336.4 393.4 2335.6 397.4 2334.8 401.3 2334.1 405.2 2333.3 409.1 2332.5 413.1 2331.7 417.0 2331.0 420.9 2330.2 424.8 2329.4 428.7 2328.6 432.7 2327.8 436.6 2327.0 440.5 2326.2 444.4 2325.5 448.4 2324.7 452.3 2323.9 456.2 2323.2 460.2 2322.4 464.1 2321.7 468.0 2321.0 472.0 2320.3 475.9 2319.6 479.8 2318.9 483.8 2318.3 487.7 2317.6 491.7 2317.0 495.6 2316.4 499.6 2315.8 503.6 2315.2 507.5 2314.6 511.5 2314.0 515.4 2313.4 519.4 2312.9 523.3 2312.3 527.3 2311.8 531.3 2311.2 535.2 2310.7 539.2 2310.2 543.2 2309.7 547.1 2309.2 551.1 2308.7 555.1 2308.2 559.1 2307.8 563.0 2307.3 567.0 2306.9 571.0 2306.5 575.0 2306.0 578.9 2305.6 582.9 2305.3 586.9 2304.9 590.9 2304.5 594.9 2304.1 598.9 2303.8 602.8 2303.4 606.8 2303.1 610.8 2302.8 614.8 2302.4 618.8 2302.1 622.8 2301.8 626.8 2301.5 630.8 2301.1 634.7 2300.8 638.7 2300.5 642.7 2300.2 646.7 2299.9 650.7 2299.5 654.7 2299.2 658.7 2298.9 662.6 2298.5 666.6 2298.2 670.6 2297.9 674.6 2297.6 678.6 2297.2 682.6 2296.9 686.6 2296.6 690.6 2296.3 694.5 2295.9 698.5 2295.6 702.5 2295.3 706.5 2295.0 710.5 2294.7 714.5 2294.4 718.5 2294.1 722.5 2293.9 726.5 2293.6 730.5 2293.3 734.4 2293.1 738.4 2292.8 742.4 2292.6 746.4 2292.3 750.4 2292.1 754.4 2291.9 758.4 2291.6 762.4 2291.4 766.4 2291.2 770.4 2291.0 774.4 2290.7 778.4 2290.5 782.4 2290.3 786.4 2290.1 790.4 2289.9 794.4 2289.8 798.4 2289.6 802.3 2289.4 806.3 2289.2 810.3 2289.1 814.3 2289.0 818.3 2288.8 822.3 2288.7 826.3 2288.6 830.3 2288.5 834.3 2288.3 838.3 2288.2 842.3 2288.1 846.3 2288.0 850.3 2287.9 854.3 2287.8 858.3 2287.7 862.3 2287.7 866.3 2287.6 870.3 2287.5 874.3 2287.4 878.3 2287.3 882.3 2287.2 886.3 2287.1 890.3 2287.0 894.3 2286.9 898.3 2286.8 902.3 2286.7 906.3 2286.6 910.3 2286.5 914.3 2286.4 918.3 2286.3 922.3 2286.2 926.3 2286.1 930.3 2286.0 934.3 2285.9 938.3 2285.8 942.3 2285.7 946.3 2285.6 950.3 2285.5 954.3 2285.4 958.3 2285.3 962.3 2285.2 966.3 2285.1 970.3 2285.0 974.3 2284.9 977.3 2284.8" stroke="#ffff00" stroke-linecap="square"/>
<path d="M164.0 2987.8 164.1 2986.8 164.7 2982.8 165.3 2978.9 165.8 2974.9 166.4 2971.0 166.9 2967.0 167.4 2963.0 167.9 2959.1 168.4 2955.1 168.9 2951.1 169.4 2947.1 169.9 2943.2 170.4 2939.2 170.9 2935.2 171.4 2931.2 171.9 2927.3 172.4 2923.3 172.8 2919.3 173.3 2915.4 173.8 2911.4 174.3 2907.4 174.7 2903.4 175.2 2899.5 175.6 2895.5 176.1 2891.5 176.6 2887.5 177.0 2883.6 177.5 2879.6 177.9 2875.6 178.4 2871.6 178.8 2867.6 179.3 2863.7 179.7 2859.7 180.1 2855.7 180.5 2851.7 181.0 2847.7 181.4 2843.8 181.8 2839.8 182.2 2835.8 182.6 2831.8 183.0 2827.8 183.5 2823.9 183.9 2819.9 184.3 2815.9 184.7 2811.9 185.2 2807.9 185.6 2804.0 186.1 2800.0 186.5 2796.0 187.0 2792.0 187.5 2788.1 187.9 2784.1 188.4 2780.1 188.9 2776.1 189.4 2772.2 189.8 2768.2 190.3 2764.2 190.8 2760.3 191.4 2756.3 192.1 2752.4 192.8 2748.4 193.5 2744.5 194.3 2740.6 195.1 2736.6 195.9 2732.7 196.8 2728.8 197.7 2724.9 198.6 2721.0 199.4 2717.1 200.2 2713.2 200.9 2709.2 201.6 2705.3 202.2 2701.3 202.9 2697.4 203.5 2693.4 203.9 2689.5 204.3 2685.5 204.7 2681.5 205.1 2677.5 205.4 2673.5 205.8 2669.5 206.1 2665.6 206.5 2661.6 206.9 2657.6 207.2 2653.6 207.6 2649.6 208.0 2645.6 208.3 2641.6 208.7 2637.7 209.0 2633.7 209.4 2629.7 209.7 2625.7 210.1 2621.7 210.5 2617.7 210.9 2613.7 211.3 2609.8 211.8 2605.8 212.4 2601.8 213.0 2597.9 213.6 2593.9 214.3 2590.0 214.9 2586.0 215.5 2582.1 216.1 2578.1 216.8 2574.2 217.6 2570.2 218.3 2566.3 219.1 2562.4 219.9 2558.5 220.7 2554.6 221.6 2550.6 222.4 2546.7 223.3 2542.8 224.2 2538.9 225.2 2535.0 226.1 2531.1 227.1 2527.3 228.1 2523.4 229.2 2519.5 230.3 2515.7 231.4 2511.9 232.6 2508.0 233.8 2504.2 235.1 2500.4 236.4 2496.7 237.9 2492.9 239.5 2489.3 241.2 2485.7 243.2 2482.2 245.3 2478.8 247.5 2475.5 249.7 2472.1 251.9 2468.8 254.1 2465.5 256.3 2462.1 258.5 2458.7 260.6 2455.4 262.9 2452.1 265.2 2448.8 267.6 2445.6 270.1 2442.5 272.7 2439.5 275.4 2436.5 278.2 2433.6 281.0 2430.8 284.0 2428.1 287.0 2425.5 290.1 2423.1 293.4 2420.7 296.8 2418.5 300.2 2416.5 303.7 2414.6 307.2 2412.7 310.8 2410.9 314.4 2409.2 318.1 2407.5 321.7 2405.9 325.4 2404.4 329.2 2403.0 332.9 2401.7 336.7 2400.4 340.6 2399.2 344.4 2398.1 348.2 2397.0 352.1 2395.9 356.0 2394.9 359.9 2393.9 363.7 2393.0 367.7 2392.1 371.6 2391.3 375.5 2390.5 379.4 2389.7 383.3 2389.0 387.3 2388.3 391.2 2387.6 395.2 2387.0 399.1 2386.3 403.1 2385.7 407.0 2385.1 411.0 2384.5 414.9 2383.9 418.9 2383.3 422.9 2382.7 426.8 2382.1 430.8 2381.5 434.7 2380.9 438.7 2380.3 442.7 2379.8 446.6 2379.2 450.6 2378.7 454.6 2378.2 458.5 2377.7 462.5 2377.2 466.5 2376.7 470.5 2376.3 474.4 2375.9 478.4 2375.5 482.4 2375.1 486.4 2374.8 490.4 2374.5 494.4 2374.2 498.4 2373.9 502.4 2373.6 506.4 2373.4 510.4 2373.2 514.4 2372.9 518.4 2372.7 522.3 2372.5 526.3 2372.3 530.3 2372.1 534.3 2371.9 538.3 2371.7 542.3 2371.5 546.3 2371.4 550.3 2371.2 554.3 2371.0 558.3 2370.8 562.3 2370.7 566.3 2370.5 570.3 2370.3 574.3 2370.2 578.3 2370.0 582.3 2369.8 586.3 2369.7 590.3 2369.5 594.3 2369.4 598.3 2369.2 602.3 2369.1 606.3 2368.9 610.3 2368.8 614.3 2368.6 618.3 2368.5 622.3 2368.4 626.3 2368.2 630.3 2368.1 634.3 2368.0 638.3 2367.8 642.3 2367.7 646.3 2367.6 650.3 2367.4 654.3 2367.3 658.3 2367.2 662.3 2367.0 666.3 2366.9 670.3 2366.8 674.3 2366.7 678.3 2366.6 682.3 2366.4 686.3 2366.3 690.3 2366.2 694.3 2366.1 698.3 2366.0 702.3 2365.9 706.3 2365.7 710.3 2365.6 714.3 2365.5 718.3 2365.4 722.3 2365.3 726.3 2365.1 730.3 2365.0 734.3 2364.9 738.3 2364.8 742.3 2364.6 746.3 2364.5 750.3 2364.3 754.3 2364.2 758.3 2364.1 762.3 2363.9 766.3 2363.8 770.3 2363.6 774.3 2363.5 778.3 2363.3 782.3 2363.2 786.3 2363.0 790.3 2362.9 794.3 2362.7 798.3 2362.6 802.3 2362.4 806.3 2362.3 810.3 2362.1 814.3 2362.0 818.3 2361.8 822.3 2361.7 826.3 2361.6 830.3 2361.4 834.3 2361.3 838.3 2361.1 842.3 2361.0 846.3 2360.9 850.3 2360.7 854.3 2360.6 858.3 2360.4 862.3 2360.3 866.3 2360.1 870.3 2360.0 874.3 2359.8 878.3 2359.7 882.3 2359.6 886.3 2359.4 890.3 2359.3 894.3 2359.1 898.3 2358.9 902.3 2358.8 906.3 2358.6 910.3 2358.5 914.3 2358.3 918.3 2358.2 922.3 2358.0 926.3 2357.8 930.3 2357.7 934.3 2357.5 938.3 2357.3 942.3 2357.2 946.3 2357.0 950.3 2356.8 954.3 2356.7 958.3 2356.5 962.3 2356.3 966.3 2356.2 970.3 2356.0 974.3 2355.8 977.3 2355.7" stroke="#00a2e8" stroke-dasharray="22.5,9.73"/>
<path d="M164.0 2987.8 164.1 2986.8 164.7 2982.8 165.3 2978.9 165.8 2974.9 166.4 2971.0 166.9 2967.0 167.4 2963.0 167.9 2959.1 168.4 2955.1 168.9 2951.1 169.4 2947.2 169.9 2943.2 170.4 2939.2 170.9 2935.2 171.4 2931.3 171.9 2927.3 172.4 2923.3 172.8 2919.4 173.3 2915.4 173.8 2911.4 174.3 2907.5 174.7 2903.5 175.2 2899.5 175.6 2895.5 176.1 2891.6 176.5 2887.6 177.0 2883.6 177.5 2879.6 177.9 2875.7 178.4 2871.7 178.8 2867.7 179.3 2863.7 179.7 2859.8 180.1 2855.8 180.5 2851.8 180.9 2847.8 181.4 2843.8 181.8 2839.9 182.2 2835.9 182.6 2831.9 183.0 2827.9 183.4 2824.0 183.9 2820.0 184.3 2816.0 184.7 2812.0 185.1 2808.0 185.6 2804.1 186.1 2800.1 186.5 2796.1 187.0 2792.2 187.5 2788.2 187.9 2784.2 188.4 2780.2 188.9 2776.3 189.3 2772.3 189.8 2768.3 190.3 2764.3 190.8 2760.4 191.4 2756.4 192.0 2752.5 192.8 2748.5 193.5 2744.6 194.3 2740.7 195.1 2736.8 195.9 2732.9 196.8 2729.0 197.7 2725.1 198.5 2721.2 199.4 2717.2 200.1 2713.3 200.8 2709.4 201.5 2705.4 202.2 2701.5 202.9 2697.6 203.4 2693.6 203.9 2689.6 204.3 2685.7 204.7 2681.7 205.0 2677.7 205.4 2673.7 205.8 2669.7 206.1 2665.7 206.5 2661.8 206.9 2657.8 207.2 2653.8 207.6 2649.8 207.9 2645.8 208.3 2641.8 208.7 2637.8 209.0 2633.9 209.4 2629.9 209.7 2625.9 210.1 2621.9 210.5 2617.9 210.8 2613.9 211.3 2610.0 211.8 2606.0 212.4 2602.1 213.0 2598.1 213.6 2594.1 214.2 2590.2 214.8 2586.2 215.5 2582.3 216.1 2578.3 216.8 2574.4 217.5 2570.5 218.3 2566.5 219.1 2562.6 219.9 2558.7 220.7 2554.8 221.5 2550.9 222.4 2547.0 223.2 2543.1 224.1 2539.2 225.0 2535.3 225.9 2531.4 226.9 2527.5 227.9 2523.6 228.9 2519.7 229.9 2515.9 231.1 2512.1 232.3 2508.3 233.7 2504.5 235.2 2500.8 236.9 2497.2 238.7 2493.6 240.6 2490.1 242.6 2486.7 244.8 2483.3 247.0 2480.0 249.2 2476.7 251.5 2473.4 253.8 2470.1 256.1 2466.8 258.4 2463.6 260.9 2460.4 263.5 2457.4 266.2 2454.5 269.1 2451.7 272.1 2449.1 275.2 2446.6 278.4 2444.2 281.7 2441.9 285.0 2439.7 288.4 2437.5 291.8 2435.4 295.3 2433.4 298.7 2431.5 302.3 2429.6 305.8 2427.8 309.5 2426.1 313.1 2424.5 316.8 2423.0 320.6 2421.5 324.3 2420.2 328.1 2418.9 331.9 2417.6 335.7 2416.4 339.5 2415.3 343.4 2414.1 347.2 2413.0 351.1 2412.0 354.9 2411.0 358.8 2410.0 362.7 2409.0 366.6 2408.1 370.5 2407.1 374.4 2406.2 378.3 2405.3 382.2 2404.5 386.1 2403.6 390.0 2402.8 393.9 2402.1 397.9 2401.3 401.8 2400.6 405.7 2399.9 409.7 2399.3 413.6 2398.6 417.6 2398.0 421.5 2397.4 425.5 2396.8 429.5 2396.3 433.4 2395.7 437.4 2395.2 441.4 2394.6 445.3 2394.1 449.3 2393.6 453.3 2393.1 457.2 2392.6 461.2 2392.1 465.2 2391.7 469.1 2391.2 473.1 2390.8 477.1 2390.4 481.1 2390.0 485.1 2389.6 489.0 2389.2 493.0 2388.8 497.0 2388.4 501.0 2388.1 505.0 2387.7 509.0 2387.4 512.9 2387.1 516.9 2386.8 520.9 2386.5 524.9 2386.2 528.9 2385.9 532.9 2385.6 536.9 2385.3 540.9 2385.0 544.9 2384.7 548.9 2384.5 552.8 2384.2 556.8 2383.9 560.8 2383.6 564.8 2383.3 568.8 2383.0 572.8 2382.7 576.8 2382.4 580.8 2382.1 584.8 2381.8 588.7 2381.5 592.7 2381.2 596.7 2381.0 600.7 2380.7 604.7 2380.4 608.7 2380.1 612.7 2379.8 616.7 2379.5 620.7 2379.2 624.7 2378.9 628.6 2378.6 632.6 2378.3 636.6 2378.0 640.6 2377.6 644.6 2377.3 648.6 2376.9 652.6 2376.5 656.5 2376.1 660.5 2375.7 664.5 2375.2 668.5 2374.8 672.4 2374.3 676.4 2373.8 680.4 2373.2 684.3 2372.7 688.3 2372.2 692.2 2371.6 696.2 2371.1 700.2 2370.5 704.1 2370.0 708.1 2369.4 712.1 2368.9 716.0 2368.4 720.0 2367.8 724.0 2367.3 727.9 2366.8 731.9 2366.4 735.9 2365.9 739.8 2365.4 743.8 2365.0 747.8 2364.5 751.8 2364.1 755.7 2363.6 759.7 2363.2 763.7 2362.7 767.7 2362.3 771.6 2361.8 775.6 2361.4 779.6 2361.0 783.6 2360.6 787.6 2360.2 791.5 2359.8 795.5 2359.4 799.5 2359.1 803.5 2358.7 807.5 2358.4 811.5 2358.1 815.5 2357.8 819.4 2357.5 823.4 2357.3 827.4 2357.0 831.4 2356.8 835.4 2356.6 839.4 2356.3 843.4 2356.1 847.4 2355.9 851.4 2355.7 855.4 2355.5 859.4 2355.3 863.4 2355.1 867.4 2354.9 871.4 2354.7 875.4 2354.5 879.4 2354.4 883.4 2354.2 887.4 2354.0 891.4 2353.8 895.4 2353.7 899.3 2353.5 903.3 2353.3 907.3 2353.2 911.3 2353.0 915.3 2352.9 919.3 2352.7 923.3 2352.6 927.3 2352.4 931.3 2352.3 935.3 2352.2 939.3 2352.0 943.3 2351.9 947.3 2351.7 951.3 2351.6 955.3 2351.5 959.3 2351.3 963.3 2351.2 967.3 2351.1 971.3 2350.9 975.3 2350.8 977.3 2350.7" stroke="#808080" stroke-dasharray="6.08,10.03"/>
<path d="M164.0 2987.8 164.1 2986.8 164.7 2982.8 165.3 2978.9 165.8 2974.9 166.4 2971.0 166.9 2967.0 167.4 2963.0 167.9 2959.1 168.4 2955.1 168.9 2951.1 169.4 2947.2 169.9 2943.2 170.4 2939.2 170.9 2935.2 171.4 2931.3 171.9 2927.3 172.4 2923.3 172.8 2919.4 173.3 2915.4 173.8 2911.4 174.3 2907.4 174.7 2903.5 175.2 2899.5 175.6 2895.5 176.1 2891.5 176.6 2887.6 177.0 2883.6 177.5 2879.6 177.9 2875.6 178.4 2871.7 178.8 2867.7 179.3 2863.7 179.7 2859.7 180.1 2855.8 180.5 2851.8 180.9 2847.8 181.4 2843.8 181.8 2839.8 182.2 2835.9 182.6 2831.9 183.0 2827.9 183.4 2823.9 183.9 2819.9 184.3 2816.0 184.7 2812.0 185.1 2808.0 185.6 2804.0 186.1 2800.1 186.5 2796.1 187.0 2792.1 187.5 2788.1 187.9 2784.2 188.4 2780.2 188.9 2776.2 189.3 2772.2 189.8 2768.3 190.3 2764.3 190.8 2760.3 191.4 2756.4 192.1 2752.4 192.8 2748.5 193.5 2744.6 194.3 2740.6 195.1 2736.7 195.9 2732.8 196.8 2728.9 197.7 2725.0 198.5 2721.1 199.4 2717.2 200.1 2713.3 200.9 2709.3 201.5 2705.4 202.2 2701.4 202.9 2697.5 203.4 2693.5 203.9 2689.6 204.3 2685.6 204.7 2681.6 205.0 2677.6 205.4 2673.6 205.8 2669.7 206.1 2665.7 206.5 2661.7 206.9 2657.7 207.2 2653.7 207.6 2649.7 207.9 2645.7 208.3 2641.8 208.7 2637.8 209.0 2633.8 209.4 2629.8 209.7 2625.8 210.1 2621.8 210.5 2617.9 210.8 2613.9 211.3 2609.9 211.8 2605.9 212.4 2602.0 213.0 2598.0 213.6 2594.1 214.2 2590.1 214.8 2586.2 215.5 2582.2 216.1 2578.3 216.8 2574.3 217.5 2570.4 218.3 2566.5 219.1 2562.5 219.9 2558.6 220.7 2554.7 221.5 2550.8 222.4 2546.9 223.2 2543.0 224.1 2539.1 225.0 2535.2 225.9 2531.3 226.9 2527.4 227.9 2523.5 228.9 2519.7 230.0 2515.8 231.1 2512.0 232.4 2508.2 233.7 2504.4 235.2 2500.7 236.9 2497.1 238.7 2493.5 240.6 2490.0 242.6 2486.6 244.8 2483.2 247.0 2479.9 249.3 2476.6 251.7 2473.4 254.1 2470.2 256.6 2467.1 259.2 2464.0 261.8 2461.0 264.5 2458.0 267.2 2455.1 269.9 2452.2 272.7 2449.3 275.5 2446.5 278.5 2443.8 281.6 2441.3 284.9 2439.1 288.4 2437.1 292.0 2435.4 295.6 2433.8 299.3 2432.3 303.1 2431.0 306.9 2429.6 310.6 2428.3 314.4 2427.0 318.2 2425.8 322.1 2424.6 325.9 2423.5 329.7 2422.4 333.6 2421.3 337.5 2420.2 341.3 2419.2 345.2 2418.2 349.1 2417.2 353.0 2416.2 356.8 2415.3 360.7 2414.4 364.6 2413.4 368.5 2412.5 372.4 2411.5 376.3 2410.6 380.2 2409.7 384.1 2408.8 388.0 2407.9 391.9 2407.0 395.8 2406.1 399.7 2405.3 403.6 2404.6 407.6 2403.9 411.5 2403.2 415.5 2402.5 419.4 2401.9 423.4 2401.3 427.3 2400.7 431.3 2400.1 435.2 2399.5 439.2 2398.9 443.2 2398.4 447.1 2397.9 451.1 2397.3 455.1 2396.8 459.0 2396.4 463.0 2395.9 467.0 2395.4 471.0 2395.0 474.9 2394.6 478.9 2394.2 482.9 2393.8 486.9 2393.5 490.9 2393.1 494.9 2392.8 498.8 2392.5 502.8 2392.2 506.8 2392.0 510.8 2391.7 514.8 2391.4 518.8 2391.2 522.8 2391.0 526.8 2390.7 530.8 2390.5 534.8 2390.3 538.8 2390.1 542.8 2389.9 546.8 2389.6 550.8 2389.4 554.8 2389.2 558.8 2389.0 562.7 2388.7 566.7 2388.5 570.7 2388.2 574.7 2388.0 578.7 2387.7 582.7 2387.5 586.7 2387.2 590.7 2386.9 594.7 2386.6 598.7 2386.4 602.7 2386.1 606.7 2385.8 610.7 2385.5 614.6 2385.3 618.6 2385.0 622.6 2384.7 626.6 2384.5 630.6 2384.2 634.6 2383.9 638.6 2383.7 642.6 2383.4 646.6 2383.2 650.6 2383.0 654.6 2382.7 658.6 2382.5 662.6 2382.3 666.6 2382.0 670.6 2381.8 674.5 2381.6 678.5 2381.4 682.5 2381.2 686.5 2381.0 690.5 2380.8 694.5 2380.6 698.5 2380.4 702.5 2380.2 706.5 2380.0 710.5 2379.8 714.5 2379.6 718.5 2379.4 722.5 2379.2 726.5 2379.0 730.5 2378.8 734.5 2378.6 738.5 2378.4 742.5 2378.2 746.5 2378.0 750.5 2377.8 754.5 2377.6 758.5 2377.4 762.5 2377.2 766.5 2377.0 770.4 2376.8 774.4 2376.6 778.4 2376.4 782.4 2376.2 786.4 2376.0 790.4 2375.8 794.4 2375.6 798.4 2375.4 802.4 2375.2 806.4 2374.9 810.4 2374.7 814.4 2374.5 818.4 2374.3 822.4 2374.1 826.4 2373.9 830.4 2373.7 834.4 2373.4 838.4 2373.2 842.4 2373.0 846.4 2372.8 850.4 2372.5 854.3 2372.3 858.3 2372.1 862.3 2371.9 866.3 2371.6 870.3 2371.4 874.3 2371.2 878.3 2371.0 882.3 2370.9 886.3 2370.7 890.3 2370.5 894.3 2370.4 898.3 2370.2 902.3 2370.1 906.3 2370.0 910.3 2369.9 914.3 2369.8 918.3 2369.6 922.3 2369.5 926.3 2369.4 930.3 2369.3 934.3 2369.3 938.3 2369.2 942.3 2369.1 946.3 2369.0 950.3 2368.9 954.3 2368.8 958.3 2368.7 962.3 2368.6 966.3 2368.5 970.3 2368.4 974.3 2368.3 977.3 2368.3" stroke="#0000ff" stroke-linecap="square"/>
<path d="M164.0 2987.8 164.3 2986.8 165.3 2983.0 166.4 2979.1 167.3 2975.2 168.2 2971.3 168.9 2967.4 169.5 2963.4 170.0 2959.5 170.5 2955.5 171.1 2951.6 171.6 2947.6 172.1 2943.6 172.6 2939.6 173.1 2935.7 173.5 2931.7 173.9 2927.7 174.3 2923.7 174.7 2919.8 175.1 2915.8 175.4 2911.8 175.8 2907.8 176.2 2903.8 176.6 2899.8 176.9 2895.9 177.3 2891.9 177.7 2887.9 178.1 2883.9 178.5 2879.9 178.9 2875.9 179.3 2872.0 179.7 2868.0 180.1 2864.0 180.5 2860.0 180.9 2856.0 181.3 2852.1 181.7 2848.1 182.2 2844.1 182.6 2840.1 183.0 2836.2 183.5 2832.2 184.0 2828.2 184.5 2824.2 184.9 2820.3 185.4 2816.3 185.9 2812.3 186.4 2808.3 186.8 2804.4 187.3 2800.4 187.8 2796.4 188.3 2792.5 188.8 2788.5 189.3 2784.5 189.8 2780.6 190.4 2776.6 190.9 2772.6 191.4 2768.7 191.9 2764.7 192.4 2760.7 193.0 2756.8 193.6 2752.8 194.3 2748.9 195.0 2744.9 195.7 2741.0 196.4 2737.0 197.1 2733.1 197.9 2729.2 198.8 2725.3 199.8 2721.4 201.0 2717.6 202.1 2713.8 203.3 2709.9 204.4 2706.1 205.5 2702.3 206.5 2698.4 207.4 2694.5 208.2 2690.6 208.9 2686.7 209.6 2682.7 210.3 2678.8 211.0 2674.8 211.6 2670.9 212.2 2666.9 212.8 2663.0 213.4 2659.0 214.0 2655.1 214.6 2651.1 215.2 2647.2 215.9 2643.2 216.6 2639.3 217.3 2635.3 218.0 2631.4 218.7 2627.5 219.5 2623.5 220.4 2619.6 221.3 2615.8 222.3 2611.9 223.3 2608.0 224.3 2604.1 225.4 2600.3 226.5 2596.4 227.6 2592.6 228.7 2588.7 229.8 2584.9 230.9 2581.0 231.9 2577.2 233.0 2573.3 234.0 2569.5 235.1 2565.6 236.1 2561.7 237.2 2557.9 238.3 2554.0 239.4 2550.2 240.5 2546.3 241.7 2542.5 243.0 2538.7 244.3 2535.0 245.7 2531.2 247.1 2527.5 248.6 2523.8 250.2 2520.1 251.7 2516.4 253.4 2512.8 255.1 2509.1 256.9 2505.6 258.9 2502.1 261.0 2498.7 263.2 2495.4 265.6 2492.2 268.1 2489.1 270.7 2486.1 273.5 2483.2 276.3 2480.4 279.3 2477.7 282.3 2475.1 285.4 2472.6 288.6 2470.1 291.8 2467.7 295.1 2465.4 298.4 2463.2 301.8 2461.1 305.3 2459.1 308.8 2457.2 312.3 2455.4 315.9 2453.6 319.6 2452.0 323.2 2450.4 327.0 2448.9 330.7 2447.5 334.4 2446.1 338.2 2444.7 342.0 2443.4 345.8 2442.2 349.6 2440.9 353.4 2439.7 357.2 2438.5 361.0 2437.3 364.8 2436.1 368.6 2434.9 372.4 2433.6 376.2 2432.3 380.0 2431.0 383.8 2429.7 387.6 2428.4 391.4 2427.2 395.2 2426.0 399.0 2424.8 402.9 2423.8 406.8 2422.8 410.7 2421.9 414.6 2421.1 418.5 2420.3 422.4 2419.6 426.4 2418.8 430.3 2418.1 434.2 2417.4 438.2 2416.7 442.1 2416.1 446.1 2415.5 450.0 2414.9 454.0 2414.3 458.0 2413.7 461.9 2413.2 465.9 2412.6 469.9 2412.1 473.8 2411.6 477.8 2411.2 481.8 2410.7 485.8 2410.3 489.7 2409.9 493.7 2409.5 497.7 2409.1 501.7 2408.7 505.7 2408.4 509.7 2408.0 513.6 2407.7 517.6 2407.4 521.6 2407.1 525.6 2406.8 529.6 2406.5 533.6 2406.2 537.6 2405.9 541.6 2405.6 545.6 2405.3 549.6 2405.1 553.6 2404.8 557.5 2404.6 561.5 2404.3 565.5 2404.1 569.5 2403.8 573.5 2403.6 577.5 2403.3 581.5 2403.1 585.5 2402.8 589.5 2402.6 593.5 2402.4 597.5 2402.1 601.5 2401.9 605.5 2401.7 609.5 2401.5 613.5 2401.2 617.5 2401.0 621.4 2400.8 625.4 2400.6 629.4 2400.5 633.4 2400.3 637.4 2400.1 641.4 2399.9 645.4 2399.8 649.4 2399.6 653.4 2399.5 657.4 2399.4 661.4 2399.2 665.4 2399.1 669.4 2399.0 673.4 2398.9 677.4 2398.8 681.4 2398.7 685.4 2398.6 689.4 2398.5 693.4 2398.5 697.4 2398.4 701.4 2398.3 705.4 2398.2 709.4 2398.1 713.4 2398.0 717.4 2397.9 721.4 2397.8 725.4 2397.7 729.4 2397.6 733.4 2397.5 737.4 2397.3 741.4 2397.2 745.4 2397.1 749.4 2396.9 753.4 2396.7 757.4 2396.6 761.4 2396.4 765.4 2396.2 769.4 2396.1 773.4 2395.9 777.4 2395.7 781.4 2395.5 785.4 2395.4 789.4 2395.2 793.4 2395.0 797.4 2394.8 801.4 2394.7 805.4 2394.5 809.4 2394.3 813.4 2394.2 817.4 2394.0 821.4 2393.9 825.4 2393.7 829.4 2393.6 833.4 2393.4 837.4 2393.3 841.4 2393.1 845.4 2393.0 849.4 2392.9 853.4 2392.7 857.4 2392.6 861.3 2392.4 865.3 2392.3 869.3 2392.1 873.3 2392.0 877.3 2391.9 881.3 2391.7 885.3 2391.6 889.3 2391.4 893.3 2391.3 897.3 2391.1 901.3 2391.0 905.3 2390.9 909.3 2390.7 913.3 2390.6 917.3 2390.4 921.3 2390.3 925.3 2390.1 929.3 2390.0 933.3 2389.8 937.3 2389.7 941.3 2389.6 945.3 2389.4 949.3 2389.3 953.3 2389.1 957.3 2389.0 961.3 2388.8 965.3 2388.7 969.3 2388.5 973.3 2388.4 977.3 2388.3" stroke="#00ffff" stroke-dasharray="22.5,9.73"/>
<path d="M164.0 2987.8 164.1 2986.8 164.6 2982.8 165.2 2978.9 165.7 2974.9 166.2 2970.9 166.6 2967.0 167.1 2963.0 167.5 2959.0 167.8 2955.0 168.2 2951.0 168.6 2947.1 169.0 2943.1 169.3 2939.1 169.7 2935.1 170.1 2931.1 170.5 2927.1 170.8 2923.2 171.2 2919.2 171.6 2915.2 171.9 2911.2 172.3 2907.2 172.7 2903.2 173.0 2899.3 173.3 2895.3 173.7 2891.3 174.0 2887.3 174.4 2883.3 174.7 2879.3 175.1 2875.3 175.4 2871.4 175.8 2867.4 176.1 2863.4 176.4 2859.4 176.8 2855.4 177.1 2851.4 177.5 2847.4 177.8 2843.5 178.2 2839.5 178.5 2835.5 178.9 2831.5 179.3 2827.5 179.6 2823.5 180.0 2819.6 180.3 2815.6 180.7 2811.6 181.0 2807.6 181.4 2803.6 181.8 2799.6 182.2 2795.7 182.6 2791.7 183.0 2787.7 183.4 2783.7 183.8 2779.7 184.2 2775.8 184.6 2771.8 185.0 2767.8 185.5 2763.8 185.9 2759.9 186.5 2755.9 187.1 2751.9 187.7 2748.0 188.3 2744.0 188.9 2740.1 189.6 2736.1 190.2 2732.2 190.8 2728.2 191.5 2724.3 192.1 2720.3 192.8 2716.4 193.5 2712.4 194.1 2708.5 194.8 2704.6 195.4 2700.6 195.9 2696.6 196.4 2692.7 196.9 2688.7 197.4 2684.7 197.8 2680.8 198.3 2676.8 198.8 2672.8 199.2 2668.8 199.7 2664.9 200.1 2660.9 200.6 2656.9 201.1 2652.9 201.6 2649.0 202.1 2645.0 202.6 2641.0 203.1 2637.1 203.6 2633.1 204.1 2629.1 204.6 2625.2 205.2 2621.2 205.7 2617.2 206.2 2613.3 206.9 2609.3 207.7 2605.4 208.5 2601.5 209.4 2597.6 210.3 2593.7 211.2 2589.8 212.2 2585.9 213.3 2582.1 214.4 2578.2 215.5 2574.4 216.7 2570.6 217.8 2566.7 219.0 2562.9 220.2 2559.1 221.3 2555.3 222.5 2551.4 223.6 2547.6 224.7 2543.8 225.8 2539.9 227.0 2536.1 228.2 2532.3 229.4 2528.5 230.7 2524.7 232.0 2520.9 233.3 2517.1 234.8 2513.4 236.4 2509.7 238.0 2506.1 239.8 2502.5 241.6 2498.9 243.5 2495.4 245.5 2491.9 247.6 2488.5 249.8 2485.2 252.1 2481.9 254.4 2478.7 256.9 2475.6 259.5 2472.5 262.1 2469.5 264.9 2466.6 267.7 2463.8 270.6 2461.0 273.5 2458.3 276.5 2455.7 279.6 2453.1 282.8 2450.7 286.0 2448.4 289.5 2446.4 293.0 2444.5 296.7 2443.0 300.4 2441.6 304.2 2440.3 308.0 2439.2 311.9 2438.1 315.8 2437.2 319.7 2436.3 323.6 2435.5 327.5 2434.8 331.5 2434.0 335.4 2433.4 339.4 2432.7 343.3 2432.1 347.3 2431.5 351.2 2430.9 355.2 2430.3 359.1 2429.8 363.1 2429.3 367.1 2428.8 371.1 2428.4 375.0 2428.0 379.0 2427.5 383.0 2427.2 387.0 2426.8 391.0 2426.4 394.9 2426.1 398.9 2425.8 402.9 2425.4 406.9 2425.1 410.9 2424.8 414.9 2424.5 418.9 2424.2 422.9 2423.9 426.9 2423.7 430.8 2423.4 434.8 2423.1 438.8 2422.9 442.8 2422.6 446.8 2422.4 450.8 2422.2 454.8 2422.0 458.8 2421.7 462.8 2421.5 466.8 2421.4 470.8 2421.2 474.8 2421.0 478.8 2420.8 482.8 2420.7 486.8 2420.5 490.8 2420.4 494.8 2420.2 498.8 2420.1 502.8 2420.0 506.8 2419.9 510.8 2419.8 514.8 2419.7 518.8 2419.6 522.8 2419.5 526.8 2419.4 530.8 2419.4 534.8 2419.3 538.8 2419.2 542.8 2419.1 546.8 2419.0 550.8 2418.9 554.8 2418.8 558.8 2418.7 562.8 2418.6 566.8 2418.5 570.8 2418.3 574.8 2418.2 578.8 2418.1 582.7 2417.9 586.7 2417.8 590.7 2417.6 594.7 2417.4 598.7 2417.3 602.7 2417.1 606.7 2416.9 610.7 2416.7 614.7 2416.5 618.7 2416.3 622.7 2416.1 626.7 2415.8 630.7 2415.6 634.7 2415.4 638.7 2415.1 642.7 2414.8 646.7 2414.5 650.6 2414.2 654.6 2413.9 658.6 2413.5 662.6 2413.0 666.6 2412.5 670.5 2411.9 674.5 2411.3 678.4 2410.7 682.4 2410.0 686.3 2409.3 690.2 2408.6 694.2 2407.8 698.1 2407.1 702.0 2406.4 706.0 2405.7 709.9 2405.0 713.9 2404.3 717.8 2403.7 721.8 2403.1 725.7 2402.5 729.7 2402.0 733.7 2401.6 737.6 2401.2 741.6 2400.8 745.6 2400.4 749.6 2400.0 753.6 2399.7 757.6 2399.3 761.5 2399.0 765.5 2398.7 769.5 2398.4 773.5 2398.1 777.5 2397.8 781.5 2397.5 785.5 2397.2 789.5 2396.9 793.5 2396.7 797.5 2396.4 801.4 2396.1 805.4 2395.9 809.4 2395.6 813.4 2395.4 817.4 2395.1 821.4 2394.9 825.4 2394.7 829.4 2394.4 833.4 2394.2 837.4 2394.0 841.4 2393.7 845.4 2393.5 849.4 2393.3 853.4 2393.1 857.4 2392.9 861.3 2392.7 865.3 2392.5 869.3 2392.3 873.3 2392.1 877.3 2391.9 881.3 2391.8 885.3 2391.6 889.3 2391.4 893.3 2391.3 897.3 2391.2 901.3 2391.0 905.3 2390.9 909.3 2390.8 913.3 2390.7 917.3 2390.6 921.3 2390.5 925.3 2390.4 929.3 2390.3 933.3 2390.2 937.3 2390.1 941.3 2390.0 945.3 2389.9 949.3 2389.8 953.3 2389.7 957.3 2389.6 961.3 2389.5 965.3 2389.4 969.3 2389.3 973.3 2389.2 977.3 2389.1" stroke="#880015" stroke-dasharray="6.08,10.03"/>
</g>
<rect x="164" y="2175.4" width="813.3" height="812.4" fill="none" stroke="#000" stroke-width="2.43" stroke-linejoin="miter"/>
<path d="M164 2987.8v10.64M245.33 2987.8v10.64M326.66 2987.8v10.64M407.99 2987.8v10.64M489.32 2987.8v10.64M570.65 2987.8v10.64M651.98 2987.8v10.64M733.31 2987.8v10.64M814.64 2987.8v10.64M895.97 2987.8v10.64M977.3 2987.8v10.64M164 2987.8h-10.64M164 2889.76h-10.64M164 2791.71h-10.64M164 2693.67h-10.64M164 2595.62h-10.64M164 2497.58h-10.64M164 2399.53h-10.64M164 2301.49h-10.64M164 2203.44h-10.64" stroke="#000" stroke-width="2.43" fill="none"/>
<g class="n" font-size="32" fill="#111">
<text x="163.7" y="3030.5" text-anchor="middle">0</text>
<text x="245.03" y="3030.5" text-anchor="middle">5</text>
<text x="326.36" y="3030.5" text-anchor="middle">10</text>
<text x="407.69" y="3030.5" text-anchor="middle">15</text>
<text x="489.02" y="3030.5" text-anchor="middle">20</text>
<text x="570.35" y="3030.5" text-anchor="middle">25</text>
<text x="651.68" y="3030.5" text-anchor="middle">30</text>
<text x="733.01" y="3030.5" text-anchor="middle">35</text>
<text x="814.34" y="3030.5" text-anchor="middle">40</text>
<text x="895.67" y="3030.5" text-anchor="middle">45</text>
<text x="977" y="3030.5" text-anchor="middle">50</text>
<text x="143.7" y="2997.9" text-anchor="end">0.0365</text>
<text x="143.7" y="2899.86" text-anchor="end">0.1365</text>
<text x="143.7" y="2801.81" text-anchor="end">0.2365</text>
<text x="143.7" y="2703.77" text-anchor="end">0.3365</text>
<text x="143.7" y="2605.72" text-anchor="end">0.4365</text>
<text x="143.7" y="2507.68" text-anchor="end">0.5365</text>
<text x="143.7" y="2409.63" text-anchor="end">0.6365</text>
<text x="143.7" y="2311.59" text-anchor="end">0.7365</text>
<text x="143.7" y="2213.54" text-anchor="end">0.8365</text>
</g>
<text class="tb" x="566.7" y="2154.5" font-size="36.5" text-anchor="middle" textLength="785.44" lengthAdjust="spacing">Precision plots of OPE - Background Clutters</text>
<text class="t" x="568.25" y="3070" font-size="30.4" text-anchor="middle" textLength="324.47" lengthAdjust="spacing">Location error threshold</text>
<text class="t" x="0" y="0" font-size="30.4" text-anchor="middle" textLength="128.84" lengthAdjust="spacing" transform="translate(39.8 2581.7) rotate(-90)">Precision</text>
<rect x="619.57" y="2646.8" width="342.53" height="325.1" rx="6.08" ry="6.08" fill="#ffffff" fill-opacity="0.8" stroke="#d4d4d4" stroke-width="2.1"/>
<path d="M629.77 2668.6H690.57" stroke="#ff0000" stroke-width="6.08" fill="none" stroke-linecap="square"/>
<text class="t" x="714.87" y="2678.6" font-size="30.4">[0.811] Ours</text>
<path d="M629.77 2702.95H690.57" stroke="#00ff00" stroke-width="6.08" fill="none" stroke-dasharray="22.5,9.73"/>
<text class="t" x="714.87" y="2712.95" font-size="30.4">[0.748] TrSiam</text>
<path d="M629.77 2737.3H690.57" stroke="#ff00ff" stroke-width="6.08" fill="none" stroke-dasharray="6.08,10.03"/>
<text class="t" x="714.87" y="2747.3" font-size="30.4">[0.732] SiamPT</text>
<path d="M629.77 2771.65H690.57" stroke="#ffff00" stroke-width="6.08" fill="none" stroke-linecap="square"/>
<text class="t" x="714.87" y="2781.65" font-size="30.4">[0.718] SiamAttn</text>
<path d="M629.77 2806H690.57" stroke="#00a2e8" stroke-width="6.08" fill="none" stroke-dasharray="22.5,9.73"/>
<text class="t" x="714.87" y="2816" font-size="30.4">[0.660] TrDiMP</text>
<path d="M629.77 2840.35H690.57" stroke="#808080" stroke-width="6.08" fill="none" stroke-dasharray="6.08,10.03"/>
<text class="t" x="714.87" y="2850.35" font-size="30.4">[0.645] SiamBAN</text>
<path d="M629.77 2874.7H690.57" stroke="#0000ff" stroke-width="6.08" fill="none" stroke-linecap="square"/>
<text class="t" x="714.87" y="2884.7" font-size="30.4">[0.640] ATOM</text>
<path d="M629.77 2909.05H690.57" stroke="#00ffff" stroke-width="6.08" fill="none" stroke-dasharray="22.5,9.73"/>
<text class="t" x="714.87" y="2919.05" font-size="30.4">[0.624] ECO</text>
<path d="M629.77 2943.4H690.57" stroke="#880015" stroke-width="6.08" fill="none" stroke-dasharray="6.08,10.03"/>
<text class="t" x="714.87" y="2953.4" font-size="30.4">[0.614] TransT</text>
</g>
<g>
<path d="M1395.7 2175.4V2987.8M1477.03 2175.4V2987.8M1558.36 2175.4V2987.8M1639.69 2175.4V2987.8M1721.02 2175.4V2987.8M1802.35 2175.4V2987.8M1883.68 2175.4V2987.8M1965.01 2175.4V2987.8M2046.34 2175.4V2987.8M2127.67 2175.4V2987.8M2209 2175.4V2987.8M1395.7 2987.8H2209M1395.7 2887.32H2209M1395.7 2786.84H2209M1395.7 2686.35H2209M1395.7 2585.87H2209M1395.7 2485.39H2209M1395.7 2384.91H2209M1395.7 2284.42H2209M1395.7 2183.94H2209" stroke="#b0b0b0" stroke-width="2.2" fill="none"/>
<clipPath id="c5"><rect x="1395.7" y="2175.4" width="813.3" height="812.4"/></clipPath>
<g clip-path="url(#c5)" fill="none" stroke-width="6.08" stroke-linejoin="round">
<path d="M1395.7 2203.6 1436.4 2204.4 1477.0 2205.4 1517.7 2207.3 1558.4 2209.8 1599.0 2212.7 1639.7 2216.2 1680.4 2220.5 1721.0 2227.8 1761.7 2236.0 1802.3 2249.3 1843.0 2273.7 1883.7 2323.6 1924.3 2377.9 1965.0 2451.2 2005.7 2542.7 2046.3 2660.2 2087.0 2790.9 2127.7 2916.5 2168.3 2975.7 2209.0 2987.8" stroke="#ff0000" stroke-linecap="square"/>
<path d="M1395.7 2264.7 1436.4 2266.4 1477.0 2268.2 1517.7 2271.9 1558.4 2277.3 1599.0 2283.7 1639.7 2289.8 1680.4 2297.0 1721.0 2305.2 1761.7 2316.7 1802.3 2329.2 1843.0 2345.4 1883.7 2374.9 1924.3 2423.1 1965.0 2495.4 2005.7 2589.9 2046.3 2702.4 2087.0 2819.0 2127.7 2925.5 2168.3 2978.8 2209.0 2987.8" stroke="#00ff00" stroke-dasharray="22.5,9.73"/>
<path d="M1395.7 2283.7 1436.4 2285.1 1477.0 2286.2 1517.7 2288.0 1558.4 2290.9 1599.0 2293.4 1639.7 2297.0 1680.4 2302.4 1721.0 2307.7 1761.7 2316.7 1802.3 2325.7 1843.0 2341.8 1883.7 2380.9 1924.3 2431.1 1965.0 2498.5 2005.7 2584.9 2046.3 2693.4 2087.0 2804.9 2127.7 2922.5 2168.3 2978.8 2209.0 2987.8" stroke="#ff00ff" stroke-dasharray="6.08,10.03"/>
<path d="M1395.7 2291.6 1436.4 2297.0 1477.0 2305.9 1517.7 2313.2 1558.4 2316.7 1599.0 2322.1 1639.7 2332.9 1680.4 2343.6 1721.0 2352.7 1761.7 2361.6 1802.3 2374.2 1843.0 2392.0 1883.7 2431.1 1924.3 2489.4 1965.0 2559.7 2005.7 2635.1 2046.3 2721.5 2087.0 2828.0 2127.7 2933.5 2168.3 2978.8 2209.0 2987.8" stroke="#ffff00" stroke-linecap="square"/>
<path d="M1395.7 2353.4 1436.4 2355.5 1477.0 2356.9 1517.7 2359.1 1558.4 2363.4 1599.0 2370.5 1639.7 2377.8 1680.4 2386.7 1721.0 2395.7 1761.7 2404.6 1802.3 2415.5 1843.0 2431.5 1883.7 2453.2 1924.3 2506.5 1965.0 2570.8 2005.7 2643.1 2046.3 2732.6 2087.0 2839.1 2127.7 2939.6 2168.3 2980.8 2209.0 2987.8" stroke="#00a2e8" stroke-dasharray="22.5,9.73"/>
<path d="M1395.7 2365.2 1436.4 2366.9 1477.0 2369.8 1517.7 2374.2 1558.4 2379.5 1599.0 2386.7 1639.7 2397.5 1680.4 2406.4 1721.0 2413.6 1761.7 2420.8 1802.3 2435.1 1843.0 2456.7 1883.7 2487.4 1924.3 2539.6 1965.0 2604.0 2005.7 2671.3 2046.3 2749.7 2087.0 2850.1 2127.7 2941.6 2168.3 2980.8 2209.0 2987.8" stroke="#808080" stroke-dasharray="6.08,10.03"/>
<path d="M1395.7 2402.9 1436.4 2404.6 1477.0 2406.4 1517.7 2409.3 1558.4 2410.7 1599.0 2412.9 1639.7 2415.5 1680.4 2417.2 1721.0 2420.8 1761.7 2426.2 1802.3 2433.3 1843.0 2445.9 1883.7 2475.3 1924.3 2517.5 1965.0 2570.8 2005.7 2638.1 2046.3 2721.5 2087.0 2828.0 2127.7 2922.5 2168.3 2975.7 2209.0 2987.8" stroke="#0000ff" stroke-linecap="square"/>
<path d="M1395.7 2343.6 1436.4 2370.5 1477.0 2376.0 1517.7 2381.3 1558.4 2384.9 1599.0 2388.5 1639.7 2397.5 1680.4 2406.4 1721.0 2420.8 1761.7 2435.1 1802.3 2453.1 1843.0 2474.6 1883.7 2502.5 1924.3 2548.7 1965.0 2610.0 2005.7 2682.3 2046.3 2765.7 2087.0 2855.2 2127.7 2944.6 2168.3 2980.8 2209.0 2987.8" stroke="#00ffff" stroke-dasharray="22.5,9.73"/>
<path d="M1395.7 2397.5 1436.4 2401.1 1477.0 2406.4 1517.7 2411.8 1558.4 2417.2 1599.0 2420.8 1639.7 2426.2 1680.4 2438.8 1721.0 2456.7 1761.7 2478.3 1802.3 2499.8 1843.0 2530.6 1883.7 2570.8 1924.3 2610.0 1965.0 2671.3 2005.7 2743.6 2046.3 2828.0 2087.0 2891.3 2127.7 2955.6 2168.3 2983.8 2209.0 2987.8" stroke="#880015" stroke-dasharray="6.08,10.03"/>
</g>
<rect x="1395.7" y="2175.4" width="813.3" height="812.4" fill="none" stroke="#000" stroke-width="2.43" stroke-linejoin="miter"/>
<path d="M1395.7 2987.8v10.64M1477.03 2987.8v10.64M1558.36 2987.8v10.64M1639.69 2987.8v10.64M1721.02 2987.8v10.64M1802.35 2987.8v10.64M1883.68 2987.8v10.64M1965.01 2987.8v10.64M2046.34 2987.8v10.64M2127.67 2987.8v10.64M2209 2987.8v10.64M1395.7 2987.8h-10.64M1395.7 2887.32h-10.64M1395.7 2786.84h-10.64M1395.7 2686.35h-10.64M1395.7 2585.87h-10.64M1395.7 2485.39h-10.64M1395.7 2384.91h-10.64M1395.7 2284.42h-10.64M1395.7 2183.94h-10.64" stroke="#000" stroke-width="2.43" fill="none"/>
<g class="n" font-size="32" fill="#111">
<text x="1393.7" y="3030.5" text-anchor="middle">0.0</text>
<text x="1475.03" y="3030.5" text-anchor="middle">0.1</text>
<text x="1556.36" y="3030.5" text-anchor="middle">0.2</text>
<text x="1637.69" y="3030.5" text-anchor="middle">0.3</text>
<text x="1719.02" y="3030.5" text-anchor="middle">0.4</text>
<text x="1800.35" y="3030.5" text-anchor="middle">0.5</text>
<text x="1881.68" y="3030.5" text-anchor="middle">0.6</text>
<text x="1963.01" y="3030.5" text-anchor="middle">0.7</text>
<text x="2044.34" y="3030.5" text-anchor="middle">0.8</text>
<text x="2125.67" y="3030.5" text-anchor="middle">0.9</text>
<text x="2207" y="3030.5" text-anchor="middle">1.0</text>
<text x="1375.4" y="2997.9" text-anchor="end">0.0</text>
<text x="1375.4" y="2897.42" text-anchor="end">0.1</text>
<text x="1375.4" y="2796.94" text-anchor="end">0.2</text>
<text x="1375.4" y="2696.45" text-anchor="end">0.3</text>
<text x="1375.4" y="2595.97" text-anchor="end">0.4</text>
<text x="1375.4" y="2495.49" text-anchor="end">0.5</text>
<text x="1375.4" y="2395.01" text-anchor="end">0.6</text>
<text x="1375.4" y="2294.52" text-anchor="end">0.7</text>
<text x="1375.4" y="2194.04" text-anchor="end">0.8</text>
</g>
<text class="tb" x="1799.7" y="2154.5" font-size="36.5" text-anchor="middle" textLength="767.2" lengthAdjust="spacing">Success plots of OPE - Background Clutters</text>
<text class="t" x="1800.2" y="3070" font-size="30.4" text-anchor="middle" textLength="242.47" lengthAdjust="spacing">Overlap threshold</text>
<text class="t" x="0" y="0" font-size="30.4" text-anchor="middle" textLength="176.03" lengthAdjust="spacing" transform="translate(1317.2 2579.35) rotate(-90)">Success rate</text>
<rect x="1410.9" y="2646.8" width="342.53" height="325.1" rx="6.08" ry="6.08" fill="#ffffff" fill-opacity="0.8" stroke="#d4d4d4" stroke-width="2.1"/>
<path d="M1423.4 2668.6H1484.2" stroke="#ff0000" stroke-width="6.08" fill="none" stroke-linecap="square"/>
<text class="t" x="1508.4" y="2678.6" font-size="30.4">[0.569] Ours</text>
<path d="M1423.4 2702.95H1484.2" stroke="#00ff00" stroke-width="6.08" fill="none" stroke-dasharray="22.5,9.73"/>
<text class="t" x="1508.4" y="2712.95" font-size="30.4">[0.514] TrSiam</text>
<path d="M1423.4 2737.3H1484.2" stroke="#ff00ff" stroke-width="6.08" fill="none" stroke-dasharray="6.08,10.03"/>
<text class="t" x="1508.4" y="2747.3" font-size="30.4">[0.511] SiamPT</text>
<path d="M1423.4 2771.65H1484.2" stroke="#ffff00" stroke-width="6.08" fill="none" stroke-linecap="square"/>
<text class="t" x="1508.4" y="2781.65" font-size="30.4">[0.481] SiamAttn</text>
<path d="M1423.4 2806H1484.2" stroke="#00a2e8" stroke-width="6.08" fill="none" stroke-dasharray="22.5,9.73"/>
<text class="t" x="1508.4" y="2816" font-size="30.4">[0.449] TrDiMP</text>
<path d="M1423.4 2840.35H1484.2" stroke="#808080" stroke-width="6.08" fill="none" stroke-dasharray="6.08,10.03"/>
<text class="t" x="1508.4" y="2850.35" font-size="30.4">[0.431] SiamBAN</text>
<path d="M1423.4 2874.7H1484.2" stroke="#0000ff" stroke-width="6.08" fill="none" stroke-linecap="square"/>
<text class="t" x="1508.4" y="2884.7" font-size="30.4">[0.430] TransT</text>
<path d="M1423.4 2909.05H1484.2" stroke="#00ffff" stroke-width="6.08" fill="none" stroke-dasharray="22.5,9.73"/>
<text class="t" x="1508.4" y="2919.05" font-size="30.4">[0.426] ATOM</text>
<path d="M1423.4 2943.4H1484.2" stroke="#880015" stroke-width="6.08" fill="none" stroke-dasharray="6.08,10.03"/>
<text class="t" x="1508.4" y="2953.4" font-size="30.4">[0.387] ECO</text>
</g>
<g>
<path d="M164 3232.4V4044.8M245.33 3232.4V4044.8M326.66 3232.4V4044.8M407.99 3232.4V4044.8M489.32 3232.4V4044.8M570.65 3232.4V4044.8M651.98 3232.4V4044.8M733.31 3232.4V4044.8M814.64 3232.4V4044.8M895.97 3232.4V4044.8M977.3 3232.4V4044.8M164 4044.8H977.3M164 3957.38H977.3M164 3869.96H977.3M164 3782.54H977.3M164 3695.12H977.3M164 3607.7H977.3M164 3520.28H977.3M164 3432.86H977.3M164 3345.43H977.3M164 3258.01H977.3" stroke="#b0b0b0" stroke-width="2.2" fill="none"/>
<clipPath id="c6"><rect x="164" y="3232.4" width="813.3" height="812.4"/></clipPath>
<g clip-path="url(#c6)" fill="none" stroke-width="6.08" stroke-linejoin="round">
<path d="M164.0 4039.0 164.1 4038.0 164.4 4034.0 164.7 4030.1 165.0 4026.1 165.3 4022.1 165.6 4018.1 165.9 4014.1 166.3 4010.1 166.6 4006.1 166.9 4002.1 167.2 3998.1 167.5 3994.1 167.8 3990.2 168.1 3986.2 168.4 3982.2 168.7 3978.2 169.1 3974.2 169.4 3970.2 169.7 3966.2 170.0 3962.2 170.3 3958.2 170.6 3954.2 170.9 3950.3 171.3 3946.3 171.6 3942.3 171.9 3938.3 172.2 3934.3 172.5 3930.3 172.9 3926.3 173.2 3922.3 173.5 3918.3 173.8 3914.3 174.1 3910.4 174.5 3906.4 174.8 3902.4 175.1 3898.4 175.4 3894.4 175.7 3890.4 176.0 3886.4 176.4 3882.4 176.7 3878.4 177.0 3874.5 177.3 3870.5 177.6 3866.5 177.9 3862.5 178.2 3858.5 178.6 3854.5 178.9 3850.5 179.2 3846.5 179.5 3842.5 179.8 3838.5 180.1 3834.6 180.4 3830.6 180.7 3826.6 181.0 3822.6 181.3 3818.6 181.7 3814.6 182.0 3810.6 182.3 3806.6 182.6 3802.6 182.9 3798.6 183.2 3794.7 183.6 3790.7 183.9 3786.7 184.2 3782.7 184.5 3778.7 184.9 3774.7 185.2 3770.7 185.5 3766.7 185.9 3762.7 186.2 3758.8 186.5 3754.8 186.9 3750.8 187.2 3746.8 187.6 3742.8 187.9 3738.8 188.3 3734.8 188.6 3730.8 189.0 3726.9 189.4 3722.9 189.8 3718.9 190.1 3714.9 190.5 3710.9 190.9 3706.9 191.3 3703.0 191.7 3699.0 192.1 3695.0 192.5 3691.0 193.0 3687.0 193.5 3683.1 194.0 3679.1 194.5 3675.1 195.0 3671.2 195.4 3667.2 195.9 3663.2 196.4 3659.2 196.9 3655.3 197.4 3651.3 197.8 3647.3 198.2 3643.3 198.5 3639.3 198.9 3635.4 199.3 3631.4 199.6 3627.4 200.0 3623.4 200.3 3619.4 200.7 3615.4 201.0 3611.4 201.4 3607.5 201.8 3603.5 202.1 3599.5 202.5 3595.5 202.9 3591.5 203.3 3587.5 203.7 3583.5 204.0 3579.6 204.4 3575.6 204.8 3571.6 205.2 3567.6 205.6 3563.6 206.1 3559.7 206.7 3555.7 207.2 3551.7 207.8 3547.8 208.4 3543.8 209.0 3539.9 209.5 3535.9 210.2 3531.9 210.8 3528.0 211.5 3524.1 212.2 3520.1 212.9 3516.2 213.6 3512.2 214.3 3508.3 215.0 3504.4 215.8 3500.4 216.5 3496.5 217.3 3492.6 218.1 3488.6 218.8 3484.7 219.6 3480.8 220.4 3476.9 221.2 3473.0 222.1 3469.0 223.0 3465.1 223.9 3461.2 224.8 3457.3 225.7 3453.4 226.6 3449.5 227.6 3445.7 228.6 3441.8 229.6 3437.9 230.6 3434.1 231.7 3430.2 232.8 3426.4 234.0 3422.5 235.1 3418.7 236.4 3414.9 237.6 3411.1 239.0 3407.3 240.4 3403.6 241.9 3399.9 243.5 3396.2 245.1 3392.5 246.8 3388.9 248.6 3385.3 250.4 3381.8 252.3 3378.3 254.3 3374.8 256.3 3371.4 258.4 3368.0 260.6 3364.6 262.8 3361.3 265.1 3358.0 267.5 3354.8 270.0 3351.6 272.5 3348.5 275.2 3345.6 277.9 3342.7 280.8 3339.9 283.7 3337.1 286.7 3334.5 289.8 3331.9 292.9 3329.4 296.1 3327.0 299.4 3324.7 302.7 3322.4 306.0 3320.2 309.4 3318.1 312.8 3316.0 316.3 3314.0 319.8 3312.1 323.3 3310.2 326.9 3308.5 330.5 3306.8 334.2 3305.1 337.9 3303.6 341.6 3302.0 345.3 3300.6 349.0 3299.1 352.8 3297.7 356.5 3296.3 360.3 3295.0 364.0 3293.6 367.8 3292.3 371.6 3290.9 375.3 3289.5 379.1 3288.1 382.9 3286.8 386.6 3285.5 390.5 3284.3 394.3 3283.1 398.1 3282.1 402.0 3281.1 405.9 3280.3 409.9 3279.5 413.8 3278.8 417.8 3278.2 421.7 3277.6 425.7 3277.0 429.6 3276.5 433.6 3276.0 437.6 3275.5 441.6 3275.0 445.5 3274.6 449.5 3274.2 453.5 3273.8 457.5 3273.4 461.5 3273.0 465.4 3272.6 469.4 3272.3 473.4 3271.9 477.4 3271.6 481.4 3271.2 485.4 3270.9 489.4 3270.6 493.4 3270.3 497.4 3270.0 501.3 3269.7 505.3 3269.4 509.3 3269.1 513.3 3268.8 517.3 3268.6 521.3 3268.3 525.3 3268.0 529.3 3267.8 533.3 3267.6 537.3 3267.3 541.3 3267.1 545.3 3266.9 549.3 3266.6 553.3 3266.4 557.3 3266.2 561.3 3266.0 565.3 3265.8 569.3 3265.6 573.3 3265.4 577.3 3265.2 581.3 3265.0 585.2 3264.9 589.2 3264.7 593.2 3264.5 597.2 3264.3 601.2 3264.2 605.2 3264.0 609.2 3263.9 613.2 3263.7 617.2 3263.6 621.2 3263.4 625.2 3263.3 629.2 3263.1 633.2 3262.9 637.2 3262.8 641.2 3262.6 645.2 3262.5 649.2 3262.3 653.2 3262.2 657.2 3262.0 661.2 3261.8 665.2 3261.7 669.2 3261.5 673.2 3261.3 677.2 3261.1 681.2 3261.0 685.2 3260.8 689.2 3260.6 693.2 3260.4 697.2 3260.3 701.2 3260.1 705.2 3259.9 709.2 3259.8 713.2 3259.6 717.2 3259.5 721.2 3259.3 725.2 3259.2 729.2 3259.0 733.2 3258.9 737.2 3258.8 741.2 3258.6 745.2 3258.5 749.2 3258.4 753.2 3258.3 757.2 3258.2 761.2 3258.0 765.2 3257.9 769.2 3257.8 773.2 3257.7 777.2 3257.6 781.2 3257.5 785.2 3257.4 789.2 3257.3 793.2 3257.2 797.2 3257.1 801.2 3257.0 805.2 3257.0 809.2 3256.9 813.2 3256.8 817.2 3256.8 821.2 3256.7 825.2 3256.6 829.2 3256.6 833.2 3256.5 837.2 3256.5 841.2 3256.4 845.2 3256.4 849.2 3256.4 853.2 3256.3 857.2 3256.3 861.2 3256.2 865.2 3256.2 869.2 3256.2 873.2 3256.1 877.3 3256.1 881.3 3256.1 885.3 3256.0 889.3 3256.0 893.3 3255.9 897.3 3255.9 901.3 3255.9 905.3 3255.8 909.3 3255.8 913.3 3255.7 917.3 3255.7 921.3 3255.7 925.3 3255.6 929.3 3255.6 933.3 3255.5 937.3 3255.5 941.3 3255.5 945.3 3255.4 949.3 3255.4 953.3 3255.4 957.3 3255.3 961.3 3255.3 965.3 3255.2 969.3 3255.2 973.3 3255.2 977.3 3255.1" stroke="#ff0000" stroke-linecap="square"/>
<path d="M164.0 4039.0 164.1 4038.0 164.4 4034.0 164.7 4030.1 165.0 4026.1 165.3 4022.1 165.6 4018.1 165.9 4014.1 166.2 4010.1 166.6 4006.1 166.9 4002.1 167.2 3998.1 167.5 3994.1 167.8 3990.2 168.1 3986.2 168.4 3982.2 168.7 3978.2 169.1 3974.2 169.4 3970.2 169.7 3966.2 170.0 3962.2 170.3 3958.2 170.6 3954.3 170.9 3950.3 171.3 3946.3 171.6 3942.3 171.9 3938.3 172.2 3934.3 172.5 3930.3 172.9 3926.3 173.2 3922.3 173.5 3918.4 173.8 3914.4 174.1 3910.4 174.5 3906.4 174.8 3902.4 175.1 3898.4 175.4 3894.4 175.7 3890.4 176.0 3886.4 176.4 3882.5 176.7 3878.5 177.0 3874.5 177.3 3870.5 177.6 3866.5 177.9 3862.5 178.2 3858.5 178.6 3854.5 178.9 3850.5 179.2 3846.6 179.5 3842.6 179.8 3838.6 180.1 3834.6 180.4 3830.6 180.7 3826.6 181.0 3822.6 181.3 3818.6 181.7 3814.6 182.0 3810.6 182.3 3806.7 182.6 3802.7 182.9 3798.7 183.2 3794.7 183.6 3790.7 183.9 3786.7 184.2 3782.7 184.5 3778.7 184.9 3774.8 185.2 3770.8 185.5 3766.8 185.9 3762.8 186.2 3758.8 186.5 3754.8 186.9 3750.8 187.2 3746.8 187.6 3742.9 187.9 3738.9 188.3 3734.9 188.6 3730.9 189.0 3726.9 189.4 3722.9 189.8 3718.9 190.1 3715.0 190.5 3711.0 190.9 3707.0 191.3 3703.0 191.7 3699.0 192.1 3695.1 192.5 3691.1 193.0 3687.1 193.5 3683.1 194.0 3679.2 194.5 3675.2 194.9 3671.2 195.4 3667.2 195.9 3663.3 196.4 3659.3 196.9 3655.3 197.4 3651.4 197.8 3647.4 198.2 3643.4 198.5 3639.4 198.9 3635.4 199.3 3631.4 199.6 3627.5 200.0 3623.5 200.3 3619.5 200.7 3615.5 201.0 3611.5 201.4 3607.5 201.8 3603.5 202.1 3599.6 202.5 3595.6 202.9 3591.6 203.3 3587.6 203.6 3583.6 204.0 3579.6 204.4 3575.7 204.8 3571.7 205.2 3567.7 205.6 3563.7 206.1 3559.7 206.6 3555.8 207.2 3551.8 207.8 3547.9 208.4 3543.9 208.9 3539.9 209.5 3536.0 210.1 3532.0 210.8 3528.1 211.5 3524.1 212.2 3520.2 212.9 3516.3 213.6 3512.3 214.3 3508.4 215.0 3504.4 215.8 3500.5 216.5 3496.6 217.3 3492.7 218.1 3488.7 218.8 3484.8 219.6 3480.9 220.4 3477.0 221.2 3473.0 222.1 3469.1 223.0 3465.2 223.8 3461.3 224.7 3457.4 225.6 3453.5 226.6 3449.6 227.5 3445.8 228.6 3441.9 229.6 3438.0 230.6 3434.2 231.7 3430.3 232.8 3426.5 233.9 3422.6 235.1 3418.8 236.3 3415.0 237.6 3411.2 238.9 3407.4 240.4 3403.7 241.9 3400.0 243.4 3396.3 245.0 3392.6 246.7 3389.0 248.5 3385.4 250.4 3381.9 252.3 3378.4 254.3 3374.9 256.3 3371.5 258.4 3368.0 260.5 3364.7 262.8 3361.3 265.1 3358.1 267.4 3354.8 269.9 3351.7 272.4 3348.6 275.1 3345.6 277.8 3342.7 280.6 3339.8 283.5 3337.0 286.4 3334.4 289.5 3331.8 292.6 3329.4 296.0 3327.1 299.4 3325.1 302.9 3323.3 306.6 3321.6 310.3 3320.1 314.0 3318.7 317.8 3317.3 321.5 3315.8 325.2 3314.4 328.9 3312.8 332.6 3311.2 336.2 3309.6 339.9 3308.0 343.5 3306.3 347.2 3304.7 350.9 3303.2 354.6 3301.6 358.3 3300.2 362.0 3298.8 365.8 3297.4 369.6 3296.1 373.4 3294.8 377.2 3293.5 381.0 3292.2 384.8 3291.0 388.6 3289.8 392.4 3288.7 396.3 3287.7 400.2 3286.8 404.1 3286.0 408.0 3285.3 412.0 3284.6 416.0 3284.0 419.9 3283.5 423.9 3283.0 427.9 3282.5 431.8 3282.0 435.8 3281.6 439.8 3281.2 443.8 3280.8 447.8 3280.4 451.7 3280.0 455.7 3279.6 459.7 3279.3 463.7 3279.0 467.7 3278.6 471.7 3278.3 475.7 3278.0 479.6 3277.6 483.6 3277.3 487.6 3277.0 491.6 3276.6 495.6 3276.3 499.6 3275.9 503.6 3275.6 507.6 3275.2 511.5 3274.9 515.5 3274.6 519.5 3274.3 523.5 3274.0 527.5 3273.6 531.5 3273.3 535.5 3273.0 539.5 3272.7 543.5 3272.4 547.4 3272.1 551.4 3271.9 555.4 3271.6 559.4 3271.3 563.4 3271.1 567.4 3270.8 571.4 3270.6 575.4 3270.3 579.4 3270.1 583.4 3269.9 587.4 3269.6 591.4 3269.4 595.4 3269.2 599.4 3269.0 603.4 3268.8 607.4 3268.6 611.4 3268.4 615.4 3268.2 619.4 3268.0 623.4 3267.8 627.3 3267.6 631.3 3267.4 635.3 3267.2 639.3 3267.0 643.3 3266.8 647.3 3266.6 651.3 3266.4 655.3 3266.2 659.3 3266.0 663.3 3265.8 667.3 3265.6 671.3 3265.3 675.3 3265.1 679.3 3264.9 683.3 3264.7 687.3 3264.4 691.3 3264.2 695.3 3264.0 699.3 3263.8 703.3 3263.6 707.3 3263.4 711.3 3263.2 715.3 3263.0 719.3 3262.8 723.3 3262.6 727.3 3262.4 731.3 3262.3 735.2 3262.1 739.2 3262.0 743.2 3261.9 747.2 3261.8 751.2 3261.6 755.2 3261.5 759.2 3261.4 763.2 3261.3 767.2 3261.2 771.2 3261.1 775.2 3261.0 779.2 3260.9 783.2 3260.8 787.2 3260.7 791.2 3260.6 795.2 3260.5 799.2 3260.4 803.3 3260.3 807.3 3260.3 811.3 3260.2 815.3 3260.1 819.3 3260.0 823.3 3260.0 827.3 3259.9 831.3 3259.8 835.3 3259.7 839.3 3259.7 843.3 3259.6 847.3 3259.6 851.3 3259.5 855.3 3259.4 859.3 3259.4 863.3 3259.3 867.3 3259.3 871.3 3259.2 875.3 3259.2 879.3 3259.1 883.3 3259.1 887.3 3259.0 891.3 3258.9 895.3 3258.9 899.3 3258.8 903.3 3258.8 907.3 3258.8 911.3 3258.7 915.3 3258.7 919.3 3258.6 923.3 3258.6 927.3 3258.5 931.3 3258.5 935.3 3258.4 939.3 3258.4 943.3 3258.4 947.3 3258.3 951.3 3258.3 955.3 3258.2 959.3 3258.2 963.3 3258.2 967.3 3258.1 971.3 3258.1 975.3 3258.0 977.3 3258.0" stroke="#00ff00" stroke-dasharray="22.5,9.73"/>
<path d="M164.0 4042.5 164.1 4041.5 164.4 4037.5 164.7 4033.6 165.0 4029.6 165.3 4025.6 165.6 4021.6 165.9 4017.6 166.2 4013.6 166.6 4009.6 166.9 4005.6 167.2 4001.6 167.5 3997.6 167.8 3993.7 168.1 3989.7 168.4 3985.7 168.7 3981.7 169.1 3977.7 169.4 3973.7 169.7 3969.7 170.0 3965.7 170.3 3961.7 170.6 3957.8 170.9 3953.8 171.3 3949.8 171.6 3945.8 171.9 3941.8 172.2 3937.8 172.5 3933.8 172.9 3929.8 173.2 3925.8 173.5 3921.9 173.8 3917.9 174.1 3913.9 174.5 3909.9 174.8 3905.9 175.1 3901.9 175.4 3897.9 175.7 3893.9 176.0 3889.9 176.4 3886.0 176.7 3882.0 177.0 3878.0 177.3 3874.0 177.6 3870.0 177.9 3866.0 178.2 3862.0 178.6 3858.0 178.9 3854.0 179.2 3850.0 179.5 3846.1 179.8 3842.1 180.1 3838.1 180.4 3834.1 180.7 3830.1 181.0 3826.1 181.3 3822.1 181.7 3818.1 182.0 3814.1 182.3 3810.1 182.6 3806.2 182.9 3802.2 183.2 3798.2 183.6 3794.2 183.9 3790.2 184.2 3786.2 184.5 3782.2 184.9 3778.2 185.2 3774.3 185.5 3770.3 185.9 3766.3 186.2 3762.3 186.5 3758.3 186.9 3754.3 187.2 3750.3 187.6 3746.3 187.9 3742.4 188.3 3738.4 188.6 3734.4 189.0 3730.4 189.4 3726.4 189.8 3722.4 190.1 3718.4 190.5 3714.5 190.9 3710.5 191.3 3706.5 191.7 3702.5 192.1 3698.5 192.5 3694.6 193.0 3690.6 193.5 3686.6 194.0 3682.6 194.5 3678.7 195.0 3674.7 195.4 3670.7 195.9 3666.8 196.4 3662.8 196.9 3658.8 197.4 3654.8 197.8 3650.9 198.2 3646.9 198.5 3642.9 198.9 3638.9 199.3 3634.9 199.6 3630.9 200.0 3626.9 200.3 3623.0 200.7 3619.0 201.0 3615.0 201.4 3611.0 201.8 3607.0 202.1 3603.0 202.5 3599.1 202.9 3595.1 203.3 3591.1 203.6 3587.1 204.0 3583.1 204.4 3579.1 204.8 3575.2 205.2 3571.2 205.6 3567.2 206.1 3563.2 206.6 3559.3 207.2 3555.3 207.8 3551.3 208.4 3547.4 208.9 3543.4 209.5 3539.5 210.1 3535.5 210.8 3531.6 211.5 3527.6 212.2 3523.7 212.9 3519.7 213.6 3515.8 214.3 3511.9 215.0 3507.9 215.8 3504.0 216.5 3500.1 217.3 3496.1 218.1 3492.2 218.8 3488.3 219.6 3484.4 220.4 3480.4 221.2 3476.5 222.1 3472.6 223.0 3468.7 223.9 3464.8 224.7 3460.9 225.6 3457.0 226.6 3453.1 227.6 3449.2 228.6 3445.4 229.6 3441.5 230.6 3437.6 231.7 3433.8 232.8 3429.9 233.9 3426.1 235.1 3422.3 236.3 3418.5 237.6 3414.7 239.0 3410.9 240.4 3407.2 241.8 3403.4 243.4 3399.8 245.0 3396.1 246.7 3392.5 248.4 3388.9 250.3 3385.3 252.2 3381.8 254.2 3378.4 256.4 3375.0 258.6 3371.7 261.0 3368.5 263.4 3365.3 266.0 3362.3 268.7 3359.3 271.4 3356.3 274.2 3353.5 277.0 3350.7 279.9 3347.9 282.9 3345.3 286.0 3342.7 289.2 3340.3 292.4 3338.0 295.8 3335.8 299.2 3333.7 302.7 3331.7 306.2 3329.8 309.7 3327.9 313.3 3326.2 316.9 3324.4 320.5 3322.7 324.2 3321.0 327.8 3319.4 331.4 3317.7 335.1 3316.0 338.7 3314.3 342.3 3312.7 346.0 3311.1 349.7 3309.5 353.4 3308.0 357.1 3306.6 360.9 3305.3 364.7 3304.1 368.6 3302.9 372.4 3301.8 376.3 3300.8 380.1 3299.8 384.0 3298.8 387.9 3297.9 391.8 3297.0 395.7 3296.1 399.6 3295.3 403.6 3294.5 407.5 3293.7 411.4 3292.9 415.3 3292.2 419.3 3291.5 423.2 3290.7 427.1 3290.0 431.1 3289.3 435.0 3288.6 439.0 3288.0 442.9 3287.3 446.9 3286.7 450.8 3286.1 454.8 3285.5 458.7 3284.9 462.7 3284.3 466.7 3283.7 470.6 3283.2 474.6 3282.7 478.6 3282.2 482.5 3281.8 486.5 3281.3 490.5 3280.9 494.5 3280.5 498.5 3280.1 502.4 3279.7 506.4 3279.3 510.4 3279.0 514.4 3278.6 518.4 3278.3 522.4 3278.0 526.4 3277.6 530.4 3277.3 534.3 3277.0 538.3 3276.7 542.3 3276.5 546.3 3276.2 550.3 3275.9 554.3 3275.7 558.3 3275.4 562.3 3275.2 566.3 3275.0 570.3 3274.7 574.3 3274.5 578.3 3274.3 582.3 3274.1 586.3 3273.9 590.3 3273.8 594.3 3273.6 598.3 3273.4 602.3 3273.3 606.3 3273.1 610.3 3272.9 614.3 3272.8 618.3 3272.6 622.3 3272.5 626.3 3272.3 630.3 3272.2 634.3 3272.0 638.3 3271.9 642.3 3271.8 646.3 3271.6 650.3 3271.5 654.3 3271.3 658.3 3271.2 662.3 3271.0 666.2 3270.8 670.2 3270.7 674.2 3270.5 678.2 3270.4 682.2 3270.2 686.2 3270.1 690.2 3270.0 694.2 3269.8 698.2 3269.7 702.2 3269.5 706.2 3269.4 710.2 3269.2 714.2 3269.1 718.2 3269.0 722.2 3268.9 726.2 3268.7 730.2 3268.6 734.2 3268.5 738.2 3268.3 742.2 3268.2 746.2 3268.1 750.2 3268.0 754.2 3267.8 758.2 3267.7 762.2 3267.5 766.2 3267.4 770.2 3267.3 774.2 3267.1 778.2 3267.0 782.2 3266.9 786.2 3266.8 790.2 3266.7 794.2 3266.6 798.2 3266.6 802.2 3266.5 806.2 3266.5 810.2 3266.4 814.2 3266.4 818.2 3266.4 822.2 3266.4 826.2 3266.4 830.2 3266.4 834.2 3266.4 838.2 3266.4 842.2 3266.4 846.3 3266.4 850.3 3266.4 854.3 3266.4 858.3 3266.4 862.3 3266.4 866.3 3266.4 870.3 3266.4 874.3 3266.4 878.3 3266.4 882.3 3266.4 886.3 3266.4 890.3 3266.4 894.3 3266.4 898.3 3266.4 902.3 3266.4 906.3 3266.4 910.3 3266.4 914.3 3266.3 918.3 3266.3 922.3 3266.2 926.3 3266.2 930.3 3266.2 934.3 3266.1 938.3 3266.1 942.3 3266.0 946.3 3265.9 950.3 3265.9 954.3 3265.8 958.3 3265.8 962.3 3265.7 966.3 3265.7 970.3 3265.6 974.3 3265.6 977.3 3265.5" stroke="#ff00ff" stroke-dasharray="6.08,10.03"/>
<path d="M164.0 4039.0 164.2 4038.0 164.8 4034.1 165.4 4030.1 166.1 4026.2 166.7 4022.2 167.3 4018.3 167.9 4014.3 168.4 4010.4 169.0 4006.4 169.6 4002.5 170.2 3998.5 170.8 3994.5 171.3 3990.6 171.8 3986.6 172.4 3982.6 172.9 3978.7 173.4 3974.7 173.9 3970.7 174.4 3966.8 174.9 3962.8 175.4 3958.8 175.8 3954.9 176.2 3950.9 176.6 3946.9 176.9 3942.9 177.3 3938.9 177.7 3934.9 178.1 3931.0 178.4 3927.0 178.8 3923.0 179.2 3919.0 179.5 3915.0 179.9 3911.0 180.2 3907.1 180.6 3903.1 180.9 3899.1 181.3 3895.1 181.6 3891.1 181.9 3887.1 182.3 3883.1 182.6 3879.2 182.9 3875.2 183.3 3871.2 183.6 3867.2 184.0 3863.2 184.3 3859.2 184.7 3855.2 185.0 3851.3 185.3 3847.3 185.7 3843.3 186.0 3839.3 186.4 3835.3 186.7 3831.3 187.1 3827.3 187.4 3823.4 187.8 3819.4 188.2 3815.4 188.5 3811.4 188.9 3807.4 189.3 3803.4 189.6 3799.5 190.0 3795.5 190.4 3791.5 190.7 3787.5 191.1 3783.5 191.6 3779.5 192.0 3775.6 192.4 3771.6 192.9 3767.6 193.3 3763.6 193.8 3759.7 194.2 3755.7 194.7 3751.7 195.1 3747.7 195.6 3743.8 196.0 3739.8 196.5 3735.8 197.0 3731.9 197.5 3727.9 198.0 3723.9 198.5 3719.9 199.0 3716.0 199.5 3712.0 200.0 3708.0 200.5 3704.1 201.0 3700.1 201.5 3696.1 202.0 3692.2 202.5 3688.2 203.1 3684.2 203.6 3680.3 204.1 3676.3 204.7 3672.3 205.2 3668.4 205.8 3664.4 206.3 3660.5 206.9 3656.5 207.4 3652.5 208.0 3648.6 208.6 3644.6 209.2 3640.7 209.7 3636.7 210.3 3632.7 210.9 3628.8 211.5 3624.8 212.1 3620.9 212.6 3616.9 213.2 3613.0 213.8 3609.0 214.4 3605.0 215.1 3601.1 215.7 3597.1 216.4 3593.2 217.0 3589.2 217.6 3585.3 218.3 3581.4 218.9 3577.4 219.6 3573.5 220.3 3569.5 221.0 3565.6 221.8 3561.7 222.5 3557.7 223.3 3553.8 224.1 3549.9 224.9 3546.0 225.7 3542.0 226.5 3538.1 227.3 3534.2 228.2 3530.3 229.1 3526.4 230.0 3522.5 230.9 3518.6 231.8 3514.7 232.7 3510.8 233.7 3506.9 234.7 3503.1 235.7 3499.2 236.7 3495.3 237.8 3491.5 238.8 3487.6 239.9 3483.8 241.0 3479.9 242.2 3476.1 243.3 3472.3 244.5 3468.5 245.8 3464.6 247.0 3460.8 248.3 3457.1 249.6 3453.3 251.0 3449.5 252.4 3445.8 253.9 3442.1 255.4 3438.4 257.0 3434.7 258.7 3431.1 260.5 3427.5 262.3 3424.0 264.2 3420.4 266.2 3417.0 268.3 3413.5 270.4 3410.2 272.6 3406.8 274.9 3403.5 277.2 3400.3 279.7 3397.1 282.2 3394.0 284.8 3391.0 287.4 3388.0 290.1 3385.0 292.8 3382.0 295.4 3379.0 298.1 3376.1 300.7 3373.0 303.3 3370.0 305.9 3366.9 308.5 3363.9 311.1 3360.9 313.7 3357.9 316.4 3354.9 319.2 3352.0 322.0 3349.2 324.9 3346.5 328.0 3343.8 331.0 3341.3 334.1 3338.8 337.3 3336.3 340.5 3333.9 343.8 3331.6 347.1 3329.4 350.4 3327.2 353.9 3325.1 357.3 3323.2 360.9 3321.3 364.5 3319.6 368.1 3317.9 371.8 3316.3 375.5 3314.7 379.2 3313.2 382.9 3311.8 386.7 3310.4 390.4 3309.2 394.3 3307.9 398.1 3306.8 401.9 3305.6 405.8 3304.6 409.7 3303.6 413.6 3302.7 417.4 3301.8 421.4 3300.9 425.3 3300.1 429.2 3299.3 433.1 3298.5 437.0 3297.8 441.0 3297.1 444.9 3296.4 448.9 3295.7 452.8 3295.0 456.8 3294.4 460.7 3293.7 464.7 3293.1 468.6 3292.5 472.6 3291.9 476.5 3291.3 480.5 3290.7 484.4 3290.1 488.4 3289.5 492.3 3288.9 496.3 3288.4 500.3 3287.8 504.2 3287.2 508.2 3286.6 512.1 3286.1 516.1 3285.5 520.1 3285.0 524.0 3284.4 528.0 3283.9 532.0 3283.4 535.9 3282.8 539.9 3282.3 543.9 3281.9 547.8 3281.4 551.8 3280.9 555.8 3280.5 559.8 3280.0 563.7 3279.6 567.7 3279.2 571.7 3278.8 575.7 3278.4 579.7 3278.1 583.6 3277.7 587.6 3277.3 591.6 3277.0 595.6 3276.7 599.6 3276.3 603.6 3276.0 607.6 3275.7 611.6 3275.4 615.5 3275.1 619.5 3274.8 623.5 3274.5 627.5 3274.2 631.5 3273.9 635.5 3273.7 639.5 3273.4 643.5 3273.2 647.5 3272.9 651.5 3272.6 655.5 3272.4 659.4 3272.2 663.4 3271.9 667.4 3271.7 671.4 3271.5 675.4 3271.2 679.4 3271.0 683.4 3270.8 687.4 3270.6 691.4 3270.4 695.4 3270.1 699.4 3269.9 703.4 3269.8 707.4 3269.6 711.4 3269.4 715.4 3269.2 719.4 3269.0 723.4 3268.9 727.4 3268.7 731.4 3268.6 735.4 3268.4 739.4 3268.3 743.4 3268.2 747.4 3268.1 751.4 3268.0 755.4 3267.8 759.4 3267.7 763.3 3267.6 767.3 3267.5 771.3 3267.4 775.3 3267.3 779.3 3267.2 783.3 3267.2 787.3 3267.1 791.3 3267.0 795.3 3266.9 799.3 3266.8 803.3 3266.7 807.3 3266.6 811.3 3266.5 815.3 3266.4 819.3 3266.3 823.3 3266.2 827.3 3266.1 831.3 3266.0 835.3 3265.9 839.3 3265.8 843.3 3265.7 847.3 3265.6 851.3 3265.5 855.3 3265.4 859.3 3265.3 863.3 3265.2 867.3 3265.0 871.3 3264.9 875.3 3264.8 879.3 3264.7 883.3 3264.6 887.3 3264.5 891.3 3264.4 895.3 3264.3 899.3 3264.2 903.3 3264.1 907.3 3264.0 911.3 3263.9 915.3 3263.8 919.3 3263.7 923.3 3263.6 927.3 3263.5 931.3 3263.4 935.3 3263.3 939.3 3263.2 943.3 3263.1 947.3 3263.0 951.3 3262.9 955.3 3262.8 959.3 3262.7 963.3 3262.6 967.3 3262.5 971.3 3262.4 975.3 3262.3 977.3 3262.2" stroke="#ffff00" stroke-linecap="square"/>
<path d="M164.0 4039.0 164.2 4038.0 164.8 4034.1 165.4 4030.1 166.1 4026.2 166.7 4022.2 167.3 4018.3 167.9 4014.3 168.4 4010.4 169.0 4006.4 169.6 4002.5 170.2 3998.5 170.8 3994.5 171.3 3990.6 171.8 3986.6 172.4 3982.6 172.9 3978.7 173.4 3974.7 173.9 3970.7 174.4 3966.8 174.9 3962.8 175.4 3958.8 175.8 3954.9 176.2 3950.9 176.6 3946.9 176.9 3942.9 177.3 3938.9 177.7 3935.0 178.1 3931.0 178.4 3927.0 178.8 3923.0 179.2 3919.0 179.5 3915.0 179.9 3911.1 180.2 3907.1 180.6 3903.1 180.9 3899.1 181.3 3895.1 181.6 3891.1 181.9 3887.1 182.3 3883.2 182.6 3879.2 182.9 3875.2 183.3 3871.2 183.6 3867.2 184.0 3863.2 184.3 3859.2 184.7 3855.3 185.0 3851.3 185.3 3847.3 185.7 3843.3 186.0 3839.3 186.4 3835.3 186.7 3831.3 187.1 3827.4 187.4 3823.4 187.8 3819.4 188.2 3815.4 188.5 3811.4 188.9 3807.4 189.3 3803.5 189.6 3799.5 190.0 3795.5 190.4 3791.5 190.7 3787.5 191.1 3783.5 191.6 3779.6 192.0 3775.6 192.4 3771.6 192.9 3767.6 193.3 3763.7 193.8 3759.7 194.2 3755.7 194.7 3751.7 195.1 3747.8 195.6 3743.8 196.0 3739.8 196.5 3735.9 197.0 3731.9 197.5 3727.9 198.0 3723.9 198.5 3720.0 199.0 3716.0 199.5 3712.0 200.0 3708.1 200.5 3704.1 201.0 3700.1 201.5 3696.2 202.0 3692.2 202.5 3688.2 203.1 3684.3 203.6 3680.3 204.1 3676.3 204.7 3672.4 205.2 3668.4 205.8 3664.4 206.3 3660.5 206.9 3656.5 207.4 3652.6 208.0 3648.6 208.6 3644.6 209.2 3640.7 209.7 3636.7 210.3 3632.8 210.9 3628.8 211.5 3624.9 212.0 3620.9 212.6 3616.9 213.2 3613.0 213.8 3609.0 214.4 3605.1 215.1 3601.1 215.7 3597.2 216.4 3593.2 217.0 3589.3 217.6 3585.3 218.3 3581.4 218.9 3577.4 219.6 3573.5 220.3 3569.6 221.0 3565.6 221.7 3561.7 222.5 3557.8 223.2 3553.8 224.0 3549.9 224.8 3546.0 225.6 3542.1 226.4 3538.2 227.3 3534.3 228.2 3530.4 229.1 3526.5 230.1 3522.6 231.1 3518.7 232.2 3514.9 233.2 3511.0 234.3 3507.2 235.5 3503.3 236.7 3499.5 237.9 3495.7 239.2 3491.9 240.5 3488.1 241.8 3484.4 243.3 3480.6 244.8 3476.9 246.3 3473.3 247.9 3469.6 249.6 3466.0 251.3 3462.3 253.1 3458.7 254.8 3455.1 256.5 3451.5 258.3 3447.9 260.0 3444.3 261.6 3440.7 263.3 3437.0 264.9 3433.4 266.5 3429.7 268.2 3426.1 269.8 3422.4 271.5 3418.8 273.3 3415.2 275.1 3411.6 277.0 3408.1 279.0 3404.7 281.0 3401.2 283.2 3397.9 285.5 3394.6 287.8 3391.4 290.2 3388.2 292.7 3385.0 295.2 3381.9 297.8 3378.9 300.4 3375.9 303.1 3372.9 305.8 3369.9 308.5 3367.0 311.3 3364.1 314.1 3361.2 317.0 3358.5 319.9 3355.8 323.0 3353.2 326.1 3350.8 329.4 3348.5 332.7 3346.3 336.1 3344.1 339.6 3342.1 343.1 3340.2 346.6 3338.3 350.1 3336.4 353.7 3334.6 357.3 3332.8 360.8 3331.0 364.4 3329.2 367.9 3327.3 371.5 3325.5 375.1 3323.7 378.6 3321.9 382.2 3320.1 385.8 3318.4 389.5 3316.8 393.2 3315.3 396.9 3313.8 400.7 3312.5 404.5 3311.3 408.4 3310.3 412.3 3309.4 416.2 3308.5 420.1 3307.7 424.0 3306.9 427.9 3306.2 431.9 3305.6 435.8 3304.9 439.8 3304.3 443.7 3303.7 447.7 3303.1 451.7 3302.6 455.6 3302.1 459.6 3301.6 463.6 3301.0 467.5 3300.5 471.5 3300.0 475.5 3299.5 479.4 3299.0 483.4 3298.5 487.4 3298.0 491.3 3297.4 495.3 3296.9 499.3 3296.3 503.2 3295.7 507.2 3295.2 511.1 3294.6 515.1 3294.0 519.0 3293.5 523.0 3292.9 527.0 3292.4 530.9 3291.8 534.9 3291.3 538.9 3290.8 542.8 3290.3 546.8 3289.8 550.8 3289.3 554.8 3288.9 558.7 3288.4 562.7 3288.0 566.7 3287.7 570.7 3287.3 574.7 3287.0 578.6 3286.7 582.6 3286.4 586.6 3286.1 590.6 3285.8 594.6 3285.5 598.6 3285.2 602.6 3285.0 606.6 3284.7 610.6 3284.5 614.6 3284.2 618.6 3284.0 622.6 3283.8 626.5 3283.5 630.5 3283.3 634.5 3283.1 638.5 3282.9 642.5 3282.7 646.5 3282.5 650.5 3282.3 654.5 3282.1 658.5 3281.9 662.5 3281.7 666.5 3281.6 670.5 3281.4 674.5 3281.2 678.5 3281.0 682.5 3280.9 686.5 3280.7 690.5 3280.6 694.5 3280.4 698.5 3280.3 702.5 3280.1 706.5 3280.0 710.5 3279.8 714.5 3279.6 718.5 3279.5 722.5 3279.3 726.5 3279.2 730.4 3279.0 734.4 3278.9 738.4 3278.7 742.4 3278.5 746.4 3278.4 750.4 3278.2 754.4 3278.0 758.4 3277.9 762.4 3277.7 766.4 3277.5 770.4 3277.4 774.4 3277.2 778.4 3277.0 782.4 3276.9 786.4 3276.7 790.4 3276.5 794.4 3276.4 798.4 3276.2 802.4 3276.1 806.4 3275.9 810.4 3275.8 814.4 3275.6 818.4 3275.4 822.4 3275.3 826.4 3275.1 830.4 3275.0 834.4 3274.8 838.4 3274.7 842.4 3274.5 846.4 3274.4 850.4 3274.2 854.3 3274.0 858.3 3273.9 862.3 3273.7 866.3 3273.6 870.3 3273.5 874.3 3273.3 878.3 3273.2 882.3 3273.0 886.3 3272.9 890.3 3272.8 894.3 3272.7 898.3 3272.5 902.3 3272.4 906.3 3272.3 910.3 3272.2 914.3 3272.1 918.3 3272.0 922.3 3271.9 926.3 3271.8 930.3 3271.7 934.3 3271.6 938.3 3271.5 942.3 3271.4 946.3 3271.3 950.3 3271.2 954.3 3271.1 958.3 3271.1 962.3 3271.0 966.3 3270.9 970.3 3270.8 974.3 3270.7 977.3 3270.6" stroke="#00a2e8" stroke-dasharray="22.5,9.73"/>
<path d="M164.0 4039.0 164.2 4038.0 164.8 4034.1 165.4 4030.1 166.0 4026.2 166.7 4022.2 167.3 4018.3 167.9 4014.3 168.6 4010.4 169.2 4006.4 169.8 4002.5 170.4 3998.5 171.1 3994.6 171.7 3990.6 172.3 3986.7 172.8 3982.7 173.4 3978.7 173.9 3974.8 174.4 3970.8 175.0 3966.8 175.5 3962.9 176.0 3958.9 176.4 3954.9 176.9 3950.9 177.3 3946.9 177.7 3943.0 178.0 3939.0 178.4 3935.0 178.8 3931.0 179.2 3927.0 179.6 3923.1 180.0 3919.1 180.4 3915.1 180.7 3911.1 181.1 3907.1 181.4 3903.1 181.8 3899.1 182.1 3895.2 182.5 3891.2 182.8 3887.2 183.2 3883.2 183.5 3879.2 183.9 3875.2 184.3 3871.2 184.6 3867.2 185.0 3863.3 185.3 3859.3 185.7 3855.3 186.0 3851.3 186.4 3847.3 186.8 3843.3 187.1 3839.3 187.5 3835.4 187.8 3831.4 188.2 3827.4 188.6 3823.4 189.0 3819.4 189.3 3815.4 189.7 3811.5 190.1 3807.5 190.5 3803.5 190.9 3799.5 191.3 3795.5 191.6 3791.5 192.0 3787.5 192.4 3783.6 192.9 3779.6 193.3 3775.6 193.7 3771.6 194.2 3767.7 194.6 3763.7 195.1 3759.7 195.5 3755.7 196.0 3751.7 196.4 3747.8 196.9 3743.8 197.3 3739.8 197.8 3735.8 198.3 3731.9 198.8 3727.9 199.3 3723.9 199.9 3720.0 200.4 3716.0 200.9 3712.0 201.4 3708.1 201.9 3704.1 202.4 3700.1 203.0 3696.2 203.6 3692.2 204.1 3688.2 204.7 3684.3 205.4 3680.3 206.0 3676.4 206.6 3672.4 207.2 3668.5 207.8 3664.5 208.5 3660.6 209.1 3656.6 209.8 3652.7 210.4 3648.7 211.0 3644.8 211.7 3640.8 212.3 3636.9 212.9 3632.9 213.5 3628.9 214.1 3625.0 214.7 3621.0 215.4 3617.1 216.0 3613.1 216.6 3609.2 217.2 3605.2 217.9 3601.3 218.5 3597.3 219.2 3593.4 219.9 3589.4 220.5 3585.5 221.2 3581.5 221.9 3577.6 222.7 3573.7 223.4 3569.7 224.1 3565.8 224.9 3561.9 225.7 3558.0 226.5 3554.0 227.3 3550.1 228.1 3546.2 228.9 3542.3 229.8 3538.4 230.6 3534.5 231.5 3530.6 232.5 3526.7 233.5 3522.8 234.5 3518.9 235.5 3515.1 236.6 3511.2 237.7 3507.4 238.9 3503.5 240.1 3499.7 241.3 3495.9 242.6 3492.1 243.9 3488.3 245.2 3484.6 246.6 3480.8 248.1 3477.1 249.6 3473.4 251.1 3469.7 252.8 3466.0 254.5 3462.4 256.4 3458.9 258.4 3455.4 260.4 3452.0 262.6 3448.7 264.9 3445.4 267.3 3442.2 269.8 3439.0 272.3 3435.9 274.8 3432.8 277.3 3429.7 279.8 3426.6 282.3 3423.4 284.8 3420.3 287.3 3417.1 289.7 3414.0 292.2 3410.9 294.8 3407.8 297.4 3404.8 300.1 3401.8 302.9 3398.9 305.8 3396.2 308.8 3393.6 311.9 3391.1 315.1 3388.7 318.4 3386.4 321.7 3384.2 325.1 3382.1 328.5 3380.0 332.0 3378.0 335.5 3376.0 338.9 3374.0 342.5 3372.1 346.0 3370.2 349.5 3368.4 353.1 3366.6 356.7 3364.8 360.3 3363.1 363.9 3361.4 367.5 3359.6 371.1 3357.9 374.7 3356.1 378.3 3354.4 381.9 3352.6 385.5 3350.8 389.1 3349.1 392.8 3347.5 396.5 3345.9 400.2 3344.4 403.9 3343.1 407.7 3341.9 411.6 3340.7 415.4 3339.7 419.3 3338.7 423.2 3337.7 427.1 3336.8 431.0 3335.9 434.9 3335.0 438.8 3334.2 442.7 3333.4 446.7 3332.6 450.6 3331.9 454.5 3331.2 458.5 3330.5 462.4 3329.8 466.4 3329.1 470.3 3328.5 474.3 3327.9 478.2 3327.3 482.2 3326.8 486.2 3326.2 490.1 3325.7 494.1 3325.1 498.1 3324.6 502.0 3324.1 506.0 3323.6 510.0 3323.2 514.0 3322.7 517.9 3322.3 521.9 3321.8 525.9 3321.4 529.9 3321.0 533.9 3320.6 537.8 3320.2 541.8 3319.8 545.8 3319.5 549.8 3319.1 553.8 3318.8 557.8 3318.4 561.8 3318.1 565.7 3317.8 569.7 3317.5 573.7 3317.2 577.7 3316.9 581.7 3316.6 585.7 3316.3 589.7 3316.1 593.7 3315.8 597.7 3315.6 601.7 3315.3 605.7 3315.1 609.7 3314.9 613.7 3314.7 617.7 3314.4 621.7 3314.2 625.7 3314.0 629.6 3313.8 633.6 3313.5 637.6 3313.3 641.6 3313.1 645.6 3312.8 649.6 3312.5 653.6 3312.3 657.6 3312.0 661.6 3311.7 665.6 3311.4 669.6 3311.1 673.6 3310.8 677.6 3310.4 681.5 3310.1 685.5 3309.8 689.5 3309.4 693.5 3309.1 697.5 3308.8 701.5 3308.4 705.5 3308.1 709.5 3307.8 713.5 3307.5 717.4 3307.2 721.4 3306.9 725.4 3306.6 729.4 3306.4 733.4 3306.1 737.4 3305.9 741.4 3305.6 745.4 3305.4 749.4 3305.2 753.4 3304.9 757.4 3304.7 761.4 3304.5 765.4 3304.3 769.4 3304.1 773.4 3303.9 777.4 3303.7 781.4 3303.5 785.4 3303.3 789.4 3303.1 793.4 3303.0 797.4 3302.8 801.4 3302.6 805.4 3302.4 809.4 3302.2 813.4 3302.0 817.3 3301.8 821.3 3301.5 825.3 3301.3 829.3 3301.1 833.3 3300.9 837.3 3300.6 841.3 3300.4 845.3 3300.2 849.3 3300.0 853.3 3299.7 857.3 3299.5 861.3 3299.3 865.3 3299.1 869.3 3298.9 873.3 3298.7 877.3 3298.5 881.3 3298.3 885.3 3298.1 889.3 3298.0 893.3 3297.8 897.3 3297.7 901.3 3297.5 905.3 3297.4 909.3 3297.3 913.3 3297.2 917.3 3297.1 921.3 3297.0 925.3 3296.9 929.3 3296.8 933.3 3296.7 937.3 3296.6 941.3 3296.5 945.3 3296.4 949.3 3296.3 953.3 3296.2 957.3 3296.2 961.3 3296.1 965.3 3296.0 969.3 3295.9 973.3 3295.8 977.3 3295.7" stroke="#808080" stroke-dasharray="6.08,10.03"/>
<path d="M164.0 4039.0 164.2 4038.0 164.8 4034.1 165.4 4030.1 166.1 4026.2 166.7 4022.2 167.3 4018.3 167.9 4014.3 168.5 4010.4 169.0 4006.4 169.6 4002.4 170.2 3998.5 170.8 3994.5 171.3 3990.6 171.8 3986.6 172.4 3982.6 172.9 3978.6 173.4 3974.7 173.9 3970.7 174.4 3966.7 174.9 3962.8 175.4 3958.8 175.8 3954.8 176.2 3950.8 176.6 3946.8 177.0 3942.9 177.3 3938.9 177.7 3934.9 178.1 3930.9 178.5 3926.9 178.8 3922.9 179.2 3919.0 179.6 3915.0 179.9 3911.0 180.2 3907.0 180.6 3903.0 180.9 3899.0 181.3 3895.0 181.6 3891.0 181.9 3887.1 182.3 3883.1 182.6 3879.1 183.0 3875.1 183.3 3871.1 183.6 3867.1 184.0 3863.1 184.3 3859.1 184.7 3855.2 185.0 3851.2 185.4 3847.2 185.7 3843.2 186.0 3839.2 186.4 3835.2 186.7 3831.2 187.1 3827.2 187.4 3823.3 187.8 3819.3 188.2 3815.3 188.5 3811.3 188.9 3807.3 189.3 3803.3 189.6 3799.3 190.0 3795.4 190.4 3791.4 190.8 3787.4 191.2 3783.4 191.6 3779.4 192.0 3775.4 192.5 3771.5 192.9 3767.5 193.3 3763.5 193.8 3759.5 194.2 3755.6 194.7 3751.6 195.1 3747.6 195.6 3743.6 196.0 3739.6 196.5 3735.7 197.0 3731.7 197.5 3727.7 198.0 3723.8 198.5 3719.8 199.0 3715.8 199.5 3711.8 200.0 3707.9 200.5 3703.9 201.0 3699.9 201.5 3696.0 202.0 3692.0 202.6 3688.0 203.1 3684.1 203.6 3680.1 204.2 3676.1 204.7 3672.2 205.2 3668.2 205.8 3664.2 206.3 3660.3 206.9 3656.3 207.5 3652.3 208.0 3648.4 208.6 3644.4 209.2 3640.5 209.8 3636.5 210.3 3632.5 210.9 3628.6 211.5 3624.6 212.1 3620.7 212.7 3616.7 213.3 3612.7 213.9 3608.8 214.5 3604.8 215.1 3600.9 215.8 3596.9 216.4 3593.0 217.0 3589.0 217.7 3585.1 218.3 3581.1 219.0 3577.2 219.6 3573.2 220.3 3569.3 221.1 3565.4 221.8 3561.4 222.5 3557.5 223.3 3553.6 224.0 3549.6 224.8 3545.7 225.7 3541.8 226.5 3537.9 227.4 3534.0 228.3 3530.1 229.2 3526.2 230.2 3522.3 231.2 3518.4 232.2 3514.6 233.3 3510.7 234.4 3506.9 235.6 3503.0 236.8 3499.2 238.0 3495.4 239.3 3491.6 240.6 3487.8 241.9 3484.1 243.4 3480.3 244.8 3476.6 246.3 3472.9 247.9 3469.2 249.5 3465.6 251.2 3461.9 252.9 3458.3 254.7 3454.7 256.6 3451.2 258.5 3447.7 260.5 3444.2 262.6 3440.8 264.7 3437.4 266.9 3434.1 269.2 3430.8 271.6 3427.6 274.0 3424.4 276.5 3421.2 279.0 3418.1 281.6 3415.1 284.2 3412.1 286.9 3409.1 289.7 3406.2 292.5 3403.4 295.4 3400.7 298.4 3398.0 301.5 3395.5 304.7 3393.1 308.0 3390.8 311.4 3388.6 314.8 3386.6 318.3 3384.6 321.8 3382.7 325.4 3380.9 329.0 3379.2 332.6 3377.5 336.2 3375.8 339.9 3374.2 343.6 3372.7 347.3 3371.2 351.0 3369.7 354.8 3368.4 358.6 3367.0 362.4 3365.8 366.2 3364.6 370.0 3363.4 373.9 3362.3 377.7 3361.3 381.6 3360.3 385.5 3359.3 389.4 3358.4 393.3 3357.5 397.2 3356.6 401.1 3355.8 405.0 3354.9 408.9 3354.1 412.8 3353.2 416.7 3352.4 420.6 3351.5 424.6 3350.7 428.5 3349.8 432.4 3349.0 436.3 3348.2 440.2 3347.3 444.1 3346.5 448.1 3345.7 452.0 3345.0 455.9 3344.2 459.8 3343.4 463.8 3342.7 467.7 3342.0 471.7 3341.3 475.6 3340.6 479.5 3339.9 483.5 3339.3 487.5 3338.7 491.4 3338.1 495.4 3337.5 499.3 3336.9 503.3 3336.3 507.3 3335.8 511.2 3335.3 515.2 3334.7 519.2 3334.2 523.1 3333.7 527.1 3333.2 531.1 3332.7 535.0 3332.3 539.0 3331.8 543.0 3331.3 547.0 3330.9 551.0 3330.4 554.9 3330.0 558.9 3329.6 562.9 3329.1 566.9 3328.7 570.8 3328.3 574.8 3327.9 578.8 3327.5 582.8 3327.1 586.8 3326.7 590.8 3326.3 594.7 3325.9 598.7 3325.5 602.7 3325.1 606.7 3324.8 610.7 3324.4 614.7 3324.0 618.7 3323.7 622.6 3323.3 626.6 3323.0 630.6 3322.6 634.6 3322.3 638.6 3321.9 642.6 3321.6 646.6 3321.2 650.6 3320.9 654.5 3320.6 658.5 3320.2 662.5 3319.9 666.5 3319.5 670.5 3319.2 674.5 3318.8 678.5 3318.5 682.5 3318.1 686.4 3317.8 690.4 3317.5 694.4 3317.1 698.4 3316.8 702.4 3316.5 706.4 3316.2 710.4 3315.9 714.4 3315.6 718.4 3315.4 722.4 3315.1 726.4 3314.9 730.4 3314.7 734.3 3314.4 738.3 3314.3 742.3 3314.1 746.3 3313.9 750.3 3313.7 754.3 3313.6 758.3 3313.4 762.3 3313.3 766.3 3313.1 770.3 3313.0 774.3 3312.9 778.3 3312.7 782.3 3312.6 786.3 3312.5 790.3 3312.4 794.3 3312.2 798.3 3312.1 802.3 3312.0 806.3 3311.8 810.3 3311.7 814.3 3311.5 818.3 3311.4 822.3 3311.2 826.3 3311.1 830.3 3310.9 834.3 3310.7 838.3 3310.6 842.3 3310.4 846.3 3310.2 850.3 3310.1 854.3 3309.9 858.3 3309.8 862.3 3309.6 866.3 3309.4 870.3 3309.3 874.3 3309.1 878.3 3308.9 882.3 3308.8 886.3 3308.6 890.3 3308.4 894.3 3308.3 898.3 3308.1 902.3 3307.9 906.3 3307.8 910.3 3307.6 914.3 3307.4 918.3 3307.3 922.3 3307.1 926.3 3307.0 930.3 3306.8 934.3 3306.6 938.3 3306.5 942.3 3306.3 946.3 3306.1 950.3 3306.0 954.3 3305.8 958.3 3305.6 962.3 3305.5 966.3 3305.3 970.3 3305.2 974.3 3305.0 977.3 3304.9" stroke="#0000ff" stroke-linecap="square"/>
<path d="M164.0 4044.8 164.1 4043.8 164.4 4039.8 164.7 4035.8 165.1 4031.8 165.5 4027.9 166.1 4023.9 166.6 4019.9 167.2 4016.0 167.8 4012.0 168.4 4008.1 169.0 4004.1 169.7 4000.2 170.4 3996.2 171.2 3992.3 172.0 3988.4 172.8 3984.5 173.5 3980.5 174.2 3976.6 174.8 3972.7 175.5 3968.7 176.2 3964.8 176.8 3960.8 177.3 3956.9 177.8 3952.9 178.3 3948.9 178.7 3944.9 179.1 3941.0 179.5 3937.0 179.9 3933.0 180.4 3929.0 180.8 3925.0 181.2 3921.1 181.6 3917.1 182.0 3913.1 182.4 3909.1 182.7 3905.1 183.1 3901.1 183.5 3897.2 183.8 3893.2 184.2 3889.2 184.6 3885.2 184.9 3881.2 185.3 3877.2 185.7 3873.3 186.1 3869.3 186.4 3865.3 186.8 3861.3 187.2 3857.3 187.6 3853.3 188.0 3849.4 188.4 3845.4 188.7 3841.4 189.1 3837.4 189.5 3833.4 189.9 3829.5 190.3 3825.5 190.7 3821.5 191.1 3817.5 191.5 3813.5 191.9 3809.5 192.3 3805.6 192.7 3801.6 193.1 3797.6 193.5 3793.6 193.9 3789.6 194.3 3785.7 194.7 3781.7 195.2 3777.7 195.6 3773.7 196.0 3769.8 196.5 3765.8 196.9 3761.8 197.4 3757.8 197.8 3753.8 198.3 3749.9 198.7 3745.9 199.2 3741.9 199.6 3737.9 200.1 3734.0 200.6 3730.0 201.1 3726.0 201.6 3722.1 202.1 3718.1 202.6 3714.1 203.1 3710.2 203.6 3706.2 204.1 3702.2 204.7 3698.3 205.2 3694.3 205.8 3690.3 206.4 3686.4 207.0 3682.4 207.7 3678.5 208.3 3674.5 208.9 3670.6 209.6 3666.6 210.3 3662.7 211.0 3658.8 211.6 3654.8 212.3 3650.9 213.0 3646.9 213.7 3643.0 214.3 3639.0 215.0 3635.1 215.7 3631.1 216.4 3627.2 217.0 3623.3 217.7 3619.3 218.4 3615.4 219.1 3611.4 219.8 3607.5 220.5 3603.6 221.2 3599.6 221.9 3595.7 222.7 3591.8 223.5 3587.8 224.4 3583.9 225.2 3580.0 226.1 3576.1 227.0 3572.2 228.0 3568.3 229.0 3564.5 230.0 3560.6 231.1 3556.8 232.3 3552.9 233.4 3549.1 234.6 3545.3 235.8 3541.5 237.1 3537.7 238.4 3533.9 239.7 3530.1 241.1 3526.4 242.5 3522.6 243.9 3518.9 245.3 3515.1 246.8 3511.4 248.3 3507.7 249.8 3504.0 251.3 3500.3 252.9 3496.6 254.5 3493.0 256.2 3489.3 257.9 3485.7 259.6 3482.1 261.4 3478.5 263.1 3474.9 265.0 3471.3 266.8 3467.8 268.7 3464.3 270.6 3460.7 272.5 3457.2 274.4 3453.7 276.4 3450.2 278.4 3446.8 280.5 3443.4 282.7 3440.0 284.9 3436.7 287.2 3433.5 289.6 3430.3 292.1 3427.1 294.7 3424.0 297.3 3421.0 299.9 3418.0 302.6 3415.1 305.4 3412.2 308.3 3409.4 311.2 3406.7 314.3 3404.1 317.5 3401.7 320.8 3399.5 324.2 3397.4 327.6 3395.4 331.2 3393.6 334.8 3391.9 338.5 3390.3 342.2 3388.8 345.9 3387.3 349.6 3385.9 353.4 3384.4 357.1 3382.9 360.8 3381.4 364.5 3379.8 368.1 3378.2 371.8 3376.6 375.4 3375.0 379.1 3373.3 382.7 3371.7 386.4 3370.0 390.0 3368.5 393.7 3366.9 397.5 3365.5 401.2 3364.1 405.0 3362.8 408.8 3361.6 412.6 3360.5 416.5 3359.4 420.4 3358.3 424.2 3357.3 428.1 3356.3 432.0 3355.3 435.9 3354.4 439.8 3353.5 443.7 3352.6 447.6 3351.7 451.5 3350.9 455.4 3350.1 459.3 3349.3 463.3 3348.5 467.2 3347.8 471.1 3347.0 475.0 3346.3 479.0 3345.6 482.9 3344.9 486.9 3344.2 490.8 3343.5 494.8 3342.9 498.7 3342.2 502.7 3341.6 506.6 3341.0 510.6 3340.4 514.5 3339.8 518.5 3339.2 522.4 3338.7 526.4 3338.1 530.4 3337.6 534.3 3337.0 538.3 3336.5 542.3 3336.0 546.2 3335.5 550.2 3335.0 554.2 3334.5 558.1 3334.0 562.1 3333.5 566.1 3333.0 570.1 3332.6 574.0 3332.1 578.0 3331.6 582.0 3331.2 586.0 3330.7 589.9 3330.3 593.9 3329.8 597.9 3329.4 601.9 3328.9 605.8 3328.5 609.8 3328.1 613.8 3327.7 617.8 3327.3 621.8 3326.9 625.7 3326.5 629.7 3326.1 633.7 3325.7 637.7 3325.3 641.7 3325.0 645.7 3324.6 649.6 3324.3 653.6 3324.0 657.6 3323.7 661.6 3323.4 665.6 3323.1 669.6 3322.8 673.6 3322.5 677.6 3322.2 681.6 3321.9 685.6 3321.6 689.6 3321.4 693.5 3321.1 697.5 3320.9 701.5 3320.6 705.5 3320.3 709.5 3320.1 713.5 3319.9 717.5 3319.6 721.5 3319.4 725.5 3319.1 729.5 3318.9 733.5 3318.7 737.5 3318.4 741.5 3318.2 745.5 3318.0 749.5 3317.8 753.4 3317.5 757.4 3317.3 761.4 3317.1 765.4 3316.9 769.4 3316.7 773.4 3316.5 777.4 3316.3 781.4 3316.0 785.4 3315.8 789.4 3315.7 793.4 3315.5 797.4 3315.3 801.4 3315.1 805.4 3314.9 809.4 3314.7 813.4 3314.5 817.4 3314.4 821.4 3314.2 825.4 3314.1 829.4 3313.9 833.4 3313.7 837.4 3313.6 841.4 3313.4 845.4 3313.3 849.4 3313.2 853.4 3313.0 857.4 3312.9 861.4 3312.8 865.4 3312.6 869.4 3312.5 873.4 3312.3 877.4 3312.2 881.4 3312.1 885.4 3311.9 889.4 3311.8 893.4 3311.6 897.3 3311.5 901.3 3311.3 905.3 3311.1 909.3 3311.0 913.3 3310.8 917.3 3310.7 921.3 3310.5 925.3 3310.3 929.3 3310.2 933.3 3310.0 937.3 3309.8 941.3 3309.7 945.3 3309.5 949.3 3309.4 953.3 3309.2 957.3 3309.0 961.3 3308.9 965.3 3308.7 969.3 3308.5 973.3 3308.4 977.3 3308.2" stroke="#00ffff" stroke-dasharray="22.5,9.73"/>
<path d="M164.0 4044.8 164.2 4043.8 165.2 4040.0 166.2 4036.1 167.3 4032.2 168.3 4028.3 169.3 4024.5 170.5 4020.6 171.6 4016.8 172.8 4013.0 174.0 4009.2 175.2 4005.4 176.4 4001.5 177.6 3997.7 178.6 3993.9 179.7 3990.0 180.7 3986.1 181.7 3982.3 182.7 3978.4 183.7 3974.5 184.6 3970.6 185.6 3966.7 186.5 3962.8 187.4 3958.9 188.4 3955.0 189.3 3951.1 190.2 3947.2 191.1 3943.3 191.9 3939.4 192.8 3935.5 193.7 3931.6 194.6 3927.7 195.4 3923.8 196.3 3919.9 197.1 3916.0 198.0 3912.1 198.8 3908.2 199.7 3904.3 200.5 3900.4 201.4 3896.4 202.2 3892.5 203.1 3888.6 203.9 3884.7 204.7 3880.8 205.5 3876.9 206.4 3872.9 207.2 3869.0 208.1 3865.1 209.0 3861.2 209.8 3857.3 210.7 3853.4 211.7 3849.5 212.6 3845.7 213.7 3841.8 214.7 3837.9 215.8 3834.1 216.9 3830.2 218.1 3826.4 219.2 3822.6 220.4 3818.7 221.6 3814.9 222.8 3811.1 224.0 3807.3 225.2 3803.5 226.5 3799.7 227.7 3795.9 228.9 3792.1 230.2 3788.3 231.4 3784.5 232.7 3780.7 234.0 3776.9 235.2 3773.1 236.5 3769.3 237.8 3765.5 239.0 3761.7 240.3 3757.9 241.5 3754.1 242.9 3750.3 244.2 3746.5 245.6 3742.8 247.0 3739.0 248.5 3735.3 250.1 3731.7 251.7 3728.0 253.4 3724.4 255.1 3720.8 256.8 3717.1 258.4 3713.5 260.0 3709.8 261.6 3706.1 263.1 3702.4 264.6 3698.7 266.1 3695.0 267.6 3691.3 269.1 3687.6 270.7 3683.9 272.2 3680.2 273.8 3676.5 275.5 3672.9 277.2 3669.3 278.9 3665.7 280.6 3662.1 282.4 3658.5 284.2 3654.9 286.0 3651.3 287.8 3647.7 289.6 3644.1 291.4 3640.6 293.2 3637.0 295.0 3633.5 296.9 3629.9 298.8 3626.4 300.8 3622.9 302.8 3619.5 304.9 3616.1 307.0 3612.7 309.2 3609.3 311.4 3606.0 313.6 3602.7 315.9 3599.4 318.2 3596.1 320.6 3592.9 323.0 3589.7 325.4 3586.5 327.9 3583.3 330.3 3580.2 332.9 3577.1 335.5 3574.0 338.1 3571.0 340.8 3568.1 343.6 3565.2 346.5 3562.4 349.3 3559.6 352.3 3556.9 355.2 3554.2 358.2 3551.5 361.2 3548.9 364.2 3546.2 367.2 3543.6 370.2 3540.9 373.2 3538.3 376.3 3535.7 379.4 3533.2 382.5 3530.7 385.7 3528.3 388.9 3526.0 392.3 3523.7 395.6 3521.6 399.0 3519.4 402.4 3517.4 405.9 3515.3 409.3 3513.2 412.7 3511.1 416.0 3508.9 419.3 3506.6 422.6 3504.3 425.8 3502.0 429.1 3499.7 432.4 3497.5 435.8 3495.3 439.2 3493.2 442.7 3491.2 446.2 3489.3 449.8 3487.5 453.4 3485.8 457.0 3484.1 460.7 3482.5 464.4 3480.9 468.1 3479.4 471.8 3477.9 475.5 3476.5 479.2 3475.1 483.0 3473.7 486.7 3472.3 490.5 3470.9 494.3 3469.6 498.0 3468.2 501.8 3466.9 505.6 3465.6 509.4 3464.3 513.2 3463.1 517.0 3461.8 520.8 3460.6 524.6 3459.4 528.4 3458.2 532.3 3457.0 536.1 3455.8 539.9 3454.7 543.8 3453.6 547.6 3452.5 551.5 3451.4 555.3 3450.3 559.2 3449.3 563.0 3448.2 566.9 3447.2 570.8 3446.2 574.7 3445.2 578.6 3444.3 582.5 3443.4 586.4 3442.5 590.3 3441.6 594.2 3440.7 598.1 3439.9 602.0 3439.0 605.9 3438.2 609.8 3437.4 613.7 3436.6 617.7 3435.8 621.6 3435.0 625.5 3434.2 629.4 3433.4 633.4 3432.6 637.3 3431.8 641.2 3431.0 645.1 3430.1 649.0 3429.3 652.9 3428.4 656.8 3427.6 660.7 3426.7 664.6 3425.8 668.5 3424.9 672.4 3424.0 676.3 3423.1 680.2 3422.2 684.1 3421.3 688.0 3420.4 691.9 3419.4 695.8 3418.5 699.7 3417.7 703.6 3416.8 707.5 3415.9 711.4 3415.1 715.4 3414.2 719.3 3413.4 723.2 3412.6 727.1 3411.8 731.1 3411.1 735.0 3410.4 738.9 3409.7 742.9 3409.0 746.8 3408.3 750.8 3407.6 754.7 3406.9 758.6 3406.3 762.6 3405.6 766.6 3405.0 770.5 3404.4 774.5 3403.7 778.4 3403.1 782.4 3402.6 786.3 3402.0 790.3 3401.4 794.3 3400.8 798.2 3400.3 802.2 3399.8 806.2 3399.2 810.1 3398.7 814.1 3398.2 818.1 3397.7 822.0 3397.3 826.0 3396.8 830.0 3396.4 834.0 3395.9 837.9 3395.5 841.9 3395.1 845.9 3394.7 849.9 3394.3 853.9 3393.9 857.9 3393.5 861.8 3393.1 865.8 3392.7 869.8 3392.3 873.8 3392.0 877.8 3391.6 881.8 3391.2 885.7 3390.8 889.7 3390.4 893.7 3390.0 897.7 3389.6 901.7 3389.2 905.6 3388.8 909.6 3388.3 913.6 3387.9 917.6 3387.5 921.6 3387.1 925.5 3386.7 929.5 3386.3 933.5 3385.9 937.5 3385.5 941.5 3385.1 945.5 3384.7 949.4 3384.2 953.4 3383.8 957.4 3383.4 961.4 3383.0 965.4 3382.6 969.3 3382.2 973.3 3381.8 977.3 3381.4" stroke="#880015" stroke-dasharray="6.08,10.03"/>
</g>
<rect x="164" y="3232.4" width="813.3" height="812.4" fill="none" stroke="#000" stroke-width="2.43" stroke-linejoin="miter"/>
<path d="M164 4044.8v10.64M245.33 4044.8v10.64M326.66 4044.8v10.64M407.99 4044.8v10.64M489.32 4044.8v10.64M570.65 4044.8v10.64M651.98 4044.8v10.64M733.31 4044.8v10.64M814.64 4044.8v10.64M895.97 4044.8v10.64M977.3 4044.8v10.64M164 4044.8h-10.64M164 3957.38h-10.64M164 3869.96h-10.64M164 3782.54h-10.64M164 3695.12h-10.64M164 3607.7h-10.64M164 3520.28h-10.64M164 3432.86h-10.64M164 3345.43h-10.64M164 3258.01h-10.64" stroke="#000" stroke-width="2.43" fill="none"/>
<g class="n" font-size="32" fill="#111">
<text x="163.7" y="4087.5" text-anchor="middle">0</text>
<text x="245.03" y="4087.5" text-anchor="middle">5</text>
<text x="326.36" y="4087.5" text-anchor="middle">10</text>
<text x="407.69" y="4087.5" text-anchor="middle">15</text>
<text x="489.02" y="4087.5" text-anchor="middle">20</text>
<text x="570.35" y="4087.5" text-anchor="middle">25</text>
<text x="651.68" y="4087.5" text-anchor="middle">30</text>
<text x="733.01" y="4087.5" text-anchor="middle">35</text>
<text x="814.34" y="4087.5" text-anchor="middle">40</text>
<text x="895.67" y="4087.5" text-anchor="middle">45</text>
<text x="977" y="4087.5" text-anchor="middle">50</text>
<text x="143.7" y="4054.9" text-anchor="end">0.0234</text>
<text x="143.7" y="3967.48" text-anchor="end">0.1234</text>
<text x="143.7" y="3880.06" text-anchor="end">0.2234</text>
<text x="143.7" y="3792.64" text-anchor="end">0.3234</text>
<text x="143.7" y="3705.22" text-anchor="end">0.4234</text>
<text x="143.7" y="3617.8" text-anchor="end">0.5234</text>
<text x="143.7" y="3530.38" text-anchor="end">0.6234</text>
<text x="143.7" y="3442.96" text-anchor="end">0.7234</text>
<text x="143.7" y="3355.53" text-anchor="end">0.8234</text>
<text x="143.7" y="3268.11" text-anchor="end">0.9234</text>
</g>
<text class="tb" x="567.25" y="3211.5" font-size="36.5" text-anchor="middle" textLength="741.48" lengthAdjust="spacing">Precision plots of OPE - Viewpoint Change</text>
<text class="t" x="568.25" y="4127" font-size="30.4" text-anchor="middle" textLength="324.47" lengthAdjust="spacing">Location error threshold</text>
<text class="t" x="0" y="0" font-size="30.4" text-anchor="middle" textLength="128.84" lengthAdjust="spacing" transform="translate(39.8 3638.7) rotate(-90)">Precision</text>
<rect x="619.57" y="3703.8" width="342.53" height="325.1" rx="6.08" ry="6.08" fill="#ffffff" fill-opacity="0.8" stroke="#d4d4d4" stroke-width="2.1"/>
<path d="M629.77 3725.6H690.57" stroke="#ff0000" stroke-width="6.08" fill="none" stroke-linecap="square"/>
<text class="t" x="714.87" y="3735.6" font-size="30.4">[0.908] Ours</text>
<path d="M629.77 3759.95H690.57" stroke="#00ff00" stroke-width="6.08" fill="none" stroke-dasharray="22.5,9.73"/>
<text class="t" x="714.87" y="3769.95" font-size="30.4">[0.900] SiamPT</text>
<path d="M629.77 3794.3H690.57" stroke="#ff00ff" stroke-width="6.08" fill="none" stroke-dasharray="6.08,10.03"/>
<text class="t" x="714.87" y="3804.3" font-size="30.4">[0.892] TransT</text>
<path d="M629.77 3828.65H690.57" stroke="#ffff00" stroke-width="6.08" fill="none" stroke-linecap="square"/>
<text class="t" x="714.87" y="3838.65" font-size="30.4">[0.889] TrSiam</text>
<path d="M629.77 3863H690.57" stroke="#00a2e8" stroke-width="6.08" fill="none" stroke-dasharray="22.5,9.73"/>
<text class="t" x="714.87" y="3873" font-size="30.4">[0.879] TrDiMP</text>
<path d="M629.77 3897.35H690.57" stroke="#808080" stroke-width="6.08" fill="none" stroke-dasharray="6.08,10.03"/>
<text class="t" x="714.87" y="3907.35" font-size="30.4">[0.844] ATOM</text>
<path d="M629.77 3931.7H690.57" stroke="#0000ff" stroke-width="6.08" fill="none" stroke-linecap="square"/>
<text class="t" x="714.87" y="3941.7" font-size="30.4">[0.829] SiamAttn</text>
<path d="M629.77 3966.05H690.57" stroke="#00ffff" stroke-width="6.08" fill="none" stroke-dasharray="22.5,9.73"/>
<text class="t" x="714.87" y="3976.05" font-size="30.4">[0.824] SiamBAN</text>
<path d="M629.77 4000.4H690.57" stroke="#880015" stroke-width="6.08" fill="none" stroke-dasharray="6.08,10.03"/>
<text class="t" x="714.87" y="4010.4" font-size="30.4">[0.680] ECO</text>
</g>
<g>
<path d="M1395.7 3232.4V4044.8M1477.03 3232.4V4044.8M1558.36 3232.4V4044.8M1639.69 3232.4V4044.8M1721.02 3232.4V4044.8M1802.35 3232.4V4044.8M1883.68 3232.4V4044.8M1965.01 3232.4V4044.8M2046.34 3232.4V4044.8M2127.67 3232.4V4044.8M2209 3232.4V4044.8M1395.7 4044.8H2209M1395.7 3956.96H2209M1395.7 3869.13H2209M1395.7 3781.29H2209M1395.7 3693.45H2209M1395.7 3605.62H2209M1395.7 3517.78H2209M1395.7 3429.94H2209M1395.7 3342.11H2209M1395.7 3254.27H2209" stroke="#b0b0b0" stroke-width="2.2" fill="none"/>
<clipPath id="c7"><rect x="1395.7" y="3232.4" width="813.3" height="812.4"/></clipPath>
<g clip-path="url(#c7)" fill="none" stroke-width="6.08" stroke-linejoin="round">
<path d="M1395.7 3254.3 1436.4 3255.0 1477.0 3255.7 1517.7 3256.5 1558.4 3257.2 1599.0 3258.6 1639.7 3260.8 1680.4 3263.6 1721.0 3267.5 1761.7 3273.0 1802.3 3280.1 1843.0 3290.9 1883.7 3310.7 1924.3 3339.5 1965.0 3367.6 2005.7 3417.6 2046.3 3498.5 2087.0 3618.8 2127.7 3783.9 2168.3 3990.3 2209.0 4044.8" stroke="#ff0000" stroke-linecap="square"/>
<path d="M1395.7 3257.9 1436.4 3258.6 1477.0 3259.3 1517.7 3260.3 1558.4 3261.5 1599.0 3262.9 1639.7 3265.1 1680.4 3267.5 1721.0 3271.1 1761.7 3276.5 1802.3 3283.7 1843.0 3294.5 1883.7 3316.0 1924.3 3344.7 1965.0 3379.0 2005.7 3426.4 2046.3 3509.9 2087.0 3632.8 2127.7 3803.2 2168.3 3999.1 2209.0 4044.8" stroke="#00ff00" stroke-dasharray="22.5,9.73"/>
<path d="M1395.7 3260.4 1436.4 3261.5 1477.0 3262.5 1517.7 3263.9 1558.4 3265.4 1599.0 3267.6 1639.7 3270.4 1680.4 3274.0 1721.0 3278.3 1761.7 3283.8 1802.3 3291.9 1843.0 3303.5 1883.7 3323.2 1924.3 3347.4 1965.0 3384.3 2005.7 3437.0 2046.3 3521.3 2087.0 3652.2 2127.7 3828.7 2168.3 4007.0 2209.0 4044.8" stroke="#ff00ff" stroke-dasharray="6.08,10.03"/>
<path d="M1395.7 3262.2 1436.4 3263.2 1477.0 3264.3 1517.7 3265.8 1558.4 3267.2 1599.0 3269.4 1639.7 3272.2 1680.4 3275.8 1721.0 3280.1 1761.7 3285.5 1802.3 3294.5 1843.0 3307.1 1883.7 3330.3 1924.3 3350.9 1965.0 3392.2 2005.7 3453.7 2046.3 3543.3 2087.0 3680.3 2127.7 3848.0 2168.3 4013.2 2209.0 4044.8" stroke="#ffff00" stroke-linecap="square"/>
<path d="M1395.7 3268.6 1436.4 3270.1 1477.0 3271.5 1517.7 3273.0 1558.4 3274.7 1599.0 3277.3 1639.7 3280.1 1680.4 3284.4 1721.0 3290.2 1761.7 3296.3 1802.3 3305.2 1843.0 3319.6 1883.7 3337.7 1924.3 3358.8 1965.0 3403.6 2005.7 3462.4 2046.3 3554.7 2087.0 3694.3 2127.7 3862.1 2168.3 4015.8 2209.0 4044.8" stroke="#00a2e8" stroke-dasharray="22.5,9.73"/>
<path d="M1395.7 3299.9 1436.4 3301.6 1477.0 3303.5 1517.7 3305.9 1558.4 3309.5 1599.0 3314.2 1639.7 3318.9 1680.4 3323.2 1721.0 3328.6 1761.7 3333.9 1802.3 3341.1 1843.0 3355.5 1883.7 3373.7 1924.3 3395.7 1965.0 3437.0 2005.7 3484.4 2046.3 3559.9 2087.0 3697.0 2127.7 3867.4 2168.3 4018.4 2209.0 4044.8" stroke="#808080" stroke-dasharray="6.08,10.03"/>
<path d="M1395.7 3274.7 1436.4 3277.6 1477.0 3280.1 1517.7 3283.7 1558.4 3289.1 1599.0 3296.3 1639.7 3301.6 1680.4 3308.8 1721.0 3317.8 1761.7 3326.7 1802.3 3339.4 1843.0 3357.3 1883.7 3386.9 1924.3 3417.6 1965.0 3467.7 2005.7 3531.8 2046.3 3641.6 2087.0 3764.6 2127.7 3921.0 2168.3 4023.7 2209.0 4044.8" stroke="#0000ff" stroke-linecap="square"/>
<path d="M1395.7 3308.8 1436.4 3310.7 1477.0 3313.1 1517.7 3316.0 1558.4 3319.6 1599.0 3323.9 1639.7 3328.6 1680.4 3333.9 1721.0 3340.4 1761.7 3350.1 1802.3 3362.7 1843.0 3380.6 1883.7 3399.2 1924.3 3422.9 1965.0 3462.4 2005.7 3521.3 2046.3 3604.7 2087.0 3736.5 2127.7 3890.2 2168.3 4021.1 2209.0 4044.8" stroke="#00ffff" stroke-dasharray="22.5,9.73"/>
<path d="M1395.7 3315.3 1436.4 3317.1 1477.0 3326.7 1517.7 3341.8 1558.4 3369.9 1599.0 3387.8 1639.7 3418.3 1680.4 3445.9 1721.0 3486.5 1761.7 3526.0 1802.3 3574.4 1843.0 3630.2 1883.7 3684.7 1924.3 3736.5 1965.0 3795.3 2005.7 3853.3 2046.3 3918.3 2087.0 3973.7 2127.7 4013.2 2168.3 4032.5 2209.0 4044.8" stroke="#880015" stroke-dasharray="6.08,10.03"/>
</g>
<rect x="1395.7" y="3232.4" width="813.3" height="812.4" fill="none" stroke="#000" stroke-width="2.43" stroke-linejoin="miter"/>
<path d="M1395.7 4044.8v10.64M1477.03 4044.8v10.64M1558.36 4044.8v10.64M1639.69 4044.8v10.64M1721.02 4044.8v10.64M1802.35 4044.8v10.64M1883.68 4044.8v10.64M1965.01 4044.8v10.64M2046.34 4044.8v10.64M2127.67 4044.8v10.64M2209 4044.8v10.64M1395.7 4044.8h-10.64M1395.7 3956.96h-10.64M1395.7 3869.13h-10.64M1395.7 3781.29h-10.64M1395.7 3693.45h-10.64M1395.7 3605.62h-10.64M1395.7 3517.78h-10.64M1395.7 3429.94h-10.64M1395.7 3342.11h-10.64M1395.7 3254.27h-10.64" stroke="#000" stroke-width="2.43" fill="none"/>
<g class="n" font-size="32" fill="#111">
<text x="1393.7" y="4087.5" text-anchor="middle">0.0</text>
<text x="1475.03" y="4087.5" text-anchor="middle">0.1</text>
<text x="1556.36" y="4087.5" text-anchor="middle">0.2</text>
<text x="1637.69" y="4087.5" text-anchor="middle">0.3</text>
<text x="1719.02" y="4087.5" text-anchor="middle">0.4</text>
<text x="1800.35" y="4087.5" text-anchor="middle">0.5</text>
<text x="1881.68" y="4087.5" text-anchor="middle">0.6</text>
<text x="1963.01" y="4087.5" text-anchor="middle">0.7</text>
<text x="2044.34" y="4087.5" text-anchor="middle">0.8</text>
<text x="2125.67" y="4087.5" text-anchor="middle">0.9</text>
<text x="2207" y="4087.5" text-anchor="middle">1.0</text>
<text x="1375.4" y="4054.9" text-anchor="end">0.0</text>
<text x="1375.4" y="3967.06" text-anchor="end">0.1</text>
<text x="1375.4" y="3879.23" text-anchor="end">0.2</text>
<text x="1375.4" y="3791.39" text-anchor="end">0.3</text>
<text x="1375.4" y="3703.55" text-anchor="end">0.4</text>
<text x="1375.4" y="3615.72" text-anchor="end">0.5</text>
<text x="1375.4" y="3527.88" text-anchor="end">0.6</text>
<text x="1375.4" y="3440.04" text-anchor="end">0.7</text>
<text x="1375.4" y="3352.21" text-anchor="end">0.8</text>
<text x="1375.4" y="3264.37" text-anchor="end">0.9</text>
</g>
<text class="tb" x="1801.2" y="3211.5" font-size="36.5" text-anchor="middle" textLength="726.42" lengthAdjust="spacing">Success plots of OPE - Viewpoint Change</text>
<text class="t" x="1800.2" y="4127" font-size="30.4" text-anchor="middle" textLength="242.47" lengthAdjust="spacing">Overlap threshold</text>
<text class="t" x="0" y="0" font-size="30.4" text-anchor="middle" textLength="176.03" lengthAdjust="spacing" transform="translate(1317.2 3636.35) rotate(-90)">Success rate</text>
<rect x="1410.9" y="3703.8" width="342.53" height="325.1" rx="6.08" ry="6.08" fill="#ffffff" fill-opacity="0.8" stroke="#d4d4d4" stroke-width="2.1"/>
<path d="M1423.4 3725.6H1484.2" stroke="#ff0000" stroke-width="6.08" fill="none" stroke-linecap="square"/>
<text class="t" x="1508.4" y="3735.6" font-size="30.4">[0.724] Ours</text>
<path d="M1423.4 3759.95H1484.2" stroke="#00ff00" stroke-width="6.08" fill="none" stroke-dasharray="22.5,9.73"/>
<text class="t" x="1508.4" y="3769.95" font-size="30.4">[0.716] SiamPT</text>
<path d="M1423.4 3794.3H1484.2" stroke="#ff00ff" stroke-width="6.08" fill="none" stroke-dasharray="6.08,10.03"/>
<text class="t" x="1508.4" y="3804.3" font-size="30.4">[0.708] TransT</text>
<path d="M1423.4 3828.65H1484.2" stroke="#ffff00" stroke-width="6.08" fill="none" stroke-linecap="square"/>
<text class="t" x="1508.4" y="3838.65" font-size="30.4">[0.698] TrSiam</text>
<path d="M1423.4 3863H1484.2" stroke="#00a2e8" stroke-width="6.08" fill="none" stroke-dasharray="22.5,9.73"/>
<text class="t" x="1508.4" y="3873" font-size="30.4">[0.689] TrDiMP</text>
<path d="M1423.4 3897.35H1484.2" stroke="#808080" stroke-width="6.08" fill="none" stroke-dasharray="6.08,10.03"/>
<text class="t" x="1508.4" y="3907.35" font-size="30.4">[0.661] SiamAttn</text>
<path d="M1423.4 3931.7H1484.2" stroke="#0000ff" stroke-width="6.08" fill="none" stroke-linecap="square"/>
<text class="t" x="1508.4" y="3941.7" font-size="30.4">[0.652] ATOM</text>
<path d="M1423.4 3966.05H1484.2" stroke="#00ffff" stroke-width="6.08" fill="none" stroke-dasharray="22.5,9.73"/>
<text class="t" x="1508.4" y="3976.05" font-size="30.4">[0.639] SiamBAN</text>
<path d="M1423.4 4000.4H1484.2" stroke="#880015" stroke-width="6.08" fill="none" stroke-dasharray="6.08,10.03"/>
<text class="t" x="1508.4" y="4010.4" font-size="30.4">[0.473] ECO</text>
</g>
</svg></div></body></html>
